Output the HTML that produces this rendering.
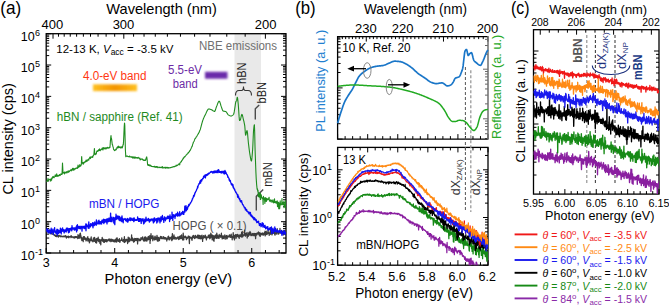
<!DOCTYPE html><html><head><meta charset="utf-8"><style>html,body{margin:0;padding:0;background:#fff;overflow:hidden}svg{display:block}text{font-family:"Liberation Sans", sans-serif}</style></head><body>
<svg width="669" height="306" viewBox="0 0 669 306">
<rect width="669" height="306" fill="#fff"/>
<rect x="234.5" y="33.7" width="26.5" height="219.3" fill="#e9e9e9"/>
<path d="M46.20 253.00L46.20 248.00M59.90 253.00L59.90 250.00M73.61 253.00L73.61 250.00M87.31 253.00L87.31 250.00M101.01 253.00L101.01 250.00M114.71 253.00L114.71 248.00M128.42 253.00L128.42 250.00M142.12 253.00L142.12 250.00M155.82 253.00L155.82 250.00M169.53 253.00L169.53 250.00M183.23 253.00L183.23 248.00M196.93 253.00L196.93 250.00M210.63 253.00L210.63 250.00M224.34 253.00L224.34 250.00M238.04 253.00L238.04 250.00M251.74 253.00L251.74 248.00M265.45 253.00L265.45 250.00M279.15 253.00L279.15 250.00M265.39 33.70L265.39 38.70M245.17 33.70L245.17 36.70M226.78 33.70L226.78 36.70M209.99 33.70L209.99 36.70M194.60 33.70L194.60 36.70M180.44 33.70L180.44 36.70M167.38 33.70L167.38 36.70M155.27 33.70L155.27 36.70M144.04 33.70L144.04 36.70M133.58 33.70L133.58 36.70M123.81 33.70L123.81 38.70M114.68 33.70L114.68 36.70M106.12 33.70L106.12 36.70M98.07 33.70L98.07 36.70M90.50 33.70L90.50 36.70M83.36 33.70L83.36 36.70M76.62 33.70L76.62 36.70M70.24 33.70L70.24 36.70M64.20 33.70L64.20 36.70M58.47 33.70L58.47 36.70M53.02 33.70L53.02 38.70" stroke="#000" stroke-width="1" fill="none"/>
<path d="M46.20 253.01L51.20 253.01M46.20 243.58L49.20 243.58M46.20 238.06L49.20 238.06M46.20 234.15L49.20 234.15M46.20 231.11L49.20 231.11M46.20 228.63L49.20 228.63M46.20 226.53L49.20 226.53M46.20 224.72L49.20 224.72M46.20 223.11L49.20 223.11M46.20 221.68L51.20 221.68M46.20 212.25L49.20 212.25M46.20 206.73L49.20 206.73M46.20 202.82L49.20 202.82M46.20 199.78L49.20 199.78M46.20 197.30L49.20 197.30M46.20 195.20L49.20 195.20M46.20 193.39L49.20 193.39M46.20 191.78L49.20 191.78M46.20 190.35L51.20 190.35M46.20 180.92L49.20 180.92M46.20 175.40L49.20 175.40M46.20 171.49L49.20 171.49M46.20 168.45L49.20 168.45M46.20 165.97L49.20 165.97M46.20 163.87L49.20 163.87M46.20 162.06L49.20 162.06M46.20 160.45L49.20 160.45M46.20 159.02L51.20 159.02M46.20 149.59L49.20 149.59M46.20 144.07L49.20 144.07M46.20 140.16L49.20 140.16M46.20 137.12L49.20 137.12M46.20 134.64L49.20 134.64M46.20 132.54L49.20 132.54M46.20 130.73L49.20 130.73M46.20 129.12L49.20 129.12M46.20 127.69L51.20 127.69M46.20 118.26L49.20 118.26M46.20 112.74L49.20 112.74M46.20 108.83L49.20 108.83M46.20 105.79L49.20 105.79M46.20 103.31L49.20 103.31M46.20 101.21L49.20 101.21M46.20 99.40L49.20 99.40M46.20 97.79L49.20 97.79M46.20 96.36L51.20 96.36M46.20 86.93L49.20 86.93M46.20 81.41L49.20 81.41M46.20 77.50L49.20 77.50M46.20 74.46L49.20 74.46M46.20 71.98L49.20 71.98M46.20 69.88L49.20 69.88M46.20 68.07L49.20 68.07M46.20 66.46L49.20 66.46M46.20 65.03L51.20 65.03M46.20 55.60L49.20 55.60M46.20 50.08L49.20 50.08M46.20 46.17L49.20 46.17M46.20 43.13L49.20 43.13M46.20 40.65L49.20 40.65M46.20 38.55L49.20 38.55M46.20 36.74L49.20 36.74M46.20 35.13L49.20 35.13M46.20 33.70L51.20 33.70" stroke="#000" stroke-width="1" fill="none"/>
<path d="M286.00 253.01L281.00 253.01M286.00 243.58L283.00 243.58M286.00 238.06L283.00 238.06M286.00 234.15L283.00 234.15M286.00 231.11L283.00 231.11M286.00 228.63L283.00 228.63M286.00 226.53L283.00 226.53M286.00 224.72L283.00 224.72M286.00 223.11L283.00 223.11M286.00 221.68L281.00 221.68M286.00 212.25L283.00 212.25M286.00 206.73L283.00 206.73M286.00 202.82L283.00 202.82M286.00 199.78L283.00 199.78M286.00 197.30L283.00 197.30M286.00 195.20L283.00 195.20M286.00 193.39L283.00 193.39M286.00 191.78L283.00 191.78M286.00 190.35L281.00 190.35M286.00 180.92L283.00 180.92M286.00 175.40L283.00 175.40M286.00 171.49L283.00 171.49M286.00 168.45L283.00 168.45M286.00 165.97L283.00 165.97M286.00 163.87L283.00 163.87M286.00 162.06L283.00 162.06M286.00 160.45L283.00 160.45M286.00 159.02L281.00 159.02M286.00 149.59L283.00 149.59M286.00 144.07L283.00 144.07M286.00 140.16L283.00 140.16M286.00 137.12L283.00 137.12M286.00 134.64L283.00 134.64M286.00 132.54L283.00 132.54M286.00 130.73L283.00 130.73M286.00 129.12L283.00 129.12M286.00 127.69L281.00 127.69M286.00 118.26L283.00 118.26M286.00 112.74L283.00 112.74M286.00 108.83L283.00 108.83M286.00 105.79L283.00 105.79M286.00 103.31L283.00 103.31M286.00 101.21L283.00 101.21M286.00 99.40L283.00 99.40M286.00 97.79L283.00 97.79M286.00 96.36L281.00 96.36M286.00 86.93L283.00 86.93M286.00 81.41L283.00 81.41M286.00 77.50L283.00 77.50M286.00 74.46L283.00 74.46M286.00 71.98L283.00 71.98M286.00 69.88L283.00 69.88M286.00 68.07L283.00 68.07M286.00 66.46L283.00 66.46M286.00 65.03L281.00 65.03M286.00 55.60L283.00 55.60M286.00 50.08L283.00 50.08M286.00 46.17L283.00 46.17M286.00 43.13L283.00 43.13M286.00 40.65L283.00 40.65M286.00 38.55L283.00 38.55M286.00 36.74L283.00 36.74M286.00 35.13L283.00 35.13M286.00 33.70L281.00 33.70" stroke="#000" stroke-width="1" fill="none"/>
<rect x="46.2" y="33.7" width="239.8" height="219.3" fill="none" stroke="#000" stroke-width="1.3"/>
<text x="0.20" y="14.00" font-size="17.5" fill="#000" text-anchor="start" textLength="21" lengthAdjust="spacingAndGlyphs" >(a)</text>
<text x="106.30" y="13.90" font-size="14.5" fill="#000" text-anchor="start" textLength="110.5" lengthAdjust="spacingAndGlyphs" >Wavelength (nm)</text>
<text x="52.30" y="28.50" font-size="13" fill="#000" text-anchor="middle" >400</text>
<text x="123.50" y="28.50" font-size="13" fill="#000" text-anchor="middle" >300</text>
<text x="265.70" y="28.50" font-size="13" fill="#000" text-anchor="middle" >200</text>
<text x="46.20" y="267.00" font-size="12.5" fill="#000" text-anchor="middle" >3</text>
<text x="114.71" y="267.00" font-size="12.5" fill="#000" text-anchor="middle" >4</text>
<text x="183.23" y="267.00" font-size="12.5" fill="#000" text-anchor="middle" >5</text>
<text x="251.74" y="267.00" font-size="12.5" fill="#000" text-anchor="middle" >6</text>
<text x="104.60" y="283.50" font-size="14.5" fill="#000" text-anchor="start" textLength="127.5" lengthAdjust="spacingAndGlyphs" >Photon energy (eV)</text>
<text x="34.70" y="259.91" font-size="12.5" fill="#000" text-anchor="end">10</text>
<text x="35.00" y="254.91" font-size="9" fill="#000">-1</text>
<text x="34.70" y="228.58" font-size="12.5" fill="#000" text-anchor="end">10</text>
<text x="35.00" y="223.58" font-size="9" fill="#000">0</text>
<text x="34.70" y="197.25" font-size="12.5" fill="#000" text-anchor="end">10</text>
<text x="35.00" y="192.25" font-size="9" fill="#000">1</text>
<text x="34.70" y="165.92" font-size="12.5" fill="#000" text-anchor="end">10</text>
<text x="35.00" y="160.92" font-size="9" fill="#000">2</text>
<text x="34.70" y="134.59" font-size="12.5" fill="#000" text-anchor="end">10</text>
<text x="35.00" y="129.59" font-size="9" fill="#000">3</text>
<text x="34.70" y="103.26" font-size="12.5" fill="#000" text-anchor="end">10</text>
<text x="35.00" y="98.26" font-size="9" fill="#000">4</text>
<text x="34.70" y="71.93" font-size="12.5" fill="#000" text-anchor="end">10</text>
<text x="35.00" y="66.93" font-size="9" fill="#000">5</text>
<text x="34.70" y="40.60" font-size="12.5" fill="#000" text-anchor="end">10</text>
<text x="35.00" y="35.60" font-size="9" fill="#000">6</text>
<text x="12.60" y="194.60" font-size="14.0" fill="#000" text-anchor="start" textLength="111.5" lengthAdjust="spacingAndGlyphs" transform="rotate(-90 12.60 194.60)" >CL intensity (cps)</text>
<text x="56.3" y="52.5" font-size="11.5" fill="#000">12-13 K, <tspan font-style="italic">V</tspan><tspan font-size="8.5" dy="2.5">acc</tspan><tspan dy="-2.5"> = -3.5 kV</tspan></text>
<text x="199.00" y="50.00" font-size="12" fill="#707070" text-anchor="start" textLength="78" lengthAdjust="spacingAndGlyphs" >NBE emissions</text>
<text x="83.00" y="79.60" font-size="12.5" fill="#ff3812" text-anchor="start" textLength="63.5" lengthAdjust="spacingAndGlyphs" >4.0-eV band</text>
<text x="168.00" y="73.90" font-size="12.5" fill="#6c2ca6" text-anchor="start" textLength="34" lengthAdjust="spacingAndGlyphs" >5.5-eV</text>
<text x="172.80" y="88.20" font-size="12.5" fill="#6c2ca6" text-anchor="start" textLength="25" lengthAdjust="spacingAndGlyphs" >band</text>
<text x="56.70" y="120.70" font-size="12.5" fill="#1e8a1e" text-anchor="start" textLength="126" lengthAdjust="spacingAndGlyphs" >hBN / sapphire (Ref. 41)</text>
<text x="89.00" y="208.40" font-size="12.5" fill="#1a1aee" text-anchor="start" textLength="70.5" lengthAdjust="spacingAndGlyphs" >mBN / HOPG</text>
<text x="172.50" y="230.30" font-size="12.3" fill="#505050" text-anchor="start" textLength="74" lengthAdjust="spacingAndGlyphs" >HOPG ( × 0.1)</text>
<defs><filter id="bl" x="-20%" y="-50%" width="140%" height="200%"><feGaussianBlur stdDeviation="1.0"/></filter><linearGradient id="og" x1="0" x2="1"><stop offset="0" stop-color="#ffc020"/><stop offset="0.5" stop-color="#f39400"/><stop offset="1" stop-color="#ffc020"/></linearGradient></defs>
<rect x="93" y="84.3" width="44" height="6.8" fill="url(#og)" filter="url(#bl)"/>
<rect x="205" y="71.8" width="22.5" height="6.9" fill="#6a2aaa" filter="url(#bl)"/>
<text x="246.00" y="84.00" font-size="12" fill="#222" text-anchor="start" textLength="21.5" lengthAdjust="spacingAndGlyphs" transform="rotate(-90 246.00 84.00)" >hBN</text>
<text x="266.20" y="103.40" font-size="12" fill="#222" text-anchor="start" textLength="21.5" lengthAdjust="spacingAndGlyphs" transform="rotate(-90 266.20 103.40)" >bBN</text>
<text x="272.20" y="186.80" font-size="12" fill="#222" text-anchor="start" textLength="24.5" lengthAdjust="spacingAndGlyphs" transform="rotate(-90 272.20 186.80)" >mBN</text>
<path d="M235.5 95.5 Q235.5 90.5 239 90.5 L241.5 90.5 Q243.5 90.5 243.5 86.5 Q243.5 90.5 245.5 90.5 L248 90.5 Q251.5 90.5 251.5 95.5" fill="none" stroke="#333" stroke-width="1.1"/>
<path d="M259.2 105.0 L255.3 108.8 L255.3 119.4" fill="none" stroke="#4a4a4a" stroke-width="1.4"/>
<path d="M263.2 189.6 L256.3 196.4 L256.3 210.5" fill="none" stroke="#4a4a4a" stroke-width="1.4"/>
<svg x="0" y="0" width="669" height="306"><clipPath id="ca"><rect x="46.2" y="33.7" width="239.8" height="219.3"/></clipPath><g clip-path="url(#ca)">
<path d="M46.20 230.59L46.40 230.63L46.60 230.16L46.80 230.47L47.00 231.39L47.20 231.36L47.40 231.62L47.60 231.47L47.80 231.60L48.00 231.70L48.20 232.01L48.40 231.82L48.60 232.08L48.80 232.19L49.00 232.46L49.20 232.22L49.40 231.71L49.60 232.22L49.80 232.56L50.00 233.38L50.00 233.17L50.20 233.29L50.40 233.13L50.60 232.78L50.80 233.31L51.00 233.81L51.20 233.51L51.40 233.68L51.60 233.58L51.80 233.39L52.00 233.92L52.20 233.91L52.40 233.89L52.60 233.89L52.80 234.32L53.00 234.11L53.20 234.38L53.40 234.22L53.60 234.71L53.80 234.50L54.00 234.65L54.20 235.33L54.40 235.01L54.60 235.11L54.80 234.88L55.00 235.43L55.20 235.09L55.40 236.38L55.60 235.80L55.80 235.53L56.00 235.83L56.00 235.53L56.20 235.71L56.40 235.14L56.60 236.71L56.80 235.88L57.00 235.25L57.20 235.44L57.40 235.73L57.60 235.93L57.80 235.37L58.00 236.52L58.20 235.67L58.40 237.19L58.60 236.05L58.80 235.85L59.00 235.79L59.20 235.42L59.40 235.42L59.60 236.06L59.80 236.23L60.00 236.52L60.20 235.95L60.40 236.69L60.60 235.94L60.80 236.76L61.00 236.69L61.20 235.82L61.40 236.58L61.60 236.38L61.80 236.41L62.00 236.62L62.20 236.33L62.40 236.33L62.60 236.26L62.80 236.77L63.00 236.89L63.20 236.09L63.40 236.69L63.60 236.30L63.80 236.21L64.00 236.26L64.20 236.61L64.40 236.41L64.50 236.38L64.60 236.12L64.80 236.48L65.00 236.86L65.20 235.69L65.40 236.63L65.60 236.72L65.80 235.96L66.00 236.50L66.20 237.17L66.40 238.02L66.60 237.05L66.80 236.37L67.00 236.93L67.20 236.68L67.40 236.40L67.60 236.72L67.80 237.30L68.00 237.17L68.20 236.68L68.40 236.14L68.60 237.26L68.80 237.86L69.00 236.80L69.20 236.56L69.40 236.83L69.60 236.96L69.80 236.81L70.00 236.73L70.20 236.63L70.40 236.69L70.60 236.16L70.80 236.66L71.00 237.58L71.20 235.65L71.40 237.07L71.60 237.16L71.80 236.84L72.00 236.98L72.20 236.68L72.40 237.06L72.60 237.10L72.80 237.14L73.00 236.95L73.20 237.81L73.40 237.37L73.60 237.03L73.80 237.13L74.00 236.82L74.00 237.65L74.20 237.12L74.40 237.50L74.60 236.89L74.80 238.07L75.00 236.62L75.20 237.12L75.40 236.67L75.60 236.85L75.80 237.38L76.00 236.57L76.20 237.11L76.40 236.92L76.60 237.59L76.80 236.70L77.00 237.14L77.20 237.65L77.40 237.43L77.60 237.47L77.80 238.54L78.00 234.59L78.20 237.72L78.40 237.99L78.60 238.01L78.80 237.92L79.00 235.69L79.20 235.84L79.40 238.18L79.60 237.71L79.80 236.92L79.80 233.91L80.00 236.23L80.20 233.29L80.40 234.12L80.40 233.15L80.60 235.86L80.80 235.01L81.00 237.99L81.00 236.55L81.20 238.78L81.40 238.20L81.60 237.45L81.80 240.52L82.00 238.63L82.20 237.91L82.40 239.43L82.60 238.11L82.80 240.35L83.00 237.98L83.20 241.61L83.40 236.66L83.60 239.15L83.80 238.14L84.00 238.52L84.20 239.00L84.40 236.60L84.60 238.08L84.80 237.43L85.00 239.48L85.20 238.20L85.40 238.97L85.60 238.64L85.80 238.39L86.00 240.95L86.20 239.17L86.40 239.52L86.60 239.72L86.80 240.21L87.00 238.76L87.20 237.71L87.40 239.36L87.60 238.50L87.80 236.63L88.00 241.20L88.20 239.86L88.40 239.48L88.60 238.52L88.80 240.40L89.00 239.84L89.20 238.87L89.40 242.87L89.60 242.00L89.80 241.69L90.00 240.95L90.00 240.06L90.20 239.54L90.40 240.33L90.60 238.93L90.80 240.25L91.00 238.20L91.20 236.77L91.40 240.53L91.60 239.69L91.80 240.48L92.00 240.77L92.20 241.04L92.40 240.28L92.60 241.11L92.80 240.39L93.00 241.79L93.20 241.47L93.40 237.85L93.60 239.50L93.80 239.84L94.00 239.45L94.20 239.13L94.40 241.31L94.60 237.38L94.80 239.17L95.00 240.74L95.20 239.36L95.40 239.50L95.60 242.55L95.80 240.77L96.00 240.00L96.20 238.93L96.40 239.55L96.60 243.06L96.80 240.90L97.00 238.35L97.20 240.60L97.40 239.87L97.60 240.65L97.80 239.66L98.00 238.92L98.20 237.23L98.40 239.67L98.60 241.29L98.80 241.52L99.00 240.56L99.20 240.77L99.40 239.31L99.60 239.85L99.80 241.60L100.00 243.40L100.20 240.06L100.40 240.90L100.60 241.99L100.80 244.79L101.00 239.71L101.20 240.52L101.40 239.97L101.60 240.13L101.80 240.13L102.00 239.67L102.20 237.26L102.40 240.89L102.60 240.66L102.80 241.24L103.00 239.15L103.20 239.55L103.40 240.42L103.60 242.09L103.80 240.18L104.00 239.41L104.20 240.43L104.40 242.46L104.60 241.44L104.80 241.69L105.00 240.07L105.20 239.67L105.40 241.47L105.60 241.03L105.80 241.36L106.00 240.05L106.20 239.77L106.40 239.61L106.60 241.49L106.80 241.92L107.00 240.01L107.20 241.53L107.40 240.05L107.60 240.19L107.80 240.43L108.00 239.57L108.20 239.74L108.40 239.74L108.60 239.72L108.80 240.34L109.00 238.87L109.20 241.06L109.40 239.38L109.60 240.22L109.80 240.63L110.00 239.17L110.20 240.16L110.40 240.46L110.60 240.44L110.80 241.73L111.00 241.11L111.20 239.08L111.40 241.34L111.60 240.45L111.80 240.76L112.00 239.34L112.20 240.32L112.40 240.83L112.60 241.19L112.80 241.23L113.00 239.63L113.20 241.37L113.40 240.52L113.60 240.76L113.80 241.49L114.00 240.21L114.20 242.05L114.40 241.70L114.60 241.27L114.80 240.17L115.00 240.47L115.20 239.47L115.40 241.08L115.60 241.80L115.80 239.41L116.00 241.04L116.20 240.88L116.40 238.08L116.60 242.06L116.80 240.41L117.00 239.89L117.20 237.93L117.40 241.20L117.60 240.11L117.80 240.49L118.00 239.62L118.20 240.69L118.40 240.27L118.60 241.33L118.80 240.84L119.00 241.01L119.20 239.87L119.40 238.64L119.60 241.78L119.80 242.34L120.00 240.80L120.00 242.17L120.20 240.97L120.40 240.69L120.60 240.30L120.80 240.14L121.00 240.41L121.20 239.69L121.40 240.27L121.60 240.41L121.80 237.88L122.00 240.15L122.20 239.85L122.40 240.62L122.60 241.21L122.80 240.55L123.00 240.66L123.20 240.52L123.40 239.67L123.60 240.00L123.80 241.30L124.00 242.24L124.20 239.31L124.40 236.74L124.60 242.50L124.80 241.32L125.00 240.38L125.20 241.06L125.40 240.33L125.60 241.62L125.80 239.47L126.00 239.99L126.20 240.46L126.40 239.32L126.60 240.57L126.80 239.47L127.00 240.52L127.20 240.86L127.40 239.86L127.60 243.52L127.80 240.25L128.00 240.61L128.20 237.08L128.40 238.60L128.60 240.42L128.80 241.87L129.00 240.17L129.20 241.46L129.40 237.95L129.60 241.24L129.80 241.11L130.00 240.10L130.20 239.68L130.40 240.28L130.60 239.15L130.80 240.15L131.00 240.21L131.20 239.83L131.40 239.15L131.60 234.80L131.80 238.87L132.00 240.69L132.20 238.92L132.40 237.96L132.60 239.02L132.80 239.68L133.00 239.80L133.20 240.88L133.40 240.72L133.60 242.09L133.80 240.90L134.00 239.47L134.20 238.42L134.40 241.72L134.60 238.82L134.80 239.77L135.00 238.93L135.20 240.39L135.40 238.65L135.60 239.30L135.80 238.71L136.00 240.58L136.20 239.67L136.40 239.68L136.60 238.98L136.80 238.44L137.00 240.50L137.20 240.03L137.40 239.91L137.60 243.97L137.80 239.43L138.00 238.37L138.20 239.51L138.40 238.77L138.60 239.28L138.80 239.17L139.00 239.36L139.20 240.88L139.40 240.08L139.60 239.03L139.80 240.09L140.00 240.32L140.20 239.87L140.40 239.24L140.60 240.57L140.80 239.10L141.00 237.70L141.20 238.54L141.40 239.41L141.60 238.81L141.80 238.90L142.00 238.84L142.20 238.16L142.40 237.50L142.60 236.90L142.80 239.36L143.00 238.58L143.20 238.87L143.40 240.78L143.60 239.19L143.80 239.79L144.00 239.57L144.20 241.03L144.40 237.06L144.60 238.62L144.80 240.91L145.00 238.77L145.20 240.85L145.40 237.91L145.60 236.89L145.80 240.19L146.00 238.59L146.20 238.77L146.40 240.59L146.60 237.99L146.80 241.19L147.00 238.49L147.20 238.05L147.40 237.99L147.60 238.69L147.80 238.59L148.00 239.96L148.20 236.56L148.40 236.42L148.60 237.53L148.80 238.79L149.00 239.31L149.20 238.52L149.40 238.77L149.60 238.83L149.80 235.58L150.00 237.86L150.00 243.37L150.20 238.12L150.40 240.50L150.60 238.47L150.80 237.75L151.00 233.68L151.20 237.72L151.40 238.07L151.60 238.34L151.80 238.35L152.00 238.54L152.20 238.40L152.40 235.99L152.60 237.87L152.80 240.75L153.00 235.81L153.20 238.99L153.40 238.37L153.60 238.89L153.80 238.04L154.00 238.13L154.20 238.43L154.40 239.93L154.60 238.01L154.80 236.79L155.00 236.06L155.20 239.67L155.40 237.95L155.60 237.07L155.80 238.55L156.00 239.40L156.20 238.54L156.40 237.27L156.60 238.15L156.80 237.76L157.00 235.26L157.20 240.73L157.40 238.24L157.60 237.13L157.80 239.63L158.00 241.46L158.20 239.19L158.40 237.68L158.60 237.42L158.80 238.33L159.00 238.44L159.20 239.54L159.40 240.72L159.60 239.81L159.80 237.91L160.00 238.42L160.20 236.99L160.40 238.27L160.60 236.48L160.80 236.88L161.00 236.96L161.20 237.76L161.40 237.78L161.60 238.68L161.80 236.51L162.00 236.85L162.20 238.53L162.40 238.57L162.60 238.68L162.80 238.70L163.00 238.53L163.20 238.27L163.40 238.76L163.60 236.53L163.80 237.38L164.00 238.74L164.20 237.29L164.40 238.20L164.60 237.55L164.80 238.00L165.00 239.12L165.20 238.47L165.40 238.01L165.60 237.57L165.80 238.95L166.00 238.44L166.20 237.98L166.40 239.30L166.60 238.52L166.80 241.00L167.00 238.43L167.20 239.52L167.40 238.16L167.60 238.55L167.80 239.09L168.00 236.51L168.20 238.00L168.40 238.25L168.60 236.09L168.80 238.81L169.00 238.53L169.20 239.87L169.40 237.75L169.60 237.95L169.80 239.57L170.00 237.82L170.20 238.99L170.40 237.84L170.60 237.63L170.80 237.45L171.00 237.21L171.20 237.84L171.40 236.95L171.60 238.92L171.80 240.63L172.00 236.48L172.20 235.96L172.40 233.53L172.60 239.73L172.80 236.21L173.00 238.33L173.20 237.47L173.40 237.08L173.60 237.27L173.80 238.33L174.00 234.91L174.20 239.07L174.40 238.02L174.60 237.21L174.80 237.09L175.00 238.21L175.20 238.14L175.40 237.46L175.60 237.50L175.80 237.79L176.00 239.40L176.20 237.92L176.40 238.87L176.60 238.13L176.80 237.95L177.00 237.81L177.20 238.22L177.40 237.80L177.60 238.35L177.80 236.90L178.00 237.40L178.20 239.03L178.40 237.58L178.60 238.83L178.80 239.66L179.00 237.93L179.20 236.34L179.40 238.41L179.60 238.12L179.80 237.27L180.00 238.92L180.20 237.71L180.40 235.79L180.60 235.94L180.80 237.02L181.00 237.95L181.20 238.62L181.40 236.26L181.60 234.91L181.80 237.96L182.00 237.52L182.20 237.58L182.40 238.61L182.60 239.32L182.80 240.13L183.00 238.41L183.20 233.14L183.40 236.58L183.60 237.83L183.80 239.83L184.00 236.02L184.20 237.67L184.40 237.43L184.60 237.45L184.80 237.07L185.00 237.07L185.20 236.95L185.40 236.19L185.60 237.71L185.80 237.50L186.00 238.10L186.20 237.89L186.40 239.71L186.60 237.24L186.80 238.88L187.00 237.34L187.20 237.92L187.40 238.41L187.60 237.35L187.80 237.45L188.00 237.82L188.20 236.19L188.40 237.60L188.60 236.04L188.80 236.81L189.00 237.78L189.20 240.12L189.40 243.51L189.60 236.92L189.80 236.40L190.00 237.53L190.00 237.39L190.20 237.25L190.40 238.18L190.60 237.97L190.80 237.60L191.00 237.73L191.20 237.63L191.40 237.86L191.60 239.20L191.80 239.47L192.00 240.32L192.20 238.59L192.40 236.03L192.60 237.34L192.80 238.18L193.00 236.95L193.20 237.64L193.40 235.43L193.60 236.60L193.80 237.20L194.00 235.63L194.20 237.25L194.40 236.69L194.60 238.54L194.80 236.97L195.00 237.13L195.20 238.20L195.40 237.48L195.60 235.29L195.80 236.61L196.00 237.58L196.20 236.52L196.40 236.71L196.60 237.59L196.80 237.32L197.00 236.77L197.20 237.43L197.40 237.60L197.60 235.02L197.80 236.76L198.00 236.86L198.20 238.57L198.40 235.24L198.60 236.96L198.80 236.43L199.00 237.72L199.20 238.15L199.40 235.32L199.60 238.43L199.80 237.70L200.00 236.50L200.20 238.85L200.40 236.76L200.60 238.01L200.80 235.52L201.00 237.14L201.20 237.23L201.40 238.63L201.60 238.22L201.80 237.29L202.00 235.15L202.20 237.06L202.40 236.93L202.60 241.42L202.80 237.58L203.00 236.99L203.20 236.89L203.40 237.85L203.60 235.67L203.80 238.06L204.00 237.53L204.20 237.02L204.40 237.63L204.60 236.93L204.80 236.00L205.00 236.96L205.20 235.07L205.40 235.54L205.60 236.99L205.80 238.05L206.00 236.29L206.20 237.10L206.40 239.94L206.60 238.04L206.80 238.55L207.00 237.46L207.20 237.25L207.40 237.23L207.60 237.26L207.80 236.99L208.00 236.76L208.20 236.38L208.40 235.21L208.60 236.76L208.80 237.73L209.00 237.13L209.20 236.02L209.40 237.91L209.60 234.77L209.80 238.79L210.00 237.33L210.20 237.10L210.40 236.82L210.60 237.93L210.80 233.11L211.00 233.87L211.20 237.01L211.40 236.50L211.60 236.76L211.80 237.02L212.00 234.76L212.20 239.99L212.40 237.34L212.60 235.48L212.80 237.51L213.00 236.99L213.20 237.34L213.40 237.50L213.60 240.56L213.80 235.61L214.00 241.30L214.20 236.85L214.40 236.07L214.60 236.62L214.80 236.60L215.00 238.28L215.20 236.91L215.40 235.05L215.60 237.37L215.80 236.85L216.00 237.74L216.20 234.71L216.40 238.02L216.60 238.22L216.80 233.13L217.00 236.78L217.20 235.55L217.40 236.87L217.60 235.26L217.80 238.14L218.00 235.90L218.20 237.16L218.40 237.12L218.60 236.39L218.80 236.02L219.00 238.37L219.20 234.49L219.40 236.16L219.60 236.38L219.80 236.92L220.00 236.48L220.20 235.39L220.40 236.88L220.60 237.27L220.80 237.20L221.00 236.71L221.20 236.28L221.40 233.22L221.60 236.77L221.80 236.97L222.00 236.59L222.20 238.95L222.40 235.88L222.60 237.58L222.80 237.20L223.00 238.12L223.20 238.37L223.40 235.99L223.60 238.33L223.80 236.46L224.00 237.05L224.20 238.77L224.40 236.83L224.60 236.80L224.80 234.87L225.00 236.82L225.20 235.96L225.40 236.39L225.60 236.36L225.80 239.24L226.00 236.89L226.20 237.13L226.40 235.63L226.60 236.14L226.80 237.85L227.00 235.29L227.20 238.70L227.40 236.42L227.60 236.34L227.80 236.58L228.00 236.44L228.20 236.49L228.40 236.39L228.60 237.00L228.80 236.00L229.00 235.54L229.20 236.39L229.40 234.95L229.60 236.41L229.80 236.49L230.00 237.26L230.00 235.13L230.20 236.27L230.40 237.20L230.60 236.09L230.80 237.42L231.00 236.92L231.20 234.14L231.40 236.13L231.60 237.02L231.80 236.37L232.00 236.68L232.20 239.80L232.40 236.65L232.60 236.33L232.80 237.28L233.00 236.06L233.20 232.70L233.40 235.61L233.60 236.33L233.80 238.16L234.00 236.32L234.20 235.57L234.40 239.93L234.60 235.84L234.80 235.31L235.00 236.10L235.20 235.64L235.40 234.61L235.60 236.44L235.80 236.35L236.00 238.50L236.20 234.71L236.40 237.41L236.60 236.65L236.80 235.21L237.00 235.76L237.20 236.05L237.40 235.34L237.60 234.36L237.80 236.73L238.00 234.70L238.20 235.66L238.40 235.54L238.60 237.12L238.80 235.73L239.00 235.45L239.20 238.34L239.40 235.25L239.60 236.08L239.80 234.84L240.00 236.15L240.20 236.11L240.40 236.42L240.60 235.41L240.80 234.69L241.00 235.68L241.20 236.93L241.40 234.93L241.60 232.45L241.80 234.43L242.00 237.11L242.20 231.31L242.40 233.25L242.60 233.78L242.80 236.60L243.00 234.96L243.20 235.61L243.40 235.64L243.60 235.01L243.80 235.68L244.00 235.03L244.20 235.16L244.40 234.62L244.60 230.04L244.80 235.21L245.00 234.43L245.20 234.44L245.40 236.24L245.60 234.65L245.80 233.49L246.00 235.17L246.20 234.95L246.40 232.91L246.60 234.52L246.80 235.05L247.00 234.28L247.20 238.01L247.40 235.58L247.60 234.75L247.80 236.32L248.00 232.30L248.20 233.96L248.40 236.25L248.60 234.66L248.80 233.65L249.00 234.74L249.20 235.14L249.40 234.77L249.60 232.39L249.80 232.17L250.00 234.31L250.00 231.42L250.20 232.88L250.40 234.77L250.60 234.34L250.80 232.86L251.00 235.69L251.20 234.14L251.40 235.71L251.60 234.61L251.80 234.62L252.00 234.21L252.20 234.73L252.40 233.69L252.60 233.72L252.80 235.55L253.00 233.48L253.20 234.04L253.40 234.87L253.60 233.88L253.80 233.96L254.00 235.76L254.20 233.41L254.40 233.54L254.60 235.52L254.80 233.63L255.00 233.78L255.20 235.44L255.40 233.73L255.60 238.71L255.80 235.02L256.00 235.15L256.20 233.35L256.40 233.30L256.60 234.67L256.80 234.98L257.00 233.29L257.20 233.20L257.40 233.34L257.60 232.81L257.80 233.80L258.00 233.95L258.20 234.20L258.40 231.94L258.60 233.04L258.80 232.58L259.00 233.32L259.20 232.97L259.40 235.70L259.60 233.57L259.80 232.67L260.00 234.17L260.20 236.42L260.40 234.58L260.60 234.08L260.80 233.50L261.00 233.54L261.20 233.27L261.40 234.56L261.60 234.53L261.80 233.66L262.00 234.82L262.20 233.98L262.40 234.06L262.60 233.07L262.80 232.96L263.00 232.89L263.20 235.15L263.40 234.40L263.60 235.00L263.80 234.47L264.00 234.37L264.20 233.39L264.40 234.18L264.60 232.50L264.80 233.81L265.00 231.25L265.20 235.86L265.40 234.71L265.60 232.42L265.80 234.10L266.00 234.33L266.20 231.15L266.40 233.49L266.60 233.19L266.80 233.58L267.00 234.65L267.20 233.84L267.40 232.52L267.60 233.38L267.80 233.38L268.00 229.85L268.20 232.04L268.40 232.93L268.60 232.28L268.80 232.52L269.00 233.57L269.20 235.47L269.40 233.07L269.60 233.45L269.80 233.79L270.00 233.49L270.20 233.44L270.40 227.63L270.60 234.28L270.80 232.04L271.00 232.12L271.20 233.05L271.40 233.19L271.60 233.64L271.80 232.50L272.00 234.96L272.20 233.23L272.40 233.99L272.60 232.89L272.80 231.16L273.00 229.55L273.20 233.19L273.40 232.73L273.60 232.75L273.80 232.46L274.00 231.91L274.20 232.77L274.40 232.20L274.60 234.18L274.80 231.85L275.00 235.23L275.20 233.90L275.40 232.50L275.60 233.43L275.80 232.87L276.00 232.63L276.20 233.56L276.40 233.64L276.60 231.83L276.80 234.14L277.00 230.15L277.20 228.56L277.40 232.57L277.60 232.13L277.80 232.42L278.00 232.52L278.20 232.48L278.40 234.05L278.60 234.14L278.80 232.17L279.00 231.99L279.20 232.80L279.40 231.63L279.60 232.24L279.80 232.95L280.00 228.39L280.20 233.11L280.40 232.96L280.60 232.15L280.80 231.73L281.00 232.42L281.20 231.86L281.40 233.24L281.60 232.49L281.80 231.85L282.00 233.14L282.20 232.48L282.40 231.05L282.60 232.07L282.80 232.20L283.00 234.19L283.20 231.79L283.40 232.08L283.60 234.93L283.80 232.01L284.00 233.09L284.20 230.65L284.40 231.90L284.60 231.20L284.80 233.40L285.00 232.17L285.20 231.31L285.40 230.52L285.60 231.87L285.80 230.53L286.00 231.97L286.00 232.55" stroke="#3c3c3c" stroke-width="1.25" fill="none" stroke-linejoin="round" />
<path d="M46.20 231.80L46.40 229.93L46.60 231.08L46.80 228.80L47.00 230.73L47.20 228.71L47.40 230.21L47.60 231.79L47.80 230.00L48.00 230.41L48.20 233.04L48.40 231.13L48.60 231.12L48.80 229.86L49.00 232.34L49.20 231.91L49.40 231.59L49.60 231.75L49.80 229.99L50.00 230.89L50.20 231.67L50.40 233.70L50.60 232.44L50.80 231.81L51.00 231.54L51.20 228.22L51.40 232.93L51.60 229.61L51.80 230.23L52.00 231.96L52.20 232.42L52.40 232.30L52.60 231.41L52.80 230.53L53.00 229.02L53.20 232.64L53.40 234.42L53.60 230.83L53.80 232.74L54.00 231.30L54.20 231.06L54.40 231.51L54.60 227.64L54.80 231.39L55.00 230.64L55.20 232.02L55.40 231.50L55.60 232.75L55.80 232.98L56.00 231.07L56.20 230.96L56.40 233.47L56.60 231.51L56.80 229.96L57.00 229.26L57.20 235.21L57.40 231.66L57.60 229.42L57.80 231.52L58.00 231.51L58.20 231.37L58.40 233.68L58.60 233.64L58.80 230.20L59.00 230.38L59.20 231.31L59.40 232.53L59.60 231.77L59.80 232.08L60.00 231.65L60.00 230.69L60.20 232.40L60.40 228.07L60.60 231.85L60.80 230.45L61.00 231.24L61.20 234.06L61.40 231.28L61.60 229.13L61.80 230.98L62.00 231.45L62.20 229.00L62.40 230.36L62.60 227.86L62.80 230.99L63.00 230.62L63.20 230.84L63.40 230.30L63.60 231.10L63.80 229.71L64.00 232.24L64.20 232.99L64.40 230.57L64.60 230.47L64.80 231.69L65.00 229.95L65.20 231.29L65.40 229.86L65.60 230.88L65.80 229.91L66.00 230.47L66.20 232.00L66.40 228.09L66.60 231.02L66.80 230.17L67.00 229.78L67.20 229.67L67.40 228.11L67.60 229.30L67.80 230.14L68.00 228.30L68.20 230.18L68.40 232.17L68.60 232.76L68.80 231.08L69.00 230.52L69.20 228.61L69.40 232.18L69.60 228.65L69.80 230.71L70.00 230.74L70.20 229.64L70.40 229.37L70.60 228.43L70.80 229.29L71.00 228.70L71.20 227.87L71.40 227.85L71.60 229.95L71.80 230.79L72.00 227.82L72.00 225.60L72.20 228.36L72.40 227.70L72.60 227.98L72.80 229.03L73.00 228.67L73.20 228.65L73.40 227.92L73.60 229.09L73.80 228.17L74.00 228.44L74.20 228.54L74.40 230.13L74.60 227.88L74.80 229.05L75.00 228.02L75.20 229.89L75.40 228.18L75.60 228.37L75.80 229.65L76.00 228.69L76.20 226.70L76.40 227.01L76.60 231.93L76.80 225.49L77.00 227.64L77.20 230.42L77.40 224.77L77.60 226.95L77.80 227.18L78.00 226.30L78.20 227.85L78.40 228.06L78.60 227.41L78.80 226.37L79.00 228.68L79.20 228.61L79.40 227.82L79.60 226.45L79.80 227.71L80.00 227.87L80.20 227.41L80.40 228.74L80.60 227.25L80.80 227.47L81.00 226.03L81.20 227.50L81.40 228.05L81.60 227.89L81.80 226.65L82.00 231.10L82.20 227.74L82.40 227.01L82.60 226.95L82.80 227.86L83.00 226.08L83.20 227.33L83.40 227.53L83.60 226.98L83.80 228.20L84.00 226.82L84.20 226.78L84.40 226.28L84.60 228.49L84.80 226.31L85.00 227.17L85.20 226.48L85.40 228.55L85.60 228.72L85.80 223.93L86.00 230.76L86.20 226.71L86.40 224.67L86.60 226.42L86.80 224.22L87.00 226.45L87.20 225.39L87.40 225.99L87.60 225.78L87.80 226.43L88.00 227.15L88.20 228.08L88.40 225.71L88.60 226.21L88.80 221.87L89.00 225.72L89.00 228.38L89.20 224.58L89.40 227.12L89.60 226.12L89.80 225.21L90.00 226.40L90.20 225.05L90.40 226.95L90.60 223.73L90.80 224.00L91.00 225.92L91.20 225.10L91.40 223.98L91.60 225.08L91.80 224.49L92.00 225.01L92.20 225.46L92.40 225.94L92.60 222.69L92.80 224.81L93.00 227.75L93.20 224.39L93.40 225.13L93.60 222.79L93.80 225.54L94.00 224.35L94.20 225.51L94.40 224.84L94.60 225.22L94.80 221.86L95.00 224.35L95.20 222.87L95.40 223.08L95.60 223.20L95.80 223.72L96.00 223.73L96.20 225.24L96.40 219.87L96.60 222.35L96.80 222.86L97.00 224.04L97.20 223.12L97.40 222.97L97.60 223.56L97.80 223.15L98.00 222.22L98.20 221.02L98.40 222.51L98.60 223.85L98.80 222.64L99.00 220.26L99.20 222.17L99.40 221.97L99.60 222.31L99.80 222.25L100.00 224.18L100.00 221.63L100.20 221.76L100.40 222.14L100.60 223.24L100.80 222.30L101.00 221.69L101.20 222.63L101.40 221.62L101.60 224.05L101.80 221.01L102.00 220.22L102.20 222.46L102.40 220.91L102.60 222.46L102.80 221.53L103.00 221.27L103.20 219.56L103.40 221.95L103.60 219.20L103.80 223.55L104.00 222.31L104.20 220.48L104.40 219.62L104.60 222.23L104.80 220.76L105.00 219.45L105.20 220.70L105.40 219.99L105.60 220.41L105.80 220.86L106.00 222.17L106.20 221.31L106.40 219.34L106.60 220.31L106.80 220.28L107.00 223.87L107.20 218.56L107.40 220.17L107.60 221.75L107.80 219.84L108.00 219.39L108.20 220.06L108.40 219.48L108.60 221.65L108.80 218.14L109.00 218.92L109.20 218.03L109.40 220.17L109.60 219.10L109.80 221.06L110.00 220.95L110.20 221.38L110.40 218.77L110.60 213.13L110.80 219.06L111.00 221.68L111.20 219.90L111.40 217.16L111.60 219.59L111.80 220.73L112.00 221.57L112.20 219.48L112.40 220.11L112.60 219.93L112.80 218.49L113.00 217.23L113.20 219.27L113.40 217.44L113.60 218.35L113.80 223.02L114.00 218.62L114.20 218.49L114.40 220.52L114.60 217.82L114.80 224.65L115.00 219.88L115.20 217.90L115.40 217.75L115.60 216.81L115.80 219.72L116.00 217.07L116.00 214.23L116.20 219.45L116.40 218.27L116.60 218.49L116.80 218.72L117.00 215.86L117.20 216.61L117.40 218.23L117.60 216.11L117.80 218.31L118.00 218.93L118.20 218.72L118.40 218.65L118.60 216.20L118.80 217.77L119.00 219.99L119.20 217.22L119.40 218.63L119.60 216.44L119.80 220.61L120.00 217.66L120.20 218.51L120.40 218.83L120.60 219.31L120.80 220.75L121.00 219.43L121.20 218.53L121.40 217.13L121.60 219.44L121.80 221.69L122.00 215.83L122.20 219.78L122.40 218.09L122.60 219.02L122.80 219.18L123.00 219.41L123.20 222.83L123.40 219.67L123.60 219.04L123.80 219.83L124.00 219.27L124.20 219.19L124.40 219.11L124.60 219.42L124.80 218.93L125.00 218.82L125.00 218.36L125.20 219.39L125.40 219.02L125.60 220.57L125.80 220.65L126.00 219.19L126.20 219.80L126.40 221.08L126.60 219.25L126.80 219.68L127.00 219.46L127.20 219.92L127.40 221.95L127.60 218.40L127.80 222.11L128.00 219.99L128.20 220.46L128.40 219.93L128.60 220.90L128.80 219.25L129.00 220.16L129.20 219.06L129.40 219.69L129.60 220.10L129.80 218.83L130.00 217.72L130.20 220.52L130.40 220.61L130.60 220.09L130.80 219.31L131.00 220.09L131.20 218.06L131.40 220.11L131.60 219.91L131.80 220.01L132.00 219.66L132.20 219.03L132.40 220.35L132.60 219.72L132.80 220.43L133.00 219.51L133.20 218.18L133.40 219.91L133.60 220.09L133.80 221.58L134.00 221.25L134.20 217.82L134.40 220.60L134.60 219.26L134.80 220.35L135.00 219.63L135.20 219.48L135.40 219.88L135.60 219.97L135.80 220.38L136.00 220.23L136.20 220.34L136.40 219.69L136.60 220.36L136.80 219.61L137.00 220.19L137.20 219.89L137.40 220.10L137.60 216.84L137.80 219.99L138.00 219.23L138.00 219.76L138.20 218.21L138.40 220.35L138.60 221.45L138.80 219.68L139.00 218.54L139.20 220.26L139.40 218.72L139.60 221.43L139.80 218.68L140.00 219.70L140.20 219.99L140.40 218.65L140.60 219.58L140.80 219.44L141.00 220.52L141.20 223.37L141.40 219.70L141.60 220.82L141.80 218.81L142.00 220.16L142.20 219.86L142.40 219.48L142.60 220.97L142.80 220.64L143.00 218.77L143.20 219.50L143.40 220.96L143.60 223.93L143.80 220.24L144.00 221.28L144.20 223.24L144.40 220.62L144.60 220.32L144.80 219.24L145.00 219.72L145.20 220.27L145.40 221.80L145.60 219.53L145.80 219.78L146.00 217.08L146.20 220.47L146.40 219.89L146.60 220.85L146.80 219.29L147.00 220.36L147.20 220.40L147.40 219.93L147.60 219.09L147.80 219.80L148.00 220.63L148.20 219.09L148.40 218.39L148.60 219.93L148.80 219.29L149.00 220.86L149.20 220.94L149.40 222.07L149.60 221.07L149.80 220.33L150.00 219.08L150.00 220.97L150.20 220.56L150.40 220.61L150.60 220.42L150.80 220.95L151.00 219.43L151.20 220.30L151.40 219.92L151.60 219.50L151.80 219.46L152.00 218.74L152.20 219.81L152.40 219.52L152.60 219.63L152.80 220.92L153.00 220.18L153.20 220.16L153.40 222.96L153.60 218.93L153.80 219.71L154.00 218.10L154.20 219.44L154.40 221.81L154.60 217.98L154.80 220.30L155.00 220.83L155.20 219.60L155.40 220.42L155.60 219.43L155.80 219.21L156.00 219.53L156.20 218.62L156.40 219.03L156.60 219.01L156.80 222.99L157.00 219.07L157.20 218.69L157.40 221.39L157.60 218.19L157.80 221.89L158.00 220.51L158.20 219.67L158.40 219.18L158.60 218.44L158.80 217.84L159.00 217.80L159.20 218.93L159.40 219.06L159.60 220.99L159.80 219.29L160.00 222.93L160.20 219.73L160.40 218.02L160.60 219.26L160.80 218.06L161.00 216.73L161.20 221.15L161.40 218.72L161.60 218.16L161.80 217.56L162.00 219.38L162.20 218.95L162.40 215.49L162.50 219.53L162.60 218.35L162.80 219.71L163.00 218.87L163.20 218.92L163.40 218.73L163.60 219.18L163.80 222.40L164.00 219.53L164.20 216.79L164.40 218.59L164.60 217.85L164.80 217.03L165.00 217.59L165.20 217.77L165.40 220.75L165.60 218.98L165.80 219.45L166.00 218.74L166.20 217.79L166.40 217.95L166.60 218.02L166.80 217.60L167.00 217.89L167.20 218.74L167.40 216.20L167.60 217.37L167.80 217.84L168.00 218.25L168.20 218.12L168.40 218.32L168.60 216.26L168.80 216.72L169.00 217.18L169.20 217.05L169.40 218.22L169.60 221.55L169.80 217.89L170.00 214.87L170.20 216.89L170.40 218.21L170.60 219.07L170.80 217.45L171.00 216.87L171.20 216.85L171.40 217.42L171.60 218.31L171.80 216.68L172.00 216.10L172.00 212.14L172.20 215.72L172.40 218.01L172.60 217.07L172.80 220.47L173.00 214.82L173.20 216.32L173.40 217.38L173.60 216.85L173.80 214.53L174.00 216.14L174.20 216.59L174.40 216.66L174.60 216.06L174.80 215.17L175.00 218.54L175.20 215.90L175.40 216.43L175.60 215.90L175.80 214.06L176.00 215.00L176.20 213.69L176.40 214.67L176.60 214.65L176.80 215.27L177.00 214.96L177.20 215.01L177.40 216.19L177.60 212.23L177.80 213.64L178.00 215.95L178.20 215.05L178.40 214.80L178.60 214.27L178.80 214.88L179.00 213.96L179.20 215.84L179.40 215.58L179.60 214.12L179.70 211.67L179.80 215.83L180.00 213.82L180.20 214.52L180.40 215.22L180.60 214.76L180.80 214.98L181.00 213.62L181.20 214.59L181.40 213.30L181.60 212.65L181.80 213.08L182.00 212.61L182.20 213.57L182.40 213.74L182.60 211.40L182.80 211.41L183.00 212.07L183.20 212.12L183.40 214.34L183.60 213.94L183.80 214.34L184.00 212.24L184.20 211.94L184.40 210.82L184.60 210.99L184.80 206.23L185.00 212.03L185.00 210.44L185.20 209.02L185.40 210.07L185.60 209.84L185.80 210.56L186.00 205.56L186.20 208.77L186.40 210.73L186.60 210.16L186.80 209.03L187.00 208.62L187.20 207.49L187.40 209.30L187.60 208.44L187.80 207.52L188.00 206.19L188.20 206.21L188.40 206.49L188.60 206.11L188.80 204.28L189.00 205.81L189.00 205.90L189.20 205.08L189.40 204.95L189.60 204.42L189.80 204.13L190.00 204.12L190.20 203.60L190.40 202.78L190.60 203.20L190.80 202.41L191.00 201.96L191.20 201.85L191.40 201.52L191.60 201.34L191.80 200.84L192.00 200.19L192.20 199.86L192.40 198.68L192.60 199.03L192.80 198.10L193.00 197.70L193.20 196.96L193.40 197.10L193.60 195.35L193.80 196.57L194.00 196.31L194.00 196.36L194.20 194.90L194.40 195.17L194.60 195.05L194.80 192.87L195.00 193.13L195.20 192.79L195.40 192.55L195.60 191.62L195.80 191.65L196.00 190.96L196.20 190.80L196.40 190.18L196.60 189.87L196.80 188.86L197.00 188.93L197.20 188.49L197.40 187.98L197.60 186.33L197.80 187.74L198.00 186.33L198.20 185.49L198.40 185.21L198.60 184.80L198.80 184.32L198.80 183.98L199.00 183.73L199.20 183.60L199.40 183.83L199.60 183.12L199.80 181.74L200.00 182.57L200.20 181.93L200.40 180.39L200.60 183.16L200.80 181.25L201.00 181.25L201.20 180.78L201.40 179.64L201.60 181.10L201.80 181.01L202.00 179.36L202.20 179.45L202.40 179.12L202.60 178.47L202.80 178.86L203.00 178.78L203.20 178.45L203.40 178.04L203.60 176.05L203.80 176.93L204.00 177.01L204.00 177.23L204.20 176.74L204.40 176.67L204.60 177.09L204.80 175.05L205.00 176.01L205.20 175.90L205.40 177.91L205.60 175.50L205.80 174.65L206.00 175.49L206.20 175.59L206.40 174.75L206.60 175.65L206.80 174.58L207.00 175.09L207.20 174.21L207.40 175.22L207.60 174.02L207.80 174.57L208.00 174.65L208.20 173.70L208.40 173.10L208.60 173.80L208.80 173.57L209.00 173.41L209.20 173.66L209.40 173.11L209.60 173.00L209.80 172.85L210.00 172.67L210.20 172.48L210.40 171.92L210.60 172.05L210.80 171.86L211.00 171.68L211.00 172.38L211.20 171.32L211.40 171.57L211.60 171.98L211.80 171.73L212.00 171.60L212.20 171.78L212.40 171.90L212.60 172.08L212.80 173.17L213.00 172.41L213.20 171.77L213.40 171.78L213.60 171.73L213.80 171.47L214.00 172.84L214.20 170.88L214.40 171.36L214.60 171.92L214.80 171.82L215.00 171.45L215.20 172.63L215.40 171.60L215.60 171.77L215.80 170.89L216.00 172.33L216.20 170.92L216.40 171.51L216.60 172.26L216.80 172.58L217.00 172.31L217.20 172.04L217.40 171.20L217.60 170.29L217.80 171.47L218.00 170.57L218.00 172.64L218.20 169.68L218.40 171.36L218.60 171.17L218.80 169.98L219.00 171.63L219.20 170.81L219.40 172.40L219.60 171.92L219.80 171.60L220.00 172.27L220.20 172.19L220.40 171.62L220.60 172.37L220.80 172.74L221.00 172.01L221.20 171.75L221.40 172.66L221.60 172.94L221.80 171.82L222.00 171.22L222.20 172.64L222.40 172.24L222.60 171.74L222.80 172.18L223.00 171.92L223.20 172.99L223.40 172.02L223.60 171.80L223.80 171.14L224.00 172.10L224.20 174.03L224.40 171.95L224.60 172.31L224.80 173.67L225.00 170.46L225.20 172.19L225.40 172.91L225.60 171.73L225.80 173.37L225.80 173.00L226.00 172.32L226.20 173.35L226.40 173.69L226.60 174.24L226.80 174.18L227.00 174.67L227.20 174.84L227.40 175.30L227.60 175.46L227.80 177.05L228.00 177.36L228.20 176.92L228.40 177.67L228.60 177.82L228.80 177.95L229.00 178.43L229.20 180.17L229.40 179.18L229.60 179.81L229.80 181.11L230.00 180.26L230.20 181.31L230.40 180.59L230.60 181.92L230.80 182.44L231.00 182.90L231.20 184.13L231.40 183.40L231.60 184.93L231.80 183.66L232.00 184.32L232.00 183.92L232.20 183.89L232.40 185.03L232.60 185.74L232.80 186.24L233.00 184.74L233.20 187.63L233.40 186.73L233.60 187.20L233.80 188.32L234.00 188.92L234.20 188.91L234.40 188.83L234.60 189.37L234.80 190.29L235.00 190.04L235.20 191.00L235.40 191.35L235.60 191.34L235.80 192.47L236.00 192.03L236.20 192.85L236.40 193.08L236.60 193.14L236.80 193.75L237.00 194.22L237.20 194.54L237.40 194.22L237.60 197.12L237.80 196.90L238.00 194.91L238.20 197.45L238.40 196.89L238.60 196.63L238.80 198.11L239.00 197.97L239.20 198.68L239.40 199.30L239.60 199.25L239.80 198.57L240.00 200.47L240.00 200.22L240.20 201.10L240.40 200.37L240.60 201.36L240.80 201.92L241.00 201.48L241.20 201.87L241.40 202.10L241.60 200.60L241.80 202.59L242.00 203.07L242.20 202.90L242.40 204.25L242.60 204.17L242.80 204.63L243.00 204.64L243.20 205.07L243.40 205.86L243.60 205.84L243.80 206.29L244.00 206.44L244.20 206.90L244.40 207.88L244.60 207.21L244.80 207.84L245.00 208.36L245.20 207.69L245.40 209.96L245.40 208.80L245.60 208.71L245.80 209.58L246.00 209.93L246.20 209.84L246.40 210.73L246.60 209.38L246.80 210.41L247.00 210.91L247.20 211.64L247.40 211.21L247.60 211.39L247.80 211.40L248.00 211.81L248.20 212.02L248.40 212.94L248.60 212.90L248.80 212.93L249.00 213.72L249.20 212.19L249.40 213.67L249.60 213.51L249.80 214.09L250.00 213.61L250.00 213.95L250.20 215.00L250.40 212.44L250.60 214.23L250.80 214.83L251.00 215.97L251.20 214.81L251.40 216.27L251.60 215.17L251.80 215.54L252.00 216.21L252.20 216.62L252.40 217.62L252.60 217.83L252.80 216.46L253.00 217.70L253.20 217.64L253.40 217.42L253.60 218.43L253.80 219.23L254.00 218.22L254.20 219.81L254.40 217.66L254.60 218.07L254.80 219.67L255.00 218.95L255.20 219.67L255.40 219.74L255.60 219.03L255.80 220.70L256.00 220.88L256.20 219.67L256.40 220.32L256.60 221.71L256.80 222.54L257.00 222.46L257.20 221.66L257.40 221.64L257.60 222.00L257.80 221.52L257.80 222.29L258.00 221.84L258.20 221.70L258.40 222.47L258.60 221.26L258.80 222.88L259.00 223.42L259.20 223.44L259.40 225.55L259.60 224.53L259.80 223.78L260.00 224.86L260.20 223.71L260.40 224.60L260.60 223.62L260.80 224.21L261.00 226.70L261.20 224.58L261.40 224.55L261.60 225.31L261.80 224.44L262.00 225.73L262.20 222.57L262.40 224.61L262.60 224.51L262.80 224.91L263.00 227.20L263.20 223.38L263.40 225.40L263.60 226.03L263.80 226.43L264.00 226.75L264.20 226.08L264.40 225.79L264.60 227.45L264.80 225.60L265.00 225.25L265.20 226.33L265.40 227.02L265.60 228.77L265.80 227.74L266.00 227.51L266.20 227.56L266.40 228.02L266.60 228.00L266.80 227.60L267.00 226.76L267.20 227.47L267.40 228.90L267.60 228.63L267.60 229.08L267.80 226.65L268.00 229.74L268.20 228.38L268.40 230.08L268.60 228.87L268.80 228.85L269.00 229.59L269.20 229.11L269.40 229.28L269.60 228.15L269.80 229.26L270.00 228.89L270.20 227.79L270.40 228.27L270.60 229.30L270.80 228.91L271.00 230.02L271.20 228.46L271.40 226.88L271.60 233.47L271.80 229.35L272.00 229.78L272.20 229.17L272.40 229.23L272.60 229.78L272.80 230.66L273.00 228.16L273.20 230.98L273.40 233.15L273.60 230.35L273.80 230.07L274.00 229.81L274.20 229.69L274.40 230.18L274.60 231.48L274.80 226.85L275.00 231.33L275.20 231.06L275.40 228.36L275.60 229.40L275.80 231.41L276.00 231.32L276.00 230.65L276.20 232.01L276.40 230.44L276.60 231.02L276.80 230.08L277.00 231.49L277.20 229.96L277.40 230.55L277.60 231.94L277.80 231.41L278.00 231.75L278.20 231.98L278.40 231.73L278.60 230.90L278.80 232.02L279.00 230.59L279.20 231.27L279.40 231.70L279.60 230.72L279.80 230.71L280.00 232.19L280.20 232.46L280.40 231.79L280.60 231.87L280.80 231.44L281.00 232.18L281.20 232.33L281.40 233.76L281.60 230.40L281.80 233.61L282.00 235.36L282.20 232.15L282.40 232.92L282.60 233.30L282.80 232.83L283.00 232.20L283.20 232.87L283.40 233.75L283.60 231.59L283.80 232.76L284.00 230.52L284.20 233.76L284.40 233.54L284.60 231.19L284.80 233.53L285.00 233.43L285.20 232.08L285.40 233.20L285.60 233.56L285.80 232.95L286.00 233.31L286.00 235.58" stroke="#0a0af5" stroke-width="1.3" fill="none" stroke-linejoin="round" />
<path d="M46.20 181.13L46.50 181.62L46.80 181.17L47.10 180.34L47.40 180.37L47.70 181.10L48.00 178.32L48.30 180.71L48.60 180.53L48.90 179.97L49.20 179.64L49.50 179.47L49.80 179.29L50.00 179.45L50.10 179.46L50.40 179.35L50.70 181.25L51.00 179.35L51.30 178.89L51.60 180.28L51.90 177.98L52.20 177.65L52.50 178.07L52.80 176.66L53.10 176.36L53.40 177.37L53.70 177.14L54.00 177.80L54.30 176.96L54.60 176.69L54.90 176.54L55.00 176.18L55.20 174.74L55.50 175.88L55.80 176.43L56.10 175.71L56.40 175.90L56.70 173.75L57.00 176.36L57.30 175.27L57.60 175.44L57.90 176.29L58.20 175.57L58.50 176.02L58.80 175.55L59.10 175.61L59.40 174.45L59.70 175.15L60.00 175.01L60.00 175.61L60.30 174.75L60.60 174.92L60.90 173.78L61.20 174.51L61.50 174.26L61.80 173.68L62.00 174.45L62.10 172.65L62.40 165.55L62.50 163.09L62.70 166.63L63.00 173.15L63.00 173.20L63.30 172.44L63.60 172.87L63.90 172.53L64.20 172.68L64.50 171.96L64.50 173.93L64.80 172.25L65.10 172.74L65.40 172.23L65.70 173.00L66.00 172.46L66.30 171.59L66.60 172.62L66.90 172.99L67.20 172.64L67.50 171.86L67.80 171.13L68.10 171.14L68.40 172.33L68.70 171.39L69.00 170.77L69.30 171.77L69.60 171.14L69.90 170.94L70.20 170.62L70.50 170.54L70.80 170.17L71.10 169.22L71.40 170.88L71.70 170.10L72.00 170.05L72.00 169.80L72.30 170.19L72.60 168.40L72.90 169.49L73.20 168.23L73.50 168.73L73.80 170.46L74.10 169.27L74.40 168.90L74.70 168.85L75.00 169.31L75.30 168.39L75.60 168.50L75.90 168.48L76.20 167.97L76.50 167.99L76.80 168.16L77.10 168.44L77.40 166.97L77.70 168.26L78.00 165.13L78.30 167.34L78.60 167.29L78.90 166.09L79.20 166.42L79.50 166.76L79.80 164.53L80.00 166.13L80.10 166.34L80.40 165.81L80.70 165.93L81.00 165.06L81.30 164.58L81.30 164.86L81.60 157.59L81.70 156.63L81.90 160.92L82.10 163.07L82.20 162.82L82.50 162.69L82.80 163.95L83.10 162.74L83.40 164.11L83.70 162.52L84.00 162.35L84.30 162.85L84.60 162.24L84.90 161.81L85.20 161.45L85.50 161.96L85.80 161.04L86.00 161.84L86.10 160.05L86.40 160.68L86.70 160.57L87.00 161.39L87.30 159.82L87.60 160.34L87.90 159.88L88.20 159.71L88.50 159.36L88.80 160.27L89.10 158.56L89.40 158.39L89.70 157.84L90.00 156.97L90.00 157.62L90.30 158.58L90.60 158.11L90.90 156.76L91.20 157.40L91.50 157.13L91.80 157.09L92.10 157.00L92.40 156.39L92.70 157.50L93.00 155.98L93.30 155.75L93.60 155.26L93.90 154.07L94.00 153.36L94.20 151.05L94.40 148.54L94.50 149.55L94.80 154.28L94.80 153.33L95.10 154.75L95.40 154.25L95.70 154.28L96.00 153.43L96.30 153.92L96.60 151.73L96.90 151.20L97.20 150.67L97.50 151.47L97.80 151.13L98.10 150.70L98.40 150.94L98.70 149.51L98.80 150.69L99.00 149.99L99.30 150.52L99.60 148.74L99.90 149.80L100.20 150.80L100.50 149.75L100.80 150.02L101.10 149.61L101.40 149.43L101.70 148.76L102.00 149.15L102.30 147.83L102.60 149.28L102.90 149.91L103.20 149.24L103.50 147.58L103.80 148.36L104.00 148.30L104.10 147.81L104.40 148.57L104.70 148.80L105.00 148.15L105.30 148.91L105.60 148.70L105.90 147.64L106.20 148.54L106.20 148.85L106.50 147.73L106.80 148.17L107.10 148.20L107.40 148.11L107.70 147.20L108.00 148.05L108.30 147.93L108.60 148.17L108.90 148.00L109.20 147.25L109.50 147.54L109.80 147.67L109.90 147.69L110.10 145.43L110.40 140.82L110.70 138.12L111.00 135.62L111.00 136.06L111.30 137.94L111.60 139.08L111.90 141.56L112.20 144.00L112.30 144.67L112.50 144.52L112.80 146.21L113.10 146.76L113.40 148.47L113.70 149.60L114.00 149.65L114.30 150.13L114.60 150.58L114.80 150.22L114.90 150.28L115.20 150.29L115.50 150.20L115.80 149.10L116.10 149.85L116.40 149.18L116.70 148.42L117.00 147.37L117.30 148.14L117.60 146.85L117.90 146.59L118.20 146.43L118.40 146.18L118.50 147.76L118.80 146.74L119.10 146.83L119.40 147.58L119.70 147.27L120.00 146.76L120.30 147.20L120.60 147.98L120.90 147.25L121.20 147.67L121.50 146.73L121.80 147.76L122.10 147.86L122.10 147.97L122.40 147.47L122.70 146.51L123.00 144.77L123.30 144.52L123.30 144.83L123.60 140.33L123.90 133.73L124.20 127.13L124.50 123.15L124.60 123.21L124.80 125.47L125.10 138.84L125.40 150.24L125.40 150.09L125.70 155.11L125.80 156.82L126.00 156.18L126.30 156.10L126.60 156.17L126.90 156.02L127.20 156.29L127.50 156.04L127.80 156.58L128.10 156.65L128.40 156.68L128.70 156.55L129.00 156.55L129.30 156.62L129.60 155.99L129.90 157.04L130.20 156.78L130.50 156.72L130.80 156.85L131.10 157.01L131.40 156.83L131.70 157.23L132.00 157.48L132.00 156.93L132.30 156.72L132.60 157.31L132.90 158.28L133.20 156.89L133.50 157.41L133.80 157.58L134.10 157.84L134.40 157.03L134.70 157.00L135.00 158.46L135.30 157.15L135.60 157.30L135.90 157.66L136.20 157.64L136.50 157.90L136.80 157.51L137.10 158.28L137.40 157.66L137.70 158.14L138.00 157.47L138.00 157.99L138.30 157.35L138.60 158.03L138.90 158.13L139.20 158.50L139.50 158.44L139.80 158.01L140.10 159.93L140.40 159.23L140.70 159.43L141.00 158.91L141.30 159.16L141.60 159.15L141.90 159.12L142.20 158.90L142.50 159.74L142.80 159.48L143.10 159.68L143.40 160.39L143.70 160.14L144.00 159.96L144.30 160.40L144.60 160.17L144.90 160.39L145.20 160.25L145.40 160.41L145.50 160.41L145.80 159.54L146.10 158.22L146.40 157.48L146.60 157.36L146.70 156.87L147.00 158.55L147.30 161.18L147.60 164.69L147.80 165.06L147.90 164.36L148.20 165.49L148.50 164.69L148.80 165.09L149.10 165.23L149.40 165.84L149.70 164.85L150.00 165.51L150.30 165.80L150.60 165.32L150.90 165.75L151.20 166.02L151.50 166.49L151.80 166.39L152.10 166.55L152.40 166.52L152.70 166.53L153.00 166.76L153.30 166.61L153.60 166.71L153.90 166.45L154.20 166.34L154.50 166.85L154.80 166.41L155.10 167.21L155.40 166.82L155.70 166.68L156.00 167.37L156.30 166.55L156.60 166.89L156.90 166.47L157.20 167.65L157.50 167.03L157.60 167.25L157.80 166.87L158.10 167.30L158.40 167.23L158.70 167.22L159.00 167.78L159.30 167.17L159.60 167.19L159.90 167.40L160.20 167.60L160.50 167.24L160.80 167.49L161.10 167.18L161.40 167.47L161.70 167.67L162.00 166.97L162.30 167.69L162.60 166.64L162.90 168.24L163.20 167.59L163.50 167.58L163.80 167.81L164.10 167.69L164.40 167.86L164.70 167.25L165.00 167.77L165.30 167.78L165.60 168.28L165.90 167.11L166.20 167.75L166.50 167.87L166.80 167.82L167.10 167.30L167.40 167.85L167.50 167.59L167.70 167.55L168.00 168.16L168.30 167.54L168.60 167.73L168.90 167.92L169.20 167.85L169.50 167.70L169.80 167.88L170.10 167.57L170.40 167.61L170.70 167.75L171.00 167.53L171.30 167.44L171.60 167.23L171.90 167.24L172.20 167.07L172.50 167.23L172.80 166.89L173.10 166.86L173.40 166.97L173.70 166.69L174.00 166.48L174.30 166.76L174.60 166.31L174.90 166.57L175.20 166.38L175.50 166.01L175.80 166.07L176.10 165.10L176.40 165.61L176.70 165.89L177.00 165.47L177.30 165.33L177.30 165.40L177.60 165.27L177.90 165.02L178.20 164.71L178.50 164.25L178.80 164.10L179.10 163.81L179.40 163.59L179.70 164.94L180.00 162.84L180.30 162.53L180.60 162.10L180.90 161.82L181.20 161.96L181.50 161.35L181.80 160.46L182.10 159.95L182.40 160.08L182.70 159.27L183.00 158.98L183.30 157.94L183.60 158.39L183.90 157.53L184.20 157.27L184.50 156.67L184.60 156.75L184.80 156.85L185.10 156.52L185.40 155.90L185.70 155.80L186.00 155.27L186.30 154.91L186.60 154.71L186.90 154.14L187.20 153.95L187.50 153.89L187.80 153.63L188.10 152.52L188.40 152.91L188.70 152.65L189.00 151.98L189.30 151.07L189.60 151.31L189.90 150.57L190.00 150.69L190.20 150.20L190.50 149.82L190.80 148.97L191.10 148.48L191.40 147.82L191.70 147.17L192.00 146.10L192.30 146.25L192.60 144.64L192.90 143.87L193.20 143.04L193.50 141.92L193.80 141.65L194.10 141.17L194.40 140.41L194.70 139.36L195.00 138.66L195.00 138.88L195.30 138.64L195.60 137.91L195.90 137.92L196.20 137.06L196.50 136.58L196.80 136.27L197.10 135.82L197.40 135.10L197.70 134.58L198.00 134.26L198.30 133.81L198.60 132.97L198.90 132.72L199.20 132.25L199.50 131.18L199.60 130.96L199.80 130.53L200.10 129.96L200.40 128.99L200.70 127.93L201.00 126.82L201.30 125.67L201.60 124.51L201.90 123.38L202.20 122.29L202.50 121.28L202.80 120.37L202.90 120.10L203.10 119.57L203.40 118.82L203.70 118.09L204.00 117.40L204.30 116.73L204.60 116.10L204.90 115.48L205.20 114.88L205.50 114.30L205.50 114.30L205.80 113.70L206.10 113.05L206.40 112.39L206.70 111.73L207.00 111.09L207.30 110.50L207.60 109.97L207.90 109.54L208.20 109.22L208.50 109.04L208.70 109.00L208.80 109.00L209.10 109.02L209.40 109.07L209.70 109.14L210.00 109.22L210.30 109.31L210.60 109.42L210.90 109.52L211.20 109.63L211.40 109.70L211.50 109.74L211.80 109.88L212.10 110.06L212.40 110.26L212.70 110.47L213.00 110.69L213.30 110.89L213.60 111.08L213.90 111.23L214.20 111.34L214.50 111.40L214.60 111.40L214.80 111.30L215.10 110.83L215.40 110.07L215.70 109.13L216.00 108.14L216.30 107.19L216.60 106.40L216.60 106.40L216.90 105.68L217.20 104.90L217.50 104.10L217.80 103.32L218.10 102.61L218.40 101.99L218.70 101.53L219.00 101.26L219.20 101.20L219.30 101.23L219.60 101.58L219.90 102.27L220.20 103.17L220.50 104.19L220.80 105.22L221.10 106.14L221.20 106.40L221.40 106.94L221.70 107.83L222.00 108.75L222.30 109.61L222.60 110.34L222.90 110.84L223.10 111.00L223.20 111.04L223.50 111.14L223.80 111.21L224.10 111.27L224.40 111.31L224.70 111.35L225.00 111.39L225.30 111.45L225.60 111.53L225.80 111.60L225.90 111.65L226.20 111.89L226.50 112.24L226.80 112.68L227.10 113.17L227.40 113.66L227.70 114.13L228.00 114.53L228.30 114.83L228.40 114.90L228.60 115.03L228.90 115.21L229.20 115.39L229.50 115.56L229.80 115.70L230.10 115.83L230.40 115.92L230.70 115.98L231.00 116.00L231.00 116.00L231.30 115.98L231.60 115.91L231.90 115.79L232.20 115.63L232.50 115.42L232.80 115.17L233.10 114.88L233.40 114.54L233.60 114.30L233.70 114.12L234.00 113.06L234.30 111.43L234.60 109.55L234.90 107.70L234.90 107.70L235.20 105.57L235.50 103.29L235.80 101.80L235.80 101.80L236.10 101.26L236.40 100.88L236.60 100.50L236.70 100.14L237.00 98.32L237.30 97.20L237.30 97.20L237.60 98.32L237.90 100.90L238.20 103.80L238.20 103.80L238.50 107.43L238.80 112.12L239.10 116.66L239.40 119.79L239.60 120.50L239.70 120.48L240.00 120.29L240.20 120.10L240.30 119.95L240.60 119.07L240.90 117.75L241.20 116.33L241.50 115.13L241.80 114.45L241.90 114.40L242.10 114.56L242.40 115.28L242.70 116.41L243.00 117.75L243.30 119.09L243.40 119.50L243.60 120.29L243.90 121.48L244.20 122.78L244.50 124.32L244.80 126.20L244.80 126.20L245.10 129.86L245.40 134.06L245.60 135.20L245.70 135.13L246.00 134.29L246.30 132.90L246.60 131.51L246.90 130.67L247.00 130.60L247.20 131.05L247.50 133.12L247.80 136.25L248.10 139.75L248.40 142.93L248.50 143.80L248.70 145.43L249.00 147.90L249.30 150.29L249.60 152.50L249.90 154.43L250.00 155.00L250.20 156.13L250.50 157.87L250.80 159.44L251.10 160.57L251.40 161.00L251.40 161.00L251.70 160.00L252.00 157.41L252.30 153.86L252.60 150.00L252.60 150.00L252.90 144.43L253.20 137.23L253.50 131.24L253.60 130.00L253.80 128.07L254.10 125.69L254.40 124.70L254.40 124.70L254.70 132.54L255.00 146.48L255.10 150.00L255.30 155.81L255.60 164.38L255.90 172.24L256.20 178.38L256.50 182.63L256.60 184.32L256.80 186.12L257.10 189.18L257.40 188.78L257.70 191.10L258.00 191.77L258.00 190.10L258.30 196.44L258.60 194.25L258.90 192.71L259.20 197.29L259.50 193.77L259.80 194.14L260.10 196.12L260.30 199.46L260.40 193.39L260.70 199.33L261.00 197.48L261.30 194.72L261.60 197.59L261.90 197.39L262.20 197.76L262.50 198.48L262.80 198.30L263.10 204.42L263.40 196.38L263.70 199.17L264.00 197.73L264.30 199.11L264.60 200.06L264.90 203.45L265.20 197.45L265.50 198.21L265.80 201.19L266.00 201.33L266.10 198.16L266.40 201.36L266.70 198.51L267.00 198.54L267.30 199.96L267.60 199.11L267.90 199.19L268.20 199.15L268.50 199.44L268.80 198.16L269.10 197.25L269.40 200.99L269.70 200.42L270.00 200.94L270.30 201.73L270.60 199.71L270.90 199.88L271.20 200.24L271.50 200.49L271.80 202.20L272.10 201.01L272.40 200.94L272.40 201.91L272.70 200.36L273.00 199.75L273.30 202.47L273.60 202.85L273.90 201.37L274.20 202.54L274.50 198.81L274.80 202.06L275.10 202.64L275.40 201.65L275.70 202.14L276.00 203.01L276.30 203.03L276.60 201.37L276.90 203.63L277.20 200.71L277.50 206.70L277.80 202.06L278.10 202.43L278.40 202.22L278.70 208.67L279.00 202.85L279.30 203.95L279.60 208.81L279.90 206.76L280.20 200.77L280.50 204.06L280.80 204.39L281.10 204.86L281.40 203.79L281.70 203.86L282.00 198.43L282.00 201.12L282.30 204.74L282.60 202.31L282.90 203.67L283.20 204.41L283.50 202.54L283.80 201.60L284.10 207.72L284.40 205.20L284.70 204.36L285.00 206.30L285.30 200.67L285.60 204.93L285.90 209.21L286.00 208.02" stroke="#1f8c1f" stroke-width="1.1" fill="none" stroke-linejoin="round" />
</g></svg>
<path d="M487.88 36.60L487.88 41.60M483.24 36.60L483.24 39.10M478.65 36.60L478.65 39.10M474.10 36.60L474.10 39.10M469.60 36.60L469.60 39.10M465.14 36.60L465.14 39.10M460.72 36.60L460.72 39.10M456.35 36.60L456.35 39.10M452.02 36.60L452.02 39.10M447.73 36.60L447.73 39.10M443.48 36.60L443.48 41.60M439.27 36.60L439.27 39.10M435.10 36.60L435.10 39.10M430.98 36.60L430.98 39.10M426.88 36.60L426.88 39.10M422.83 36.60L422.83 39.10M418.82 36.60L418.82 39.10M414.84 36.60L414.84 39.10M410.90 36.60L410.90 39.10M406.99 36.60L406.99 39.10M403.12 36.60L403.12 41.60M399.28 36.60L399.28 39.10M395.48 36.60L395.48 39.10M391.72 36.60L391.72 39.10M387.98 36.60L387.98 39.10M384.28 36.60L384.28 39.10M380.62 36.60L380.62 39.10M376.98 36.60L376.98 39.10M373.38 36.60L373.38 39.10M369.81 36.60L369.81 39.10M366.27 36.60L366.27 41.60M362.76 36.60L362.76 39.10M359.28 36.60L359.28 39.10M355.83 36.60L355.83 39.10M352.41 36.60L352.41 39.10M349.02 36.60L349.02 39.10M345.66 36.60L345.66 39.10M342.32 36.60L342.32 39.10M339.02 36.60L339.02 39.10M337.60 139.10L337.60 134.10M337.60 147.40L337.60 152.40M337.60 265.20L337.60 260.20M345.12 139.10L345.12 136.10M345.12 147.40L345.12 150.40M345.12 265.20L345.12 262.20M352.64 139.10L352.64 136.10M352.64 147.40L352.64 150.40M352.64 265.20L352.64 262.20M360.16 139.10L360.16 136.10M360.16 147.40L360.16 150.40M360.16 265.20L360.16 262.20M367.68 139.10L367.68 134.10M367.68 147.40L367.68 152.40M367.68 265.20L367.68 260.20M375.20 139.10L375.20 136.10M375.20 147.40L375.20 150.40M375.20 265.20L375.20 262.20M382.72 139.10L382.72 136.10M382.72 147.40L382.72 150.40M382.72 265.20L382.72 262.20M390.24 139.10L390.24 136.10M390.24 147.40L390.24 150.40M390.24 265.20L390.24 262.20M397.76 139.10L397.76 134.10M397.76 147.40L397.76 152.40M397.76 265.20L397.76 260.20M405.28 139.10L405.28 136.10M405.28 147.40L405.28 150.40M405.28 265.20L405.28 262.20M412.80 139.10L412.80 136.10M412.80 147.40L412.80 150.40M412.80 265.20L412.80 262.20M420.32 139.10L420.32 136.10M420.32 147.40L420.32 150.40M420.32 265.20L420.32 262.20M427.84 139.10L427.84 134.10M427.84 147.40L427.84 152.40M427.84 265.20L427.84 260.20M435.36 139.10L435.36 136.10M435.36 147.40L435.36 150.40M435.36 265.20L435.36 262.20M442.88 139.10L442.88 136.10M442.88 147.40L442.88 150.40M442.88 265.20L442.88 262.20M450.40 139.10L450.40 136.10M450.40 147.40L450.40 150.40M450.40 265.20L450.40 262.20M457.92 139.10L457.92 134.10M457.92 147.40L457.92 152.40M457.92 265.20L457.92 260.20M465.44 139.10L465.44 136.10M465.44 147.40L465.44 150.40M465.44 265.20L465.44 262.20M472.96 139.10L472.96 136.10M472.96 147.40L472.96 150.40M472.96 265.20L472.96 262.20M480.48 139.10L480.48 136.10M480.48 147.40L480.48 150.40M480.48 265.20L480.48 262.20M488.00 139.10L488.00 134.10M488.00 147.40L488.00 152.40M488.00 265.20L488.00 260.20" stroke="#000" stroke-width="1" fill="none"/>
<path d="M337.60 139.10L342.60 139.10M337.60 123.69L340.60 123.69M337.60 114.67L340.60 114.67M337.60 108.27L340.60 108.27M337.60 103.31L340.60 103.31M337.60 99.26L340.60 99.26M337.60 95.83L340.60 95.83M337.60 92.86L340.60 92.86M337.60 90.24L340.60 90.24M337.60 87.90L342.60 87.90M337.60 72.49L340.60 72.49M337.60 63.47L340.60 63.47M337.60 57.07L340.60 57.07M337.60 52.11L340.60 52.11M337.60 48.06L340.60 48.06M337.60 44.63L340.60 44.63M337.60 41.66L340.60 41.66M337.60 39.04L340.60 39.04M337.60 36.70L342.60 36.70" stroke="#000" stroke-width="1" fill="none"/>
<path d="M488.00 138.54L485.00 138.54M488.00 133.73L485.00 133.73M488.00 129.80L485.00 129.80M488.00 126.48L485.00 126.48M488.00 123.61L485.00 123.61M488.00 121.07L485.00 121.07M488.00 118.80L483.00 118.80M488.00 103.87L485.00 103.87M488.00 95.13L485.00 95.13M488.00 88.94L485.00 88.94M488.00 84.13L485.00 84.13M488.00 80.20L485.00 80.20M488.00 76.88L485.00 76.88M488.00 74.01L485.00 74.01M488.00 71.47L485.00 71.47M488.00 69.20L483.00 69.20M488.00 54.27L485.00 54.27M488.00 45.53L485.00 45.53M488.00 39.34L485.00 39.34" stroke="#666" stroke-width="1" fill="none"/>
<path d="M337.60 265.20L342.60 265.20M337.60 250.84L340.60 250.84M337.60 242.44L340.60 242.44M337.60 236.48L340.60 236.48M337.60 231.86L340.60 231.86M337.60 228.08L340.60 228.08M337.60 224.89L340.60 224.89M337.60 222.12L340.60 222.12M337.60 219.68L340.60 219.68M337.60 217.50L342.60 217.50M337.60 203.14L340.60 203.14M337.60 194.74L340.60 194.74M337.60 188.78L340.60 188.78M337.60 184.16L340.60 184.16M337.60 180.38L340.60 180.38M337.60 177.19L340.60 177.19M337.60 174.42L340.60 174.42M337.60 171.98L340.60 171.98M337.60 169.80L342.60 169.80M337.60 155.44L340.60 155.44" stroke="#000" stroke-width="1" fill="none"/>
<path d="M488.00 265.20L483.00 265.20M488.00 250.84L485.00 250.84M488.00 242.44L485.00 242.44M488.00 236.48L485.00 236.48M488.00 231.86L485.00 231.86M488.00 228.08L485.00 228.08M488.00 224.89L485.00 224.89M488.00 222.12L485.00 222.12M488.00 219.68L485.00 219.68M488.00 217.50L483.00 217.50M488.00 203.14L485.00 203.14M488.00 194.74L485.00 194.74M488.00 188.78L485.00 188.78M488.00 184.16L485.00 184.16M488.00 180.38L485.00 180.38M488.00 177.19L485.00 177.19M488.00 174.42L485.00 174.42M488.00 171.98L485.00 171.98M488.00 169.80L483.00 169.80M488.00 155.44L485.00 155.44" stroke="#000" stroke-width="1" fill="none"/>
<path d="M488.0 36.6L337.6 36.6L337.6 139.1L488.0 139.1" fill="none" stroke="#000" stroke-width="1.3"/>
<line x1="488.0" y1="36.0" x2="488.0" y2="139.7" stroke="#6e6e6e" stroke-width="1.5"/>
<rect x="337.6" y="147.4" width="150.39999999999998" height="117.79999999999998" fill="none" stroke="#000" stroke-width="1.3"/>
<text x="295.20" y="14.00" font-size="17.5" fill="#000" text-anchor="start" textLength="20.5" lengthAdjust="spacingAndGlyphs" >(b)</text>
<text x="364.00" y="13.90" font-size="14.5" fill="#000" text-anchor="start" textLength="103" lengthAdjust="spacingAndGlyphs" >Wavelength (nm)</text>
<text x="365.87" y="32.80" font-size="13" fill="#000" text-anchor="middle" >230</text>
<text x="402.72" y="32.80" font-size="13" fill="#000" text-anchor="middle" >220</text>
<text x="443.08" y="32.80" font-size="13" fill="#000" text-anchor="middle" >210</text>
<text x="487.48" y="32.80" font-size="13" fill="#000" text-anchor="middle" >200</text>
<text x="336.80" y="281.00" font-size="12.5" fill="#000" text-anchor="middle" >5.2</text>
<text x="366.88" y="281.00" font-size="12.5" fill="#000" text-anchor="middle" >5.4</text>
<text x="396.96" y="281.00" font-size="12.5" fill="#000" text-anchor="middle" >5.6</text>
<text x="427.04" y="281.00" font-size="12.5" fill="#000" text-anchor="middle" >5.8</text>
<text x="457.12" y="281.00" font-size="12.5" fill="#000" text-anchor="middle" >6.0</text>
<text x="487.20" y="281.00" font-size="12.5" fill="#000" text-anchor="middle" >6.2</text>
<text x="355.30" y="298.00" font-size="14.5" fill="#000" text-anchor="start" textLength="117.7" lengthAdjust="spacingAndGlyphs" >Photon energy (eV)</text>
<text x="326.60" y="175.00" font-size="13" fill="#000" text-anchor="end">10</text>
<text x="326.90" y="170.00" font-size="9" fill="#000">1</text>
<text x="326.60" y="222.70" font-size="13" fill="#000" text-anchor="end">10</text>
<text x="326.90" y="217.70" font-size="9" fill="#000">0</text>
<text x="326.60" y="270.40" font-size="13" fill="#000" text-anchor="end">10</text>
<text x="326.90" y="265.40" font-size="9" fill="#000">-1</text>
<text x="325.30" y="131.80" font-size="13.3" fill="#1f7fd0" text-anchor="start" textLength="102" lengthAdjust="spacingAndGlyphs" transform="rotate(-90 325.30 131.80)" >PL intensity (a. u.)</text>
<text x="501.00" y="139.00" font-size="13.3" fill="#2aaa2a" text-anchor="start" textLength="104.3" lengthAdjust="spacingAndGlyphs" transform="rotate(-90 501.00 139.00)" >Reflectance (a. u.)</text>
<text x="307.60" y="256.60" font-size="13.6" fill="#000" text-anchor="start" textLength="103.5" lengthAdjust="spacingAndGlyphs" transform="rotate(-90 307.60 256.60)" >CL intensity (cps)</text>
<text x="342.30" y="52.00" font-size="12.3" fill="#000" text-anchor="start" textLength="68.3" lengthAdjust="spacingAndGlyphs" >10 K, Ref. 20</text>
<text x="343.00" y="163.70" font-size="12.3" fill="#000" text-anchor="start" textLength="23.0" lengthAdjust="spacingAndGlyphs" >13 K</text>
<text x="356.20" y="249.00" font-size="12.3" fill="#000" text-anchor="start" textLength="63.2" lengthAdjust="spacingAndGlyphs" >mBN/HOPG</text>
<text x="459.6" y="195.2" font-size="12.3" fill="#333" transform="rotate(-90 459.6 195.2)">dX<tspan font-size="8" dy="2.2">ZA(K)</tspan></text>
<text x="480.2" y="195.2" font-size="12.3" fill="#333" transform="rotate(-90 480.2 195.2)">dX<tspan font-size="8" dy="2.2">NP</tspan></text>
<line x1="465.4" y1="67" x2="465.4" y2="210.5" stroke="#555" stroke-width="1" stroke-dasharray="3 2"/>
<line x1="470.8" y1="70.3" x2="470.8" y2="212" stroke="#9a9a9a" stroke-width="1.3" stroke-dasharray="3 2"/>
<path d="M337.60 123.30L338.10 121.52L338.60 119.78L339.10 118.07L339.60 116.41L340.10 114.79L340.60 113.22L341.00 112.00L341.10 111.70L341.60 110.19L342.10 108.68L342.60 107.21L343.10 105.79L343.60 104.44L344.10 103.17L344.60 102.02L344.70 101.80L345.10 100.97L345.60 100.00L346.10 99.10L346.60 98.24L347.10 97.41L347.60 96.61L348.10 95.81L348.60 95.00L349.10 94.21L349.60 93.45L350.10 92.71L350.60 91.98L351.10 91.24L351.60 90.48L352.10 89.68L352.50 89.00L352.60 88.82L353.10 87.89L353.60 86.89L354.10 85.86L354.60 84.82L355.10 83.79L355.50 83.00L355.60 82.81L356.10 81.81L356.60 80.79L357.10 79.77L357.60 78.79L358.10 77.88L358.60 77.06L359.00 76.50L359.10 76.37L359.60 75.76L360.10 75.19L360.60 74.66L361.10 74.16L361.60 73.70L362.10 73.26L362.60 72.85L363.10 72.45L363.30 72.30L363.60 72.07L364.10 71.70L364.60 71.33L365.10 70.97L365.60 70.62L366.10 70.28L366.60 69.95L367.10 69.63L367.60 69.32L368.10 69.03L368.60 68.75L369.10 68.49L369.60 68.25L370.10 68.02L370.60 67.82L371.10 67.63L371.20 67.60L371.60 67.47L372.10 67.31L372.60 67.16L373.10 67.02L373.60 66.89L374.10 66.77L374.60 66.66L375.10 66.55L375.60 66.45L376.10 66.35L376.60 66.27L377.00 66.20L377.10 66.18L377.60 66.11L378.10 66.05L378.60 66.00L379.10 65.95L379.60 65.90L380.10 65.86L380.60 65.81L381.10 65.76L381.60 65.70L382.10 65.64L382.60 65.57L383.00 65.50L383.10 65.48L383.60 65.37L384.10 65.23L384.60 65.06L385.10 64.87L385.60 64.66L386.10 64.45L386.60 64.22L387.10 64.00L387.60 63.77L388.10 63.56L388.60 63.35L389.00 63.20L389.10 63.16L389.60 62.96L390.10 62.74L390.60 62.51L391.10 62.28L391.60 62.05L392.10 61.83L392.60 61.64L393.10 61.47L393.60 61.33L394.10 61.24L394.60 61.20L394.70 61.20L395.10 61.20L395.60 61.21L396.10 61.24L396.60 61.26L397.10 61.30L397.60 61.34L398.10 61.39L398.60 61.44L399.10 61.49L399.60 61.55L400.00 61.60L400.10 61.61L400.60 61.70L401.10 61.82L401.60 61.97L402.10 62.14L402.60 62.33L403.10 62.55L403.60 62.78L404.10 63.02L404.60 63.27L405.10 63.53L405.60 63.79L406.10 64.05L406.40 64.20L406.60 64.30L407.10 64.58L407.60 64.87L408.10 65.18L408.60 65.51L409.10 65.85L409.60 66.20L410.10 66.56L410.60 66.93L411.10 67.31L411.60 67.69L412.00 68.00L412.10 68.08L412.60 68.48L413.10 68.92L413.60 69.37L414.10 69.84L414.60 70.31L415.10 70.79L415.60 71.27L416.10 71.74L416.60 72.20L417.10 72.64L417.60 73.06L417.90 73.30L418.10 73.45L418.60 73.83L419.10 74.19L419.60 74.55L420.10 74.89L420.60 75.23L421.10 75.56L421.60 75.88L422.10 76.21L422.60 76.53L423.10 76.85L423.60 77.17L424.10 77.50L424.60 77.83L424.70 77.90L425.10 78.18L425.60 78.54L426.10 78.91L426.60 79.29L427.10 79.68L427.60 80.07L428.10 80.45L428.60 80.82L429.10 81.17L429.60 81.50L430.10 81.80L430.60 82.07L431.10 82.31L431.60 82.50L432.10 82.67L432.60 82.84L433.10 83.01L433.60 83.16L434.10 83.30L434.60 83.42L435.10 83.51L435.60 83.57L436.10 83.60L436.20 83.60L436.60 83.59L437.10 83.55L437.60 83.49L438.10 83.42L438.60 83.33L439.10 83.24L439.60 83.15L440.10 83.07L440.60 82.99L441.10 82.94L441.60 82.91L441.90 82.90L442.10 82.91L442.60 83.02L443.10 83.24L443.60 83.54L444.10 83.90L444.60 84.28L445.10 84.67L445.60 85.05L446.10 85.39L446.60 85.66L447.10 85.83L447.60 85.90L448.10 85.87L448.60 85.78L449.10 85.63L449.60 85.45L450.10 85.22L450.60 84.97L451.10 84.70L451.60 84.31L452.10 83.73L452.60 83.02L453.10 82.24L453.50 81.60L453.60 81.43L454.10 80.32L454.60 79.15L455.10 78.40L455.60 78.08L456.10 77.85L456.60 77.68L457.10 77.55L457.60 77.42L458.10 77.27L458.60 77.06L459.10 76.77L459.20 76.70L459.60 76.27L460.10 75.41L460.60 74.29L461.10 73.03L461.50 72.00L461.60 71.74L462.10 70.39L462.60 68.67L462.80 67.80L463.10 65.92L463.60 61.50L464.00 58.00L464.10 57.19L464.60 52.89L464.90 51.40L465.10 50.98L465.60 50.14L466.10 49.63L466.50 49.50L466.60 49.56L467.10 51.21L467.60 53.79L468.10 55.44L468.20 55.50L468.60 55.24L469.10 54.51L469.50 54.00L469.60 53.91L470.10 53.45L470.60 53.03L471.10 52.75L471.40 52.70L471.60 52.82L472.10 53.96L472.60 55.87L473.10 57.99L473.60 59.75L473.90 60.40L474.10 60.68L474.60 61.28L475.10 61.77L475.60 62.18L476.00 62.50L476.10 62.58L476.60 63.00L477.10 63.43L477.60 63.86L478.10 64.26L478.60 64.63L479.10 64.93L479.60 65.15L480.10 65.28L480.40 65.30L480.60 65.26L481.10 64.80L481.60 63.97L482.10 62.93L482.60 61.83L483.00 61.00L483.10 60.80L483.60 59.71L484.10 58.47L484.60 57.15L485.10 55.80L485.60 54.48L486.10 53.24L486.60 52.14L487.00 51.40L487.10 51.24L487.60 50.50L488.00 50.00" stroke="#1a76c8" stroke-width="1.7" fill="none" stroke-linejoin="round" />
<path d="M337.60 86.40L338.10 86.32L338.60 86.25L339.10 86.17L339.60 86.10L340.10 86.03L340.60 85.96L341.10 85.90L341.60 85.83L342.10 85.77L342.60 85.71L343.10 85.65L343.60 85.59L344.10 85.54L344.60 85.48L345.10 85.43L345.60 85.39L346.10 85.34L346.60 85.30L347.10 85.26L347.60 85.22L348.10 85.19L348.60 85.15L349.10 85.13L349.60 85.10L350.10 85.08L350.60 85.06L351.10 85.04L351.60 85.02L352.10 85.01L352.60 85.01L353.10 85.00L353.50 85.00L353.60 85.00L354.10 85.00L354.60 85.01L355.10 85.01L355.60 85.02L356.10 85.03L356.60 85.05L357.10 85.06L357.60 85.08L358.10 85.10L358.60 85.12L359.10 85.14L359.60 85.17L360.10 85.19L360.60 85.22L361.10 85.25L361.60 85.28L362.10 85.31L362.60 85.34L363.10 85.37L363.60 85.40L364.10 85.43L364.60 85.46L365.10 85.50L365.60 85.53L366.10 85.56L366.60 85.59L367.10 85.63L367.60 85.66L368.10 85.69L368.60 85.72L369.10 85.75L369.60 85.78L370.00 85.80L370.10 85.81L370.60 85.83L371.10 85.86L371.60 85.89L372.10 85.91L372.60 85.94L373.10 85.96L373.60 85.99L374.10 86.02L374.60 86.04L375.10 86.07L375.60 86.09L376.10 86.12L376.60 86.15L377.10 86.17L377.60 86.20L378.10 86.23L378.60 86.26L379.10 86.28L379.60 86.31L380.10 86.34L380.60 86.37L381.10 86.40L381.60 86.43L382.10 86.47L382.60 86.50L383.10 86.53L383.60 86.57L384.10 86.60L384.60 86.64L385.10 86.68L385.60 86.72L386.10 86.76L386.60 86.80L387.10 86.84L387.60 86.89L388.10 86.93L388.60 86.98L388.80 87.00L389.10 87.03L389.60 87.08L390.10 87.14L390.60 87.20L391.10 87.27L391.60 87.34L392.10 87.41L392.60 87.49L393.10 87.57L393.60 87.66L394.10 87.74L394.60 87.83L395.10 87.93L395.60 88.02L396.10 88.12L396.60 88.22L397.10 88.33L397.60 88.43L398.10 88.54L398.60 88.65L399.10 88.76L399.60 88.88L400.10 88.99L400.60 89.11L401.10 89.22L401.60 89.34L402.10 89.46L402.60 89.58L403.10 89.70L403.60 89.82L404.10 89.94L404.60 90.06L405.10 90.19L405.60 90.31L406.10 90.43L406.40 90.50L406.60 90.55L407.10 90.67L407.60 90.80L408.10 90.93L408.60 91.06L409.10 91.19L409.60 91.33L410.10 91.46L410.60 91.60L411.10 91.75L411.60 91.89L412.10 92.04L412.60 92.19L413.10 92.34L413.60 92.50L414.10 92.65L414.60 92.81L415.10 92.97L415.60 93.13L416.10 93.30L416.60 93.46L417.10 93.63L417.60 93.80L417.90 93.90L418.10 93.97L418.60 94.14L419.10 94.32L419.60 94.50L420.10 94.68L420.60 94.87L421.10 95.06L421.60 95.25L422.10 95.45L422.60 95.64L423.10 95.84L423.60 96.05L424.10 96.25L424.60 96.46L425.10 96.67L425.60 96.88L426.10 97.09L426.60 97.31L427.10 97.53L427.60 97.75L428.10 97.97L428.60 98.19L429.10 98.41L429.30 98.50L429.60 98.63L430.10 98.85L430.60 99.06L431.10 99.28L431.60 99.48L432.10 99.69L432.60 99.91L433.10 100.12L433.60 100.34L434.10 100.57L434.60 100.81L435.10 101.05L435.60 101.31L436.10 101.58L436.60 101.86L437.10 102.16L437.60 102.48L438.10 102.82L438.50 103.10L438.60 103.17L439.10 103.58L439.60 104.04L440.10 104.55L440.60 105.10L441.10 105.69L441.60 106.32L442.10 106.97L442.60 107.65L443.10 108.34L443.60 109.05L444.10 109.76L444.20 109.90L444.60 110.51L445.10 111.35L445.60 112.26L446.10 113.21L446.60 114.18L447.10 115.13L447.60 116.04L448.10 116.89L448.60 117.63L448.80 117.90L449.10 118.29L449.60 118.97L450.10 119.64L450.60 120.25L451.10 120.78L451.60 121.17L452.10 121.38L452.20 121.40L452.60 121.45L453.10 121.50L453.60 121.55L454.10 121.58L454.60 121.60L455.00 121.60L455.10 121.60L455.60 121.53L456.10 121.38L456.60 121.18L457.10 120.95L457.60 120.72L458.10 120.52L458.60 120.37L459.10 120.30L459.20 120.30L459.60 120.30L460.10 120.32L460.60 120.35L461.10 120.38L461.60 120.43L462.10 120.48L462.60 120.54L463.00 120.60L463.10 120.62L463.60 120.76L464.10 120.99L464.60 121.28L465.10 121.62L465.60 122.00L466.00 122.30L466.10 122.38L466.60 122.85L467.10 123.43L467.60 124.08L468.10 124.77L468.60 125.47L469.10 126.15L469.60 126.77L470.00 127.20L470.10 127.30L470.60 127.84L471.10 128.41L471.60 128.97L472.10 129.49L472.60 129.93L473.10 130.27L473.60 130.47L473.90 130.50L474.10 130.48L474.60 130.25L475.10 129.82L475.60 129.22L476.10 128.49L476.60 127.70L476.90 127.20L477.10 126.81L477.60 125.42L478.10 123.61L478.60 121.61L479.10 119.65L479.60 117.95L479.80 117.40L480.10 116.64L480.60 115.39L481.10 114.21L481.60 113.16L482.10 112.27L482.60 111.60L482.70 111.50L483.10 111.13L483.60 110.73L484.10 110.39L484.60 110.14L485.00 110.00L485.10 109.97L485.60 109.84L486.10 109.73L486.60 109.63L487.10 109.56L487.60 109.51L488.00 109.50" stroke="#22aa22" stroke-width="1.5" fill="none" stroke-linejoin="round" />
<ellipse cx="367.2" cy="70.5" rx="3.8" ry="7.8" fill="none" stroke="#7a7a7a" stroke-width="0.9"/>
<ellipse cx="389.3" cy="87.0" rx="3.1" ry="7.6" fill="none" stroke="#7a7a7a" stroke-width="0.9"/>
<line x1="352" y1="68.7" x2="366" y2="68.7" stroke="#000" stroke-width="1.3"/>
<path d="M347.3 68.7L354 65.8L354 71.6Z" fill="#000"/>
<line x1="388" y1="84.8" x2="405" y2="84.8" stroke="#000" stroke-width="1.3"/>
<path d="M410.2 84.8L403.5 81.9L403.5 87.7Z" fill="#000"/>
<clipPath id="cb"><rect x="337.6" y="147.4" width="150.39999999999998" height="117.79999999999998"/></clipPath><g clip-path="url(#cb)">
<path d="M337.60 236.85L337.85 236.47L338.10 236.52L338.35 236.05L338.60 236.53L338.85 235.39L339.10 235.85L339.35 235.23L339.60 235.26L339.85 235.01L340.10 234.05L340.35 234.37L340.60 234.52L340.85 233.54L341.10 233.28L341.35 232.70L341.60 232.18L341.85 232.39L342.10 232.17L342.35 231.24L342.60 230.72L342.85 230.75L343.10 230.62L343.35 230.10L343.60 230.70L343.85 229.83L344.10 229.79L344.35 228.97L344.60 228.80L344.85 228.99L345.10 227.10L345.35 227.67L345.60 226.99L345.85 227.26L346.10 226.42L346.35 226.56L346.60 225.90L346.85 225.83L347.10 225.54L347.35 225.63L347.60 225.21L347.85 224.42L348.10 224.30L348.35 223.51L348.60 223.00L348.85 223.38L349.10 223.41L349.35 222.78L349.60 222.26L349.85 222.02L350.10 221.80L350.35 221.33L350.60 220.86L350.85 221.02L351.10 220.22L351.35 220.52L351.60 219.96L351.85 219.63L352.10 219.39L352.35 219.87L352.60 219.64L352.85 218.10L353.10 217.70L353.35 217.68L353.60 218.05L353.85 216.99L354.10 215.67L354.35 215.52L354.60 216.03L354.85 216.05L355.10 216.00L355.35 215.18L355.60 215.04L355.85 214.80L356.10 214.04L356.35 212.36L356.60 214.16L356.85 213.95L357.10 214.16L357.35 213.25L357.60 213.78L357.85 213.03L358.10 213.09L358.35 213.08L358.60 212.38L358.85 213.33L359.10 213.28L359.35 213.26L359.60 210.55L359.85 212.24L360.10 212.16L360.35 212.37L360.60 211.54L360.85 211.29L361.10 211.95L361.35 211.37L361.60 210.86L361.85 210.90L362.10 211.48L362.35 211.34L362.60 211.49L362.85 211.53L363.10 209.55L363.35 211.80L363.60 211.59L363.85 211.75L364.10 211.35L364.35 211.01L364.60 210.87L364.85 211.63L365.10 211.03L365.35 211.08L365.60 211.25L365.85 211.25L366.10 211.26L366.35 211.21L366.60 211.14L366.85 211.38L367.10 211.09L367.35 210.97L367.60 211.73L367.85 211.58L368.10 211.41L368.35 210.91L368.60 210.52L368.85 211.88L369.10 212.00L369.35 211.14L369.60 211.45L369.85 210.34L370.10 211.33L370.35 211.59L370.60 211.35L370.85 211.78L371.10 212.05L371.35 211.12L371.60 211.71L371.85 211.49L372.10 211.28L372.35 211.52L372.60 211.65L372.85 212.18L373.10 211.95L373.35 210.30L373.60 211.08L373.85 213.18L374.10 211.86L374.35 211.93L374.60 211.77L374.85 212.25L375.10 211.97L375.35 212.03L375.60 211.77L375.85 212.27L376.10 211.78L376.35 211.67L376.60 212.18L376.85 212.49L377.10 212.01L377.35 212.05L377.60 211.86L377.85 212.35L378.10 212.56L378.35 211.91L378.60 212.40L378.85 212.44L379.10 211.97L379.35 212.51L379.60 212.34L379.85 212.28L380.10 213.72L380.35 212.11L380.60 212.57L380.85 212.81L381.10 212.70L381.35 211.75L381.60 213.26L381.85 212.65L382.10 212.86L382.35 213.49L382.60 213.87L382.85 213.58L383.10 213.00L383.35 213.30L383.60 213.50L383.85 212.86L384.10 214.07L384.35 212.71L384.60 213.36L384.85 213.04L385.10 213.03L385.35 212.91L385.60 214.02L385.85 212.93L386.10 213.93L386.35 213.05L386.60 213.28L386.85 213.15L387.10 214.61L387.35 212.92L387.60 213.86L387.85 213.30L388.10 214.21L388.35 213.70L388.60 213.28L388.85 213.49L389.10 213.13L389.35 213.43L389.60 212.57L389.85 213.64L390.10 213.56L390.35 213.31L390.60 212.36L390.85 214.16L391.10 213.06L391.35 213.37L391.60 212.56L391.85 213.42L392.10 213.43L392.35 213.52L392.60 213.36L392.85 213.28L393.10 213.77L393.35 213.32L393.60 213.37L393.85 213.50L394.10 213.31L394.35 213.69L394.60 212.94L394.85 213.37L395.10 213.46L395.35 213.30L395.60 213.88L395.85 213.42L396.10 213.48L396.35 213.53L396.60 213.90L396.85 213.32L397.10 213.94L397.35 214.35L397.60 213.46L397.85 213.36L398.10 214.02L398.35 213.66L398.60 213.62L398.85 213.35L399.10 214.10L399.35 214.76L399.60 214.66L399.85 214.37L400.10 214.39L400.35 215.54L400.60 214.82L400.85 215.64L401.10 215.14L401.35 215.31L401.60 215.49L401.85 215.01L402.10 215.43L402.35 215.13L402.60 216.76L402.85 217.87L403.10 216.52L403.35 216.20L403.60 216.31L403.85 216.99L404.10 217.14L404.35 217.08L404.60 216.97L404.85 217.99L405.10 218.40L405.35 217.41L405.60 218.24L405.85 218.42L406.10 218.86L406.35 219.11L406.60 219.11L406.85 219.94L407.10 219.44L407.35 219.49L407.60 220.22L407.85 220.56L408.10 220.84L408.35 219.86L408.60 220.08L408.85 220.62L409.10 222.08L409.35 221.08L409.60 221.22L409.85 221.02L410.10 223.29L410.35 221.00L410.60 221.69L410.85 221.98L411.10 222.38L411.35 222.53L411.60 222.02L411.85 221.97L412.10 224.08L412.35 222.60L412.60 222.37L412.85 222.11L413.10 223.42L413.35 223.70L413.60 223.26L413.85 223.16L414.10 223.64L414.35 225.36L414.60 223.78L414.85 224.30L415.10 224.77L415.35 224.49L415.60 224.19L415.85 223.74L416.10 224.77L416.35 225.25L416.60 226.29L416.85 224.17L417.10 224.13L417.35 225.35L417.60 225.95L417.85 224.29L418.10 225.75L418.35 225.35L418.60 229.95L418.85 225.84L419.10 225.05L419.35 226.89L419.60 226.19L419.85 226.56L420.10 225.96L420.35 226.74L420.60 226.30L420.85 226.91L421.10 227.64L421.35 227.36L421.60 228.17L421.85 229.18L422.10 228.37L422.35 226.47L422.60 230.39L422.85 228.18L423.10 228.77L423.35 229.26L423.60 229.62L423.85 229.35L424.10 229.74L424.35 230.25L424.60 230.17L424.85 230.03L425.10 230.51L425.35 230.67L425.60 230.67L425.85 231.45L426.10 231.51L426.35 231.56L426.60 232.33L426.85 232.88L427.10 232.61L427.35 232.25L427.60 234.37L427.85 231.73L428.10 233.91L428.35 233.24L428.60 233.40L428.85 234.71L429.10 234.29L429.35 236.58L429.60 235.54L429.85 233.39L430.10 234.79L430.35 235.62L430.60 233.68L430.85 235.44L431.10 239.12L431.35 235.13L431.60 234.71L431.85 235.66L432.10 236.00L432.35 236.02L432.60 236.56L432.85 237.82L433.10 237.08L433.35 237.41L433.60 236.07L433.85 235.78L434.10 239.84L434.35 237.63L434.60 240.15L434.85 237.95L435.10 238.78L435.35 239.02L435.60 237.27L435.85 237.22L436.10 239.07L436.35 238.09L436.60 239.05L436.85 238.83L437.10 239.44L437.35 239.97L437.60 239.78L437.85 240.02L438.10 240.54L438.35 241.18L438.60 238.51L438.85 246.22L439.10 241.10L439.35 243.24L439.60 237.42L439.85 239.61L440.10 240.31L440.35 243.82L440.60 242.05L440.85 243.60L441.10 243.08L441.35 240.97L441.60 242.58L441.85 242.65L442.10 243.14L442.35 244.14L442.60 241.70L442.85 245.74L443.10 243.85L443.35 243.73L443.60 244.76L443.85 243.76L444.10 245.15L444.35 244.52L444.60 244.84L444.85 243.99L445.10 244.23L445.35 246.79L445.60 245.73L445.85 245.52L446.10 246.77L446.35 247.99L446.60 244.91L446.85 252.61L447.10 242.47L447.35 246.98L447.60 246.11L447.85 246.21L448.10 247.14L448.35 247.58L448.60 247.30L448.85 248.27L449.10 250.48L449.35 246.63L449.60 247.17L449.85 248.49L450.10 248.10L450.35 247.92L450.60 248.63L450.85 249.36L451.10 250.95L451.35 251.62L451.60 250.38L451.85 248.80L452.10 251.18L452.35 250.17L452.60 248.28L452.85 252.68L453.10 248.93L453.35 250.49L453.60 250.64L453.85 252.27L454.10 250.72L454.35 254.65L454.60 247.63L454.85 247.10L455.10 249.32L455.35 250.83L455.60 250.48L455.85 248.40L456.10 249.66L456.35 251.16L456.60 250.73L456.85 252.10L457.10 251.09L457.35 253.17L457.60 252.35L457.85 251.45L458.10 251.11L458.35 250.52L458.60 251.06L458.85 251.46L459.10 251.63L459.35 250.81L459.60 252.32L459.85 250.49L460.10 254.65L460.35 253.13L460.60 250.86L460.85 252.84L461.10 252.73L461.35 252.29L461.60 254.17L461.85 253.06L462.10 253.07L462.35 255.84L462.60 255.16L462.85 256.30L463.10 255.89L463.35 256.29L463.60 255.87L463.85 256.63L464.10 257.09L464.35 256.86L464.60 259.28L464.85 256.89L465.10 256.97L465.35 257.89L465.60 259.97L465.85 260.73L466.10 259.35L466.35 258.86L466.60 260.11L466.85 261.40L467.10 258.85L467.35 260.80L467.60 261.20L467.85 260.15L468.10 258.78L468.35 261.29L468.60 259.72L468.85 260.78L469.10 261.59L469.35 265.76L469.60 259.83L469.85 258.89L470.10 262.27L470.35 265.82L470.60 258.63L470.85 263.21L471.10 258.09L471.35 263.19L471.60 260.84L471.85 264.01L472.10 263.02L472.35 264.35L472.60 262.83L472.85 260.95L473.10 262.61L473.35 263.48L473.60 262.82L473.85 263.32L474.10 265.23L474.35 265.05L474.60 267.26L474.85 265.66L475.10 266.01L475.35 267.01L475.60 268.39L475.85 266.80L476.10 262.16L476.35 266.73L476.60 262.30L476.85 267.70L477.10 263.90L477.35 267.82L477.60 265.74L477.85 270.25L478.10 265.27L478.35 269.09L478.60 269.51L478.85 267.66L479.10 269.25L479.35 268.26L479.60 267.95L479.85 268.06" stroke="#8a1fa0" stroke-width="1.25" fill="none" stroke-linejoin="round" />
<path d="M337.60 221.80L337.85 223.22L338.10 221.99L338.35 222.16L338.60 221.55L338.85 222.39L339.10 221.71L339.35 221.34L339.60 221.11L339.85 221.09L340.10 220.46L340.35 219.99L340.60 219.42L340.85 219.26L341.10 220.42L341.35 218.57L341.60 218.11L341.85 218.39L342.10 216.46L342.35 216.16L342.60 217.02L342.85 217.20L343.10 214.97L343.35 214.29L343.60 213.55L343.85 214.92L344.10 213.96L344.35 214.20L344.60 213.96L344.85 211.99L345.10 213.67L345.35 212.48L345.60 212.47L345.85 211.94L346.10 211.59L346.35 211.32L346.60 209.02L346.85 210.69L347.10 210.15L347.35 209.95L347.60 209.30L347.85 209.27L348.10 209.33L348.35 210.24L348.60 208.08L348.85 208.71L349.10 207.94L349.35 206.84L349.60 205.72L349.85 207.49L350.10 206.25L350.35 205.60L350.60 206.10L350.85 205.85L351.10 205.98L351.35 205.01L351.60 204.51L351.85 204.22L352.10 203.74L352.35 203.95L352.60 204.43L352.85 202.49L353.10 202.84L353.35 202.52L353.60 201.62L353.85 202.21L354.10 203.27L354.35 201.34L354.60 201.58L354.85 201.75L355.10 200.57L355.35 201.35L355.60 200.63L355.85 200.26L356.10 199.49L356.35 199.41L356.60 198.78L356.85 199.89L357.10 199.43L357.35 198.09L357.60 198.65L357.85 198.07L358.10 198.56L358.35 198.12L358.60 198.80L358.85 197.95L359.10 196.84L359.35 197.22L359.60 197.24L359.85 197.74L360.10 196.72L360.35 196.27L360.60 196.29L360.85 196.08L361.10 195.73L361.35 195.92L361.60 195.65L361.85 195.81L362.10 196.33L362.35 196.56L362.60 194.95L362.85 195.39L363.10 195.40L363.35 194.62L363.60 195.06L363.85 194.57L364.10 194.75L364.35 194.63L364.60 195.17L364.85 194.38L365.10 194.69L365.35 194.70L365.60 194.42L365.85 195.39L366.10 194.38L366.35 194.37L366.60 194.75L366.85 194.53L367.10 194.80L367.35 194.06L367.60 194.06L367.85 194.85L368.10 194.50L368.35 195.16L368.60 194.33L368.85 194.37L369.10 195.26L369.35 194.61L369.60 194.14L369.85 194.47L370.10 195.18L370.35 194.62L370.60 194.98L370.85 195.43L371.10 195.11L371.35 195.34L371.60 196.38L371.85 194.92L372.10 195.76L372.35 195.26L372.60 194.88L372.85 194.74L373.10 195.17L373.35 194.84L373.60 195.75L373.85 195.52L374.10 194.49L374.35 196.14L374.60 195.67L374.85 195.56L375.10 195.12L375.35 195.66L375.60 196.47L375.85 195.82L376.10 195.74L376.35 195.90L376.60 195.87L376.85 195.96L377.10 195.48L377.35 195.37L377.60 194.35L377.85 196.37L378.10 193.80L378.35 195.65L378.60 196.02L378.85 195.94L379.10 196.63L379.35 195.59L379.60 195.32L379.85 195.46L380.10 195.93L380.35 195.70L380.60 195.88L380.85 196.10L381.10 195.71L381.35 196.05L381.60 194.51L381.85 195.89L382.10 196.54L382.35 196.66L382.60 195.86L382.85 197.19L383.10 195.43L383.35 195.51L383.60 195.66L383.85 195.69L384.10 196.08L384.35 195.58L384.60 194.62L384.85 195.79L385.10 195.20L385.35 196.12L385.60 195.12L385.85 195.23L386.10 194.88L386.35 195.18L386.60 195.46L386.85 195.07L387.10 194.32L387.35 195.35L387.60 195.50L387.85 194.57L388.10 195.11L388.35 194.31L388.60 193.69L388.85 194.96L389.10 194.82L389.35 195.60L389.60 193.47L389.85 195.10L390.10 195.19L390.35 194.82L390.60 194.87L390.85 194.54L391.10 194.52L391.35 193.84L391.60 195.46L391.85 193.53L392.10 194.16L392.35 194.93L392.60 194.62L392.85 194.65L393.10 194.40L393.35 194.12L393.60 194.96L393.85 193.98L394.10 194.33L394.35 194.83L394.60 194.31L394.85 195.50L395.10 194.08L395.35 194.54L395.60 194.56L395.85 194.54L396.10 194.89L396.35 193.58L396.60 194.65L396.85 195.01L397.10 193.74L397.35 194.80L397.60 194.77L397.85 194.81L398.10 195.02L398.35 195.21L398.60 195.42L398.85 195.99L399.10 195.61L399.35 198.18L399.60 195.91L399.85 195.64L400.10 195.54L400.35 195.39L400.60 196.14L400.85 195.96L401.10 196.98L401.35 197.18L401.60 197.27L401.85 197.22L402.10 197.51L402.35 197.43L402.60 198.81L402.85 196.47L403.10 198.12L403.35 198.62L403.60 198.23L403.85 199.57L404.10 199.13L404.35 199.20L404.60 198.47L404.85 199.46L405.10 200.08L405.35 199.88L405.60 199.08L405.85 200.70L406.10 200.54L406.35 201.70L406.60 201.52L406.85 201.79L407.10 202.55L407.35 202.45L407.60 201.84L407.85 202.39L408.10 202.11L408.35 202.16L408.60 202.37L408.85 202.18L409.10 202.85L409.35 203.00L409.60 203.97L409.85 203.44L410.10 202.54L410.35 204.14L410.60 203.83L410.85 204.92L411.10 204.24L411.35 205.03L411.60 204.40L411.85 205.25L412.10 206.36L412.35 205.25L412.60 205.79L412.85 205.81L413.10 204.65L413.35 203.91L413.60 207.19L413.85 206.22L414.10 206.99L414.35 206.64L414.60 207.77L414.85 206.36L415.10 207.18L415.35 207.43L415.60 208.17L415.85 205.43L416.10 207.52L416.35 207.87L416.60 208.20L416.85 207.18L417.10 208.40L417.35 208.87L417.60 209.12L417.85 208.10L418.10 208.80L418.35 208.61L418.60 208.98L418.85 209.07L419.10 211.37L419.35 206.55L419.60 211.74L419.85 207.59L420.10 208.48L420.35 209.48L420.60 209.93L420.85 211.69L421.10 211.76L421.35 212.73L421.60 210.84L421.85 208.08L422.10 211.66L422.35 213.03L422.60 210.30L422.85 212.89L423.10 206.77L423.35 212.82L423.60 212.39L423.85 214.19L424.10 214.08L424.35 210.62L424.60 213.09L424.85 212.56L425.10 213.31L425.35 211.62L425.60 213.47L425.85 213.77L426.10 209.26L426.35 214.27L426.60 216.09L426.85 212.53L427.10 217.13L427.35 215.02L427.60 214.33L427.85 218.32L428.10 215.53L428.35 215.63L428.60 215.65L428.85 217.68L429.10 214.88L429.35 215.57L429.60 216.08L429.85 214.61L430.10 218.34L430.35 217.23L430.60 217.69L430.85 219.27L431.10 217.81L431.35 217.34L431.60 218.27L431.85 218.39L432.10 217.99L432.35 217.89L432.60 218.58L432.85 219.90L433.10 218.06L433.35 225.22L433.60 218.86L433.85 219.23L434.10 218.47L434.35 220.05L434.60 220.18L434.85 221.28L435.10 222.83L435.35 220.28L435.60 222.51L435.85 220.94L436.10 221.48L436.35 220.26L436.60 224.06L436.85 221.98L437.10 223.19L437.35 219.05L437.60 223.59L437.85 222.15L438.10 223.23L438.35 224.12L438.60 222.39L438.85 224.05L439.10 225.63L439.35 222.92L439.60 224.50L439.85 223.47L440.10 223.34L440.35 225.17L440.60 225.28L440.85 226.06L441.10 227.51L441.35 226.73L441.60 225.67L441.85 226.38L442.10 227.21L442.35 228.39L442.60 227.66L442.85 227.24L443.10 225.58L443.35 229.52L443.60 227.02L443.85 227.74L444.10 230.35L444.35 227.18L444.60 231.20L444.85 227.72L445.10 226.51L445.35 229.31L445.60 230.79L445.85 229.35L446.10 231.60L446.35 229.73L446.60 231.78L446.85 228.24L447.10 229.83L447.35 228.76L447.60 232.10L447.85 231.21L448.10 232.08L448.35 230.56L448.60 232.90L448.85 238.74L449.10 229.42L449.35 231.80L449.60 234.84L449.85 234.84L450.10 235.29L450.35 232.04L450.60 233.72L450.85 230.85L451.10 233.65L451.35 234.36L451.60 233.20L451.85 234.20L452.10 234.15L452.35 231.91L452.60 231.74L452.85 236.62L453.10 226.79L453.35 241.66L453.60 238.48L453.85 242.23L454.10 237.62L454.35 227.25L454.60 234.03L454.85 235.95L455.10 235.15L455.35 233.41L455.60 240.41L455.85 240.47L456.10 238.98L456.35 236.61L456.60 240.16L456.85 239.98L457.10 237.57L457.35 236.07L457.60 236.35L457.85 238.51L458.10 241.04L458.35 235.80L458.60 239.12L458.85 238.94L459.10 242.58L459.35 237.73L459.60 240.79L459.85 239.45L460.10 241.09L460.35 242.55L460.60 242.75L460.85 243.17L461.10 240.10L461.35 240.15L461.60 238.76L461.85 240.33L462.10 239.02L462.35 243.57L462.60 237.54L462.85 240.41L463.10 244.14L463.35 244.12L463.60 248.56L463.85 242.41L464.10 238.33L464.35 245.17L464.60 242.31L464.85 245.17L465.10 237.22L465.35 238.54L465.60 244.52L465.85 245.17L466.10 244.67L466.35 244.70L466.60 245.17L466.85 242.13L467.10 240.80L467.35 244.47L467.60 245.59L467.85 244.08L468.10 243.55L468.35 245.62L468.60 245.60L468.85 244.86L469.10 250.41L469.35 251.11L469.60 241.59L469.85 246.72L470.10 245.36L470.35 246.25L470.60 241.07L470.85 243.44L471.10 241.68L471.35 244.70L471.60 248.63L471.85 243.93L472.10 251.40L472.35 250.34L472.60 247.05L472.85 249.64L473.10 253.92L473.35 245.57L473.60 249.25L473.85 248.94L474.10 248.15L474.35 248.10L474.60 245.49L474.85 250.39L475.10 247.60L475.35 249.46L475.60 254.42L475.85 249.24L476.10 249.13L476.35 254.95L476.60 250.84L476.85 250.88L477.10 248.74L477.35 251.52L477.60 250.20L477.85 251.17L478.10 250.52L478.35 246.85L478.60 254.63L478.85 252.53L479.10 257.42L479.35 250.40L479.60 250.29L479.85 248.62L480.10 250.68L480.35 250.92L480.60 249.63L480.85 250.61L481.10 250.95L481.35 255.44L481.60 252.16L481.85 255.05L482.10 246.90L482.35 250.28L482.60 258.67L482.85 247.14L483.10 248.02L483.35 253.14L483.60 251.76L483.85 250.82L484.10 253.91L484.35 253.99L484.60 250.95L484.85 253.73L485.10 253.35L485.35 256.69L485.60 248.61L485.85 251.82L486.10 254.21L486.35 246.89L486.60 257.02L486.85 261.20L487.10 252.96L487.35 256.20L487.60 252.31L487.85 260.15" stroke="#168a16" stroke-width="1.25" fill="none" stroke-linejoin="round" />
<path d="M337.60 213.48L337.85 211.94L338.10 212.50L338.35 212.84L338.60 211.61L338.85 213.29L339.10 211.85L339.35 211.37L339.60 210.99L339.85 210.37L340.10 210.50L340.35 209.71L340.60 208.99L340.85 208.36L341.10 207.65L341.35 207.45L341.60 207.01L341.85 206.01L342.10 206.85L342.35 205.47L342.60 205.27L342.85 204.06L343.10 204.35L343.35 203.98L343.60 202.76L343.85 204.03L344.10 202.12L344.35 201.85L344.60 201.87L344.85 201.07L345.10 201.28L345.35 200.11L345.60 199.79L345.85 199.71L346.10 199.58L346.35 199.24L346.60 198.13L346.85 197.95L347.10 197.47L347.35 197.30L347.60 196.48L347.85 196.77L348.10 196.19L348.35 195.24L348.60 195.07L348.85 194.71L349.10 195.18L349.35 194.08L349.60 193.83L349.85 194.07L350.10 192.92L350.35 193.43L350.60 192.09L350.85 190.63L351.10 191.01L351.35 191.39L351.60 190.78L351.85 190.92L352.10 190.22L352.35 190.03L352.60 189.41L352.85 189.28L353.10 189.07L353.35 188.48L353.60 188.27L353.85 188.39L354.10 188.37L354.35 187.27L354.60 186.40L354.85 187.25L355.10 186.54L355.35 187.32L355.60 186.34L355.85 185.73L356.10 186.03L356.35 185.42L356.60 185.36L356.85 185.48L357.10 184.82L357.35 185.36L357.60 184.29L357.85 184.09L358.10 184.13L358.35 183.77L358.60 183.87L358.85 183.54L359.10 183.59L359.35 183.58L359.60 183.11L359.85 183.54L360.10 183.07L360.35 183.09L360.60 181.36L360.85 181.15L361.10 182.37L361.35 182.00L361.60 182.51L361.85 181.83L362.10 182.05L362.35 181.46L362.60 181.72L362.85 182.10L363.10 181.90L363.35 181.26L363.60 181.28L363.85 181.26L364.10 181.04L364.35 181.10L364.60 182.01L364.85 181.53L365.10 180.82L365.35 181.12L365.60 181.73L365.85 180.79L366.10 181.31L366.35 181.19L366.60 181.39L366.85 180.22L367.10 181.51L367.35 182.00L367.60 180.58L367.85 180.94L368.10 180.23L368.35 180.92L368.60 181.03L368.85 181.08L369.10 181.29L369.35 180.66L369.60 180.34L369.85 181.22L370.10 179.82L370.35 180.61L370.60 180.62L370.85 181.17L371.10 180.85L371.35 181.31L371.60 181.06L371.85 181.33L372.10 181.23L372.35 181.45L372.60 180.74L372.85 180.84L373.10 181.08L373.35 181.05L373.60 181.28L373.85 181.35L374.10 180.85L374.35 180.53L374.60 181.28L374.85 181.23L375.10 180.86L375.35 180.32L375.60 180.01L375.85 180.87L376.10 180.92L376.35 180.84L376.60 180.36L376.85 180.81L377.10 181.08L377.35 180.63L377.60 180.94L377.85 181.24L378.10 181.73L378.35 181.82L378.60 181.30L378.85 180.92L379.10 181.23L379.35 181.65L379.60 181.47L379.85 181.64L380.10 181.86L380.35 181.82L380.60 182.19L380.85 181.17L381.10 181.67L381.35 180.96L381.60 181.98L381.85 182.11L382.10 181.83L382.35 181.34L382.60 182.14L382.85 181.83L383.10 181.92L383.35 182.20L383.60 183.11L383.85 182.25L384.10 182.58L384.35 182.31L384.60 182.36L384.85 182.00L385.10 182.12L385.35 182.76L385.60 182.44L385.85 182.30L386.10 183.80L386.35 183.02L386.60 182.29L386.85 182.47L387.10 182.58L387.35 182.14L387.60 182.48L387.85 182.34L388.10 182.88L388.35 181.95L388.60 183.98L388.85 182.28L389.10 182.40L389.35 181.88L389.60 183.17L389.85 182.93L390.10 181.84L390.35 182.57L390.60 182.46L390.85 182.64L391.10 182.41L391.35 183.42L391.60 182.26L391.85 182.92L392.10 182.34L392.35 182.68L392.60 182.50L392.85 182.58L393.10 182.58L393.35 182.67L393.60 181.86L393.85 181.82L394.10 183.58L394.35 182.34L394.60 182.47L394.85 182.33L395.10 182.72L395.35 183.83L395.60 182.55L395.85 182.48L396.10 182.53L396.35 181.64L396.60 182.09L396.85 181.90L397.10 182.61L397.35 184.03L397.60 182.40L397.85 182.94L398.10 182.65L398.35 182.10L398.60 183.49L398.85 182.69L399.10 182.79L399.35 183.70L399.60 183.19L399.85 183.22L400.10 184.42L400.35 183.42L400.60 184.28L400.85 183.82L401.10 184.18L401.35 184.07L401.60 184.24L401.85 185.30L402.10 185.33L402.35 184.39L402.60 185.20L402.85 184.58L403.10 185.05L403.35 184.60L403.60 185.73L403.85 186.00L404.10 186.20L404.35 186.43L404.60 186.16L404.85 185.98L405.10 184.48L405.35 186.76L405.60 187.93L405.85 187.15L406.10 187.53L406.35 188.46L406.60 188.44L406.85 188.35L407.10 188.35L407.35 188.08L407.60 189.03L407.85 188.82L408.10 189.41L408.35 188.96L408.60 190.71L408.85 189.27L409.10 190.55L409.35 191.14L409.60 189.95L409.85 191.55L410.10 191.28L410.35 191.48L410.60 191.24L410.85 191.65L411.10 191.74L411.35 192.37L411.60 192.92L411.85 193.37L412.10 193.61L412.35 193.39L412.60 193.67L412.85 194.66L413.10 196.30L413.35 194.34L413.60 195.04L413.85 195.12L414.10 197.66L414.35 194.00L414.60 197.44L414.85 197.28L415.10 196.87L415.35 197.75L415.60 197.60L415.85 198.34L416.10 198.35L416.35 199.97L416.60 199.06L416.85 200.10L417.10 199.87L417.35 199.88L417.60 202.26L417.85 200.05L418.10 202.19L418.35 203.61L418.60 202.45L418.85 202.06L419.10 202.37L419.35 203.85L419.60 202.61L419.85 203.75L420.10 203.83L420.35 204.44L420.60 203.66L420.85 204.27L421.10 202.96L421.35 203.00L421.60 203.53L421.85 205.42L422.10 204.89L422.35 206.70L422.60 204.15L422.85 204.97L423.10 206.90L423.35 206.08L423.60 205.78L423.85 207.30L424.10 206.22L424.35 209.44L424.60 206.75L424.85 208.48L425.10 207.60L425.35 209.53L425.60 207.58L425.85 209.81L426.10 207.97L426.35 208.50L426.60 209.04L426.85 209.07L427.10 209.52L427.35 209.78L427.60 208.99L427.85 206.15L428.10 210.44L428.35 210.30L428.60 210.41L428.85 210.47L429.10 212.44L429.35 210.39L429.60 212.65L429.85 210.24L430.10 211.90L430.35 213.63L430.60 210.73L430.85 212.76L431.10 211.65L431.35 210.39L431.60 212.48L431.85 213.31L432.10 212.47L432.35 215.46L432.60 208.17L432.85 213.01L433.10 213.45L433.35 213.74L433.60 213.73L433.85 211.29L434.10 213.77L434.35 214.19L434.60 215.48L434.85 214.96L435.10 216.06L435.35 215.53L435.60 215.47L435.85 214.88L436.10 215.45L436.35 218.17L436.60 216.58L436.85 216.39L437.10 216.20L437.35 218.77L437.60 218.04L437.85 218.21L438.10 218.90L438.35 217.30L438.60 218.96L438.85 216.36L439.10 219.12L439.35 218.40L439.60 219.51L439.85 218.39L440.10 219.08L440.35 220.13L440.60 222.24L440.85 219.61L441.10 219.01L441.35 218.84L441.60 221.10L441.85 222.61L442.10 217.07L442.35 220.75L442.60 220.10L442.85 224.39L443.10 220.17L443.35 219.56L443.60 223.03L443.85 229.73L444.10 223.43L444.35 220.87L444.60 222.59L444.85 223.07L445.10 225.16L445.35 224.25L445.60 220.91L445.85 223.60L446.10 224.93L446.35 224.19L446.60 224.77L446.85 227.91L447.10 228.64L447.35 226.22L447.60 225.15L447.85 224.50L448.10 223.81L448.35 224.04L448.60 226.08L448.85 226.86L449.10 227.67L449.35 228.51L449.60 225.60L449.85 225.97L450.10 225.42L450.35 226.98L450.60 230.07L450.85 228.19L451.10 227.19L451.35 225.97L451.60 229.32L451.85 230.08L452.10 229.14L452.35 227.50L452.60 228.08L452.85 228.86L453.10 231.34L453.35 227.93L453.60 228.88L453.85 226.27L454.10 222.17L454.35 228.63L454.60 231.25L454.85 230.66L455.10 230.14L455.35 230.10L455.60 229.64L455.85 231.88L456.10 230.90L456.35 228.19L456.60 231.75L456.85 237.95L457.10 228.77L457.35 239.66L457.60 229.59L457.85 231.48L458.10 237.10L458.35 237.03L458.60 231.23L458.85 233.86L459.10 233.53L459.35 232.96L459.60 234.81L459.85 234.17L460.10 232.59L460.35 233.99L460.60 235.06L460.85 234.82L461.10 234.69L461.35 235.75L461.60 232.77L461.85 231.07L462.10 230.79L462.35 235.83L462.60 235.31L462.85 237.53L463.10 240.59L463.35 233.54L463.60 235.71L463.85 236.03L464.10 236.64L464.35 239.49L464.60 237.15L464.85 236.08L465.10 237.73L465.35 236.49L465.60 237.55L465.85 234.71L466.10 237.86L466.35 237.69L466.60 238.50L466.85 238.28L467.10 238.44L467.35 239.43L467.60 236.12L467.85 239.80L468.10 239.20L468.35 239.66L468.60 238.55L468.85 235.92L469.10 242.53L469.35 241.23L469.60 244.93L469.85 239.43L470.10 242.36L470.35 242.29L470.60 240.13L470.85 243.01L471.10 242.00L471.35 237.38L471.60 237.98L471.85 240.15L472.10 240.77L472.35 241.44L472.60 241.13L472.85 243.60L473.10 242.83L473.35 238.22L473.60 240.59L473.85 244.27L474.10 242.90L474.35 235.04L474.60 242.32L474.85 239.22L475.10 241.99L475.35 250.68L475.60 238.51L475.85 244.32L476.10 242.33L476.35 248.68L476.60 245.09L476.85 238.68L477.10 243.47L477.35 245.43L477.60 241.85L477.85 244.16L478.10 241.86L478.35 241.53L478.60 242.59L478.85 242.43L479.10 248.83L479.35 242.17L479.60 243.47L479.85 243.84L480.10 244.97L480.35 249.85L480.60 244.71L480.85 246.91L481.10 241.60L481.35 245.27L481.60 242.34L481.85 247.47L482.10 245.18L482.35 242.10L482.60 247.45L482.85 245.11L483.10 245.03L483.35 241.32L483.60 248.84L483.85 245.41L484.10 248.22L484.35 241.46L484.60 246.56L484.85 245.06L485.10 245.92L485.35 246.45L485.60 248.20L485.85 250.06L486.10 243.65L486.35 248.90L486.60 242.99L486.85 237.80L487.10 245.18L487.35 245.10L487.60 248.12L487.85 246.72" stroke="#000" stroke-width="1.25" fill="none" stroke-linejoin="round" />
<path d="M337.60 206.10L337.85 206.16L338.10 206.20L338.35 205.46L338.60 205.15L338.85 205.06L339.10 204.23L339.35 205.26L339.60 203.34L339.85 202.59L340.10 203.08L340.35 202.12L340.60 201.87L340.85 201.56L341.10 200.74L341.35 200.66L341.60 200.19L341.85 199.39L342.10 199.49L342.35 198.98L342.60 198.28L342.85 198.39L343.10 197.69L343.35 196.55L343.60 197.30L343.85 196.46L344.10 195.67L344.35 195.57L344.60 195.14L344.85 194.28L345.10 194.42L345.35 193.85L345.60 193.53L345.85 193.48L346.10 192.69L346.35 191.78L346.60 191.96L346.85 191.72L347.10 191.20L347.35 191.18L347.60 191.13L347.85 190.68L348.10 190.02L348.35 189.90L348.60 189.55L348.85 189.04L349.10 188.85L349.35 188.18L349.60 188.08L349.85 187.57L350.10 187.38L350.35 187.03L350.60 185.99L350.85 186.47L351.10 185.15L351.35 185.47L351.60 185.23L351.85 185.12L352.10 183.95L352.35 184.30L352.60 183.77L352.85 182.90L353.10 183.13L353.35 183.02L353.60 182.15L353.85 182.64L354.10 181.38L354.35 181.54L354.60 181.34L354.85 180.62L355.10 181.38L355.35 181.32L355.60 180.78L355.85 179.83L356.10 180.11L356.35 179.46L356.60 179.17L356.85 179.19L357.10 178.36L357.35 177.40L357.60 178.87L357.85 178.03L358.10 178.13L358.35 177.63L358.60 177.01L358.85 177.22L359.10 176.74L359.35 176.33L359.60 175.74L359.85 176.34L360.10 176.02L360.35 175.89L360.60 176.47L360.85 175.89L361.10 175.56L361.35 175.05L361.60 175.24L361.85 175.02L362.10 174.74L362.35 174.37L362.60 174.18L362.85 174.22L363.10 173.97L363.35 174.38L363.60 173.86L363.85 173.88L364.10 174.07L364.35 173.64L364.60 173.18L364.85 173.27L365.10 173.81L365.35 172.63L365.60 172.98L365.85 173.21L366.10 173.42L366.35 173.32L366.60 173.17L366.85 173.11L367.10 172.87L367.35 172.37L367.60 172.98L367.85 172.37L368.10 173.09L368.35 172.48L368.60 172.02L368.85 174.50L369.10 172.50L369.35 172.82L369.60 172.20L369.85 173.60L370.10 171.83L370.35 172.84L370.60 173.01L370.85 172.55L371.10 171.59L371.35 171.99L371.60 172.11L371.85 172.83L372.10 172.65L372.35 173.04L372.60 172.70L372.85 172.67L373.10 172.36L373.35 172.38L373.60 173.41L373.85 173.20L374.10 172.54L374.35 172.80L374.60 172.71L374.85 172.40L375.10 172.31L375.35 172.73L375.60 173.23L375.85 173.44L376.10 172.46L376.35 172.01L376.60 172.43L376.85 172.04L377.10 173.54L377.35 172.46L377.60 172.92L377.85 172.45L378.10 173.33L378.35 172.70L378.60 173.04L378.85 172.86L379.10 173.06L379.35 172.42L379.60 172.55L379.85 173.00L380.10 173.56L380.35 173.73L380.60 173.53L380.85 173.56L381.10 173.00L381.35 174.23L381.60 173.94L381.85 174.02L382.10 174.36L382.35 173.96L382.60 174.33L382.85 174.47L383.10 174.62L383.35 174.06L383.60 174.72L383.85 175.04L384.10 174.73L384.35 174.40L384.60 175.18L384.85 174.30L385.10 174.51L385.35 175.03L385.60 174.74L385.85 174.56L386.10 174.87L386.35 174.68L386.60 174.17L386.85 174.29L387.10 174.69L387.35 174.63L387.60 173.81L387.85 174.26L388.10 174.32L388.35 173.99L388.60 173.48L388.85 173.90L389.10 174.40L389.35 173.95L389.60 173.48L389.85 173.93L390.10 173.64L390.35 173.31L390.60 173.20L390.85 173.01L391.10 173.14L391.35 173.03L391.60 172.88L391.85 173.31L392.10 173.06L392.35 172.78L392.60 173.39L392.85 172.75L393.10 173.18L393.35 172.77L393.60 172.52L393.85 172.50L394.10 172.53L394.35 172.46L394.60 172.59L394.85 172.09L395.10 172.08L395.35 171.95L395.60 172.62L395.85 172.56L396.10 172.11L396.35 172.10L396.60 171.85L396.85 173.04L397.10 172.43L397.35 173.09L397.60 172.58L397.85 172.63L398.10 172.94L398.35 173.30L398.60 173.39L398.85 173.17L399.10 173.47L399.35 174.26L399.60 173.91L399.85 174.39L400.10 174.41L400.35 174.95L400.60 174.39L400.85 173.55L401.10 175.00L401.35 175.71L401.60 175.94L401.85 177.03L402.10 178.09L402.35 176.48L402.60 177.48L402.85 177.43L403.10 178.04L403.35 177.87L403.60 178.47L403.85 177.00L404.10 178.73L404.35 178.88L404.60 179.04L404.85 179.36L405.10 179.72L405.35 180.03L405.60 180.30L405.85 180.76L406.10 181.16L406.35 181.94L406.60 181.44L406.85 181.31L407.10 181.86L407.35 182.01L407.60 182.03L407.85 182.41L408.10 182.53L408.35 183.11L408.60 182.56L408.85 183.63L409.10 183.78L409.35 182.41L409.60 184.14L409.85 185.78L410.10 184.97L410.35 184.33L410.60 185.51L410.85 185.92L411.10 185.43L411.35 186.16L411.60 186.16L411.85 186.83L412.10 187.52L412.35 187.03L412.60 187.07L412.85 187.34L413.10 188.31L413.35 187.59L413.60 188.79L413.85 189.49L414.10 189.69L414.35 189.82L414.60 188.13L414.85 190.14L415.10 190.16L415.35 190.80L415.60 190.51L415.85 190.74L416.10 192.81L416.35 192.67L416.60 191.45L416.85 193.08L417.10 191.83L417.35 192.94L417.60 195.68L417.85 194.82L418.10 193.98L418.35 194.58L418.60 194.46L418.85 195.52L419.10 194.94L419.35 195.00L419.60 195.09L419.85 196.21L420.10 196.40L420.35 197.51L420.60 196.22L420.85 197.70L421.10 198.68L421.35 198.11L421.60 197.17L421.85 197.61L422.10 197.55L422.35 198.59L422.60 199.51L422.85 198.63L423.10 199.55L423.35 198.44L423.60 200.40L423.85 199.42L424.10 201.18L424.35 201.05L424.60 200.56L424.85 201.71L425.10 201.42L425.35 201.92L425.60 202.21L425.85 201.99L426.10 202.50L426.35 203.39L426.60 203.92L426.85 204.08L427.10 203.64L427.35 204.66L427.60 203.18L427.85 206.47L428.10 202.87L428.35 205.73L428.60 205.47L428.85 204.94L429.10 205.90L429.35 207.20L429.60 204.98L429.85 206.18L430.10 202.91L430.35 206.62L430.60 205.09L430.85 207.02L431.10 204.88L431.35 206.96L431.60 208.23L431.85 207.13L432.10 209.65L432.35 207.80L432.60 207.29L432.85 209.68L433.10 207.51L433.35 208.68L433.60 210.29L433.85 210.44L434.10 209.12L434.35 208.55L434.60 209.35L434.85 209.10L435.10 209.32L435.35 209.48L435.60 209.29L435.85 208.17L436.10 210.82L436.35 207.61L436.60 210.71L436.85 210.50L437.10 211.17L437.35 211.18L437.60 211.16L437.85 211.99L438.10 211.62L438.35 212.92L438.60 211.95L438.85 213.08L439.10 213.16L439.35 212.68L439.60 212.06L439.85 212.53L440.10 211.18L440.35 213.36L440.60 213.31L440.85 214.02L441.10 211.83L441.35 212.34L441.60 213.94L441.85 214.34L442.10 212.32L442.35 211.72L442.60 213.92L442.85 214.12L443.10 212.64L443.35 213.35L443.60 214.16L443.85 211.95L444.10 214.20L444.35 212.79L444.60 215.36L444.85 216.43L445.10 216.33L445.35 216.36L445.60 216.26L445.85 215.59L446.10 214.49L446.35 215.92L446.60 219.13L446.85 218.12L447.10 217.51L447.35 217.78L447.60 218.35L447.85 218.87L448.10 217.35L448.35 219.13L448.60 218.74L448.85 218.00L449.10 218.20L449.35 217.86L449.60 219.18L449.85 222.00L450.10 220.28L450.35 218.48L450.60 218.31L450.85 219.33L451.10 218.95L451.35 218.96L451.60 221.04L451.85 220.08L452.10 220.86L452.35 220.40L452.60 224.65L452.85 221.40L453.10 220.00L453.35 222.34L453.60 221.06L453.85 221.68L454.10 221.34L454.35 222.05L454.60 221.69L454.85 221.88L455.10 221.25L455.35 225.39L455.60 221.82L455.85 222.29L456.10 222.83L456.35 221.59L456.60 222.45L456.85 223.23L457.10 223.79L457.35 223.80L457.60 223.51L457.85 224.47L458.10 224.88L458.35 223.52L458.60 223.53L458.85 224.83L459.10 224.41L459.35 226.01L459.60 220.32L459.85 225.13L460.10 224.73L460.35 224.28L460.60 226.99L460.85 224.56L461.10 226.71L461.35 227.29L461.60 229.22L461.85 224.34L462.10 224.82L462.35 224.21L462.60 225.96L462.85 228.69L463.10 227.20L463.35 225.49L463.60 225.16L463.85 228.08L464.10 227.72L464.35 220.89L464.60 227.91L464.85 226.61L465.10 227.31L465.35 226.12L465.60 233.43L465.85 228.34L466.10 228.96L466.35 227.64L466.60 228.58L466.85 229.56L467.10 230.16L467.35 231.63L467.60 228.71L467.85 228.84L468.10 229.69L468.35 229.51L468.60 231.66L468.85 230.10L469.10 230.28L469.35 230.84L469.60 231.20L469.85 230.72L470.10 225.93L470.35 232.40L470.60 229.72L470.85 233.56L471.10 231.10L471.35 231.32L471.60 232.50L471.85 234.89L472.10 232.37L472.35 232.86L472.60 232.82L472.85 231.17L473.10 232.64L473.35 236.08L473.60 236.69L473.85 232.94L474.10 236.64L474.35 229.32L474.60 235.18L474.85 230.28L475.10 234.43L475.35 234.54L475.60 234.76L475.85 238.19L476.10 234.74L476.35 230.58L476.60 233.33L476.85 236.68L477.10 233.82L477.35 232.81L477.60 234.70L477.85 240.81L478.10 236.18L478.35 234.68L478.60 237.19L478.85 236.34L479.10 237.05L479.35 244.26L479.60 237.91L479.85 237.38L480.10 246.03L480.35 237.55L480.60 237.51L480.85 239.63L481.10 241.70L481.35 238.92L481.60 237.67L481.85 237.94L482.10 232.16L482.35 237.38L482.60 239.89L482.85 238.72L483.10 240.83L483.35 239.64L483.60 239.33L483.85 240.71L484.10 239.32L484.35 240.09L484.60 239.51L484.85 239.10L485.10 240.97L485.35 236.73L485.60 244.93L485.85 244.16L486.10 241.90L486.35 240.12L486.60 240.15L486.85 240.04L487.10 240.33L487.35 239.20L487.60 242.09L487.85 243.01" stroke="#f01818" stroke-width="1.25" fill="none" stroke-linejoin="round" />
<path d="M337.60 204.64L337.85 204.75L338.10 203.97L338.35 204.19L338.60 204.35L338.85 203.28L339.10 203.55L339.35 202.60L339.60 202.17L339.85 201.61L340.10 200.60L340.35 200.39L340.60 200.67L340.85 199.64L341.10 199.64L341.35 198.74L341.60 198.84L341.85 198.90L342.10 197.84L342.35 196.59L342.60 197.09L342.85 196.46L343.10 196.43L343.35 195.28L343.60 195.05L343.85 195.33L344.10 194.71L344.35 194.47L344.60 193.59L344.85 193.30L345.10 193.36L345.35 192.49L345.60 191.49L345.85 191.26L346.10 189.70L346.35 190.40L346.60 189.62L346.85 190.00L347.10 189.78L347.35 189.70L347.60 188.90L347.85 188.27L348.10 188.72L348.35 188.39L348.60 188.40L348.85 186.27L349.10 186.85L349.35 186.52L349.60 186.10L349.85 185.45L350.10 185.91L350.35 185.06L350.60 183.94L350.85 184.24L351.10 184.18L351.35 183.41L351.60 183.57L351.85 182.76L352.10 182.64L352.35 182.20L352.60 181.64L352.85 182.13L353.10 181.29L353.35 181.29L353.60 181.22L353.85 180.31L354.10 178.88L354.35 179.90L354.60 179.37L354.85 179.70L355.10 178.70L355.35 178.91L355.60 177.62L355.85 178.03L356.10 177.67L356.35 178.04L356.60 177.49L356.85 177.29L357.10 176.41L357.35 176.55L357.60 176.90L357.85 176.29L358.10 176.19L358.35 175.75L358.60 175.27L358.85 175.81L359.10 174.90L359.35 174.55L359.60 174.75L359.85 173.93L360.10 174.44L360.35 174.18L360.60 173.74L360.85 173.62L361.10 173.41L361.35 172.68L361.60 172.52L361.85 172.77L362.10 171.44L362.35 172.24L362.60 172.28L362.85 172.30L363.10 172.09L363.35 171.64L363.60 172.03L363.85 171.95L364.10 171.70L364.35 171.62L364.60 171.20L364.85 171.64L365.10 171.29L365.35 170.87L365.60 171.24L365.85 171.13L366.10 171.04L366.35 170.94L366.60 171.14L366.85 171.06L367.10 170.91L367.35 170.24L367.60 170.57L367.85 171.69L368.10 170.69L368.35 170.82L368.60 170.33L368.85 170.74L369.10 170.75L369.35 170.88L369.60 171.46L369.85 170.61L370.10 170.49L370.35 170.29L370.60 170.49L370.85 170.56L371.10 171.34L371.35 170.57L371.60 170.68L371.85 170.73L372.10 169.50L372.35 170.31L372.60 170.54L372.85 169.88L373.10 170.16L373.35 170.70L373.60 170.61L373.85 170.11L374.10 170.06L374.35 170.80L374.60 170.44L374.85 170.32L375.10 170.62L375.35 170.57L375.60 171.74L375.85 169.99L376.10 170.67L376.35 170.42L376.60 170.25L376.85 170.46L377.10 169.55L377.35 170.09L377.60 170.07L377.85 170.68L378.10 170.73L378.35 170.40L378.60 170.52L378.85 170.94L379.10 170.70L379.35 170.74L379.60 171.57L379.85 171.04L380.10 171.14L380.35 171.29L380.60 170.60L380.85 171.37L381.10 171.80L381.35 171.78L381.60 172.23L381.85 171.77L382.10 172.00L382.35 171.91L382.60 171.94L382.85 171.83L383.10 172.14L383.35 172.16L383.60 172.50L383.85 172.54L384.10 172.85L384.35 172.90L384.60 172.71L384.85 172.81L385.10 172.68L385.35 172.55L385.60 172.67L385.85 172.73L386.10 173.30L386.35 172.85L386.60 171.93L386.85 172.56L387.10 171.91L387.35 172.42L387.60 172.62L387.85 172.35L388.10 171.71L388.35 172.00L388.60 171.69L388.85 172.00L389.10 171.96L389.35 171.90L389.60 171.53L389.85 171.60L390.10 171.19L390.35 171.92L390.60 171.87L390.85 170.36L391.10 171.12L391.35 171.16L391.60 170.68L391.85 170.03L392.10 169.15L392.35 170.80L392.60 169.50L392.85 170.42L393.10 170.68L393.35 169.69L393.60 170.43L393.85 170.17L394.10 170.08L394.35 170.09L394.60 169.95L394.85 170.39L395.10 170.11L395.35 169.89L395.60 169.54L395.85 169.96L396.10 171.77L396.35 170.44L396.60 169.47L396.85 170.00L397.10 170.16L397.35 170.21L397.60 169.96L397.85 170.24L398.10 170.69L398.35 171.01L398.60 171.20L398.85 171.36L399.10 171.59L399.35 170.53L399.60 171.72L399.85 172.11L400.10 172.31L400.35 172.71L400.60 173.01L400.85 173.26L401.10 172.49L401.35 174.39L401.60 175.05L401.85 174.67L402.10 174.69L402.35 175.14L402.60 176.04L402.85 175.83L403.10 176.21L403.35 176.49L403.60 177.71L403.85 176.99L404.10 176.58L404.35 177.39L404.60 178.31L404.85 177.40L405.10 177.31L405.35 177.54L405.60 177.91L405.85 178.47L406.10 179.44L406.35 179.47L406.60 179.87L406.85 179.92L407.10 179.98L407.35 180.70L407.60 180.17L407.85 180.72L408.10 181.02L408.35 181.53L408.60 181.91L408.85 181.91L409.10 182.21L409.35 182.11L409.60 182.70L409.85 183.38L410.10 183.08L410.35 183.71L410.60 183.67L410.85 183.94L411.10 184.31L411.35 183.88L411.60 184.36L411.85 184.53L412.10 185.34L412.35 185.79L412.60 186.14L412.85 185.74L413.10 186.25L413.35 186.13L413.60 187.22L413.85 187.25L414.10 187.32L414.35 187.52L414.60 189.40L414.85 188.51L415.10 190.94L415.35 188.90L415.60 188.99L415.85 190.05L416.10 190.99L416.35 189.76L416.60 191.37L416.85 191.08L417.10 192.20L417.35 192.84L417.60 191.81L417.85 193.42L418.10 191.94L418.35 192.76L418.60 193.07L418.85 193.03L419.10 193.73L419.35 194.47L419.60 193.46L419.85 194.65L420.10 195.00L420.35 194.71L420.60 195.78L420.85 195.46L421.10 196.27L421.35 196.57L421.60 197.20L421.85 198.34L422.10 198.56L422.35 197.65L422.60 197.52L422.85 197.75L423.10 199.05L423.35 199.26L423.60 199.65L423.85 200.07L424.10 199.71L424.35 200.95L424.60 200.42L424.85 200.64L425.10 201.47L425.35 201.22L425.60 201.77L425.85 202.86L426.10 201.60L426.35 202.51L426.60 201.92L426.85 202.52L427.10 203.77L427.35 205.15L427.60 204.92L427.85 204.08L428.10 204.67L428.35 205.12L428.60 204.48L428.85 204.01L429.10 202.32L429.35 205.57L429.60 205.81L429.85 205.96L430.10 205.86L430.35 206.25L430.60 206.63L430.85 206.48L431.10 206.95L431.35 206.26L431.60 207.16L431.85 207.56L432.10 207.66L432.35 207.24L432.60 206.90L432.85 208.50L433.10 207.22L433.35 209.34L433.60 208.03L433.85 209.69L434.10 208.99L434.35 210.80L434.60 209.02L434.85 208.93L435.10 210.45L435.35 210.96L435.60 210.20L435.85 210.65L436.10 211.23L436.35 210.65L436.60 211.09L436.85 211.62L437.10 211.27L437.35 210.83L437.60 213.57L437.85 211.06L438.10 215.68L438.35 213.71L438.60 212.77L438.85 214.20L439.10 211.42L439.35 213.56L439.60 213.32L439.85 213.37L440.10 215.43L440.35 211.85L440.60 215.58L440.85 212.87L441.10 215.18L441.35 214.44L441.60 215.20L441.85 217.12L442.10 216.38L442.35 214.17L442.60 215.42L442.85 216.06L443.10 216.81L443.35 212.09L443.60 217.90L443.85 217.95L444.10 219.40L444.35 216.29L444.60 216.52L444.85 218.65L445.10 217.77L445.35 217.20L445.60 214.68L445.85 217.43L446.10 218.91L446.35 219.29L446.60 218.47L446.85 220.87L447.10 219.20L447.35 219.40L447.60 219.29L447.85 219.49L448.10 219.54L448.35 221.18L448.60 220.10L448.85 219.58L449.10 220.43L449.35 222.81L449.60 221.27L449.85 219.38L450.10 221.06L450.35 221.34L450.60 217.61L450.85 224.59L451.10 223.90L451.35 220.27L451.60 222.35L451.85 221.85L452.10 221.56L452.35 222.00L452.60 220.28L452.85 223.54L453.10 222.78L453.35 223.88L453.60 224.60L453.85 223.77L454.10 223.29L454.35 222.37L454.60 224.44L454.85 224.66L455.10 225.28L455.35 222.88L455.60 221.70L455.85 226.42L456.10 225.13L456.35 222.94L456.60 225.76L456.85 222.56L457.10 225.74L457.35 225.64L457.60 226.32L457.85 223.67L458.10 228.00L458.35 228.67L458.60 230.52L458.85 227.21L459.10 225.78L459.35 230.51L459.60 226.96L459.85 227.49L460.10 227.37L460.35 225.85L460.60 228.70L460.85 227.69L461.10 226.29L461.35 227.11L461.60 225.95L461.85 227.53L462.10 232.96L462.35 227.61L462.60 227.77L462.85 229.46L463.10 225.92L463.35 226.53L463.60 229.51L463.85 226.90L464.10 229.21L464.35 230.38L464.60 229.34L464.85 226.78L465.10 228.23L465.35 229.73L465.60 233.10L465.85 230.46L466.10 230.81L466.35 230.59L466.60 229.87L466.85 231.00L467.10 225.22L467.35 230.77L467.60 232.63L467.85 230.15L468.10 232.14L468.35 232.68L468.60 230.36L468.85 234.08L469.10 231.42L469.35 236.47L469.60 232.35L469.85 233.48L470.10 236.68L470.35 235.05L470.60 233.71L470.85 232.56L471.10 234.58L471.35 234.69L471.60 231.52L471.85 234.42L472.10 237.83L472.35 235.33L472.60 233.91L472.85 236.18L473.10 235.71L473.35 238.77L473.60 236.23L473.85 231.88L474.10 234.89L474.35 235.20L474.60 240.65L474.85 236.68L475.10 236.81L475.35 242.34L475.60 236.32L475.85 238.34L476.10 241.65L476.35 240.96L476.60 236.57L476.85 238.45L477.10 237.61L477.35 239.69L477.60 237.87L477.85 237.49L478.10 238.34L478.35 237.29L478.60 240.56L478.85 238.82L479.10 239.56L479.35 239.09L479.60 239.76L479.85 239.54L480.10 239.93L480.35 241.55L480.60 239.02L480.85 241.71L481.10 240.45L481.35 238.37L481.60 238.92L481.85 244.22L482.10 237.39L482.35 240.73L482.60 244.10L482.85 238.84L483.10 240.64L483.35 241.18L483.60 244.31L483.85 239.96L484.10 246.49L484.35 240.25L484.60 243.11L484.85 244.37L485.10 243.31L485.35 243.23L485.60 243.07L485.85 242.20L486.10 250.99L486.35 243.22L486.60 244.27L486.85 244.09L487.10 248.47L487.35 242.62L487.60 241.86L487.85 246.93" stroke="#1a1aee" stroke-width="1.25" fill="none" stroke-linejoin="round" />
<path d="M337.60 202.17L337.85 202.01L338.10 201.73L338.35 201.58L338.60 201.34L338.85 200.85L339.10 199.14L339.35 200.28L339.60 198.95L339.85 199.53L340.10 197.18L340.35 198.58L340.60 198.03L340.85 196.74L341.10 197.27L341.35 196.70L341.60 195.85L341.85 196.15L342.10 195.40L342.35 194.90L342.60 195.07L342.85 193.82L343.10 193.36L343.35 193.61L343.60 192.49L343.85 192.63L344.10 191.72L344.35 191.79L344.60 191.06L344.85 190.78L345.10 190.36L345.35 189.83L345.60 189.49L345.85 189.17L346.10 188.34L346.35 188.75L346.60 188.16L346.85 187.26L347.10 186.88L347.35 186.64L347.60 186.51L347.85 185.93L348.10 185.41L348.35 185.34L348.60 184.50L348.85 184.50L349.10 184.16L349.35 183.17L349.60 183.24L349.85 182.87L350.10 183.19L350.35 181.92L350.60 181.65L350.85 181.84L351.10 180.57L351.35 180.96L351.60 180.09L351.85 179.71L352.10 180.65L352.35 179.02L352.60 178.54L352.85 178.13L353.10 178.15L353.35 177.75L353.60 177.13L353.85 176.99L354.10 176.51L354.35 176.62L354.60 175.92L354.85 175.76L355.10 175.85L355.35 174.89L355.60 175.40L355.85 174.49L356.10 174.30L356.35 173.77L356.60 173.79L356.85 173.55L357.10 173.20L357.35 173.23L357.60 172.63L357.85 171.49L358.10 172.63L358.35 171.99L358.60 171.79L358.85 171.57L359.10 170.64L359.35 170.95L359.60 170.44L359.85 170.79L360.10 170.82L360.35 170.41L360.60 170.38L360.85 169.84L361.10 169.04L361.35 169.54L361.60 169.14L361.85 169.12L362.10 168.89L362.35 168.66L362.60 168.89L362.85 168.67L363.10 168.73L363.35 169.22L363.60 167.97L363.85 168.57L364.10 168.08L364.35 167.78L364.60 168.37L364.85 167.48L365.10 166.58L365.35 166.84L365.60 166.95L365.85 167.08L366.10 166.86L366.35 166.82L366.60 165.72L366.85 166.28L367.10 166.38L367.35 166.33L367.60 166.09L367.85 165.81L368.10 165.80L368.35 166.02L368.60 165.89L368.85 165.47L369.10 166.19L369.35 164.87L369.60 165.25L369.85 165.35L370.10 165.59L370.35 165.33L370.60 165.38L370.85 165.85L371.10 165.14L371.35 164.94L371.60 165.15L371.85 165.24L372.10 164.87L372.35 164.56L372.60 165.41L372.85 166.27L373.10 165.83L373.35 165.27L373.60 165.35L373.85 165.70L374.10 166.38L374.35 165.41L374.60 166.16L374.85 165.73L375.10 165.32L375.35 165.66L375.60 164.39L375.85 165.72L376.10 165.83L376.35 166.09L376.60 165.79L376.85 166.02L377.10 166.07L377.35 166.01L377.60 166.09L377.85 166.03L378.10 166.14L378.35 166.08L378.60 166.57L378.85 165.74L379.10 166.49L379.35 166.33L379.60 165.17L379.85 166.32L380.10 166.09L380.35 166.19L380.60 166.20L380.85 166.36L381.10 166.18L381.35 166.27L381.60 165.97L381.85 165.68L382.10 166.30L382.35 167.18L382.60 165.69L382.85 166.63L383.10 166.10L383.35 166.25L383.60 165.98L383.85 166.26L384.10 166.08L384.35 166.33L384.60 165.92L384.85 165.94L385.10 166.09L385.35 165.58L385.60 166.74L385.85 165.97L386.10 166.62L386.35 165.54L386.60 165.90L386.85 165.47L387.10 165.18L387.35 165.55L387.60 165.50L387.85 165.48L388.10 165.36L388.35 165.06L388.60 165.35L388.85 164.98L389.10 164.93L389.35 165.20L389.60 165.02L389.85 164.98L390.10 165.22L390.35 164.97L390.60 164.35L390.85 165.28L391.10 164.41L391.35 164.34L391.60 164.08L391.85 164.08L392.10 164.10L392.35 163.28L392.60 164.06L392.85 163.74L393.10 163.89L393.35 163.86L393.60 163.70L393.85 163.07L394.10 163.55L394.35 163.37L394.60 163.56L394.85 163.52L395.10 163.34L395.35 163.47L395.60 162.96L395.85 163.53L396.10 164.00L396.35 163.69L396.60 163.54L396.85 163.25L397.10 163.86L397.35 163.42L397.60 163.22L397.85 163.53L398.10 163.90L398.35 163.79L398.60 164.07L398.85 163.20L399.10 164.76L399.35 164.64L399.60 164.30L399.85 164.95L400.10 164.35L400.35 164.71L400.60 164.68L400.85 165.27L401.10 165.85L401.35 166.11L401.60 165.24L401.85 166.19L402.10 166.22L402.35 166.16L402.60 167.10L402.85 166.88L403.10 166.34L403.35 167.25L403.60 167.72L403.85 168.21L404.10 167.79L404.35 168.41L404.60 168.04L404.85 169.46L405.10 167.84L405.35 170.40L405.60 169.78L405.85 170.26L406.10 170.46L406.35 170.61L406.60 170.86L406.85 170.90L407.10 171.31L407.35 171.21L407.60 171.90L407.85 172.57L408.10 172.78L408.35 173.10L408.60 173.37L408.85 174.51L409.10 174.42L409.35 173.99L409.60 174.59L409.85 175.95L410.10 174.87L410.35 175.62L410.60 175.83L410.85 176.14L411.10 176.30L411.35 176.80L411.60 176.67L411.85 177.95L412.10 177.39L412.35 177.42L412.60 177.99L412.85 178.31L413.10 179.18L413.35 178.77L413.60 178.90L413.85 178.97L414.10 179.31L414.35 179.37L414.60 180.01L414.85 180.74L415.10 180.48L415.35 180.20L415.60 179.61L415.85 181.80L416.10 181.11L416.35 181.84L416.60 182.96L416.85 183.16L417.10 182.41L417.35 183.48L417.60 182.73L417.85 184.18L418.10 183.56L418.35 182.62L418.60 184.34L418.85 183.47L419.10 187.05L419.35 183.33L419.60 185.20L419.85 184.42L420.10 185.36L420.35 185.40L420.60 186.58L420.85 185.73L421.10 186.65L421.35 187.77L421.60 185.67L421.85 187.40L422.10 186.32L422.35 188.07L422.60 188.58L422.85 187.37L423.10 189.23L423.35 188.55L423.60 188.60L423.85 190.75L424.10 189.25L424.35 189.15L424.60 189.68L424.85 191.21L425.10 192.58L425.35 190.66L425.60 190.97L425.85 191.38L426.10 192.22L426.35 189.23L426.60 192.60L426.85 194.15L427.10 192.42L427.35 192.73L427.60 194.69L427.85 193.21L428.10 193.42L428.35 194.70L428.60 194.09L428.85 194.62L429.10 194.28L429.35 195.21L429.60 194.97L429.85 196.01L430.10 195.68L430.35 197.21L430.60 196.28L430.85 197.35L431.10 196.64L431.35 197.28L431.60 196.81L431.85 197.64L432.10 198.05L432.35 197.33L432.60 198.34L432.85 199.88L433.10 198.13L433.35 199.03L433.60 200.13L433.85 199.44L434.10 197.72L434.35 200.11L434.60 200.27L434.85 202.04L435.10 201.14L435.35 201.70L435.60 201.11L435.85 202.80L436.10 202.68L436.35 200.79L436.60 202.66L436.85 203.90L437.10 203.14L437.35 205.36L437.60 202.85L437.85 203.77L438.10 203.92L438.35 203.69L438.60 205.02L438.85 204.48L439.10 205.14L439.35 205.77L439.60 205.83L439.85 204.25L440.10 203.99L440.35 206.90L440.60 206.59L440.85 205.50L441.10 205.62L441.35 206.98L441.60 206.33L441.85 209.14L442.10 206.98L442.35 209.79L442.60 208.61L442.85 208.45L443.10 208.93L443.35 209.21L443.60 208.51L443.85 209.20L444.10 207.63L444.35 207.54L444.60 211.84L444.85 211.18L445.10 210.94L445.35 209.06L445.60 210.98L445.85 211.44L446.10 210.99L446.35 211.08L446.60 212.11L446.85 208.09L447.10 211.90L447.35 211.52L447.60 212.25L447.85 212.67L448.10 212.59L448.35 214.32L448.60 214.56L448.85 214.07L449.10 214.42L449.35 213.75L449.60 213.33L449.85 215.12L450.10 212.87L450.35 214.72L450.60 215.01L450.85 213.35L451.10 214.16L451.35 215.69L451.60 216.73L451.85 215.37L452.10 215.87L452.35 216.54L452.60 216.34L452.85 216.25L453.10 216.85L453.35 217.25L453.60 217.82L453.85 217.15L454.10 217.60L454.35 216.34L454.60 216.29L454.85 218.71L455.10 216.95L455.35 217.84L455.60 219.75L455.85 216.95L456.10 218.93L456.35 217.83L456.60 219.07L456.85 220.02L457.10 220.20L457.35 220.11L457.60 219.40L457.85 219.61L458.10 218.45L458.35 218.15L458.60 220.75L458.85 217.53L459.10 222.60L459.35 219.30L459.60 221.28L459.85 220.64L460.10 221.24L460.35 221.96L460.60 220.67L460.85 222.71L461.10 222.50L461.35 222.05L461.60 222.22L461.85 221.91L462.10 225.78L462.35 222.32L462.60 221.94L462.85 223.19L463.10 225.50L463.35 225.80L463.60 223.89L463.85 223.59L464.10 224.96L464.35 224.49L464.60 225.85L464.85 226.15L465.10 225.65L465.35 228.89L465.60 225.88L465.85 229.45L466.10 226.34L466.35 225.04L466.60 226.69L466.85 227.52L467.10 226.53L467.35 225.55L467.60 226.73L467.85 228.48L468.10 226.46L468.35 222.86L468.60 229.91L468.85 232.05L469.10 230.24L469.35 229.90L469.60 229.70L469.85 229.23L470.10 229.78L470.35 230.41L470.60 229.13L470.85 228.69L471.10 230.76L471.35 230.61L471.60 235.89L471.85 230.42L472.10 230.60L472.35 229.10L472.60 226.37L472.85 229.64L473.10 231.88L473.35 235.44L473.60 229.86L473.85 230.51L474.10 232.92L474.35 231.74L474.60 229.22L474.85 234.90L475.10 231.20L475.35 232.89L475.60 234.26L475.85 234.58L476.10 237.05L476.35 233.99L476.60 232.06L476.85 231.31L477.10 234.61L477.35 234.37L477.60 233.38L477.85 232.90L478.10 234.15L478.35 233.99L478.60 234.43L478.85 234.55L479.10 236.26L479.35 235.22L479.60 237.26L479.85 235.60L480.10 234.89L480.35 238.71L480.60 236.51L480.85 237.86L481.10 235.04L481.35 240.82L481.60 236.93L481.85 236.11L482.10 235.61L482.35 234.27L482.60 232.66L482.85 235.54L483.10 236.36L483.35 237.32L483.60 236.96L483.85 233.64L484.10 235.56L484.35 232.38L484.60 233.71L484.85 236.98L485.10 238.42L485.35 236.09L485.60 240.41L485.85 244.08L486.10 238.65L486.35 234.51L486.60 236.72L486.85 238.46L487.10 241.82L487.35 243.98L487.60 239.64L487.85 241.13" stroke="#ff8a14" stroke-width="1.25" fill="none" stroke-linejoin="round" />
</g>
<path d="M533.50 194.10L533.50 189.10M539.77 194.10L539.77 191.10M546.05 194.10L546.05 191.10M552.33 194.10L552.33 191.10M558.60 194.10L558.60 191.10M564.87 194.10L564.87 189.10M571.15 194.10L571.15 191.10M577.43 194.10L577.43 191.10M583.70 194.10L583.70 191.10M589.97 194.10L589.97 191.10M596.25 194.10L596.25 189.10M602.53 194.10L602.53 191.10M608.80 194.10L608.80 191.10M615.07 194.10L615.07 191.10M621.35 194.10L621.35 191.10M627.63 194.10L627.63 189.10M633.90 194.10L633.90 191.10M640.17 194.10L640.17 191.10M646.45 194.10L646.45 191.10M652.73 194.10L652.73 191.10M659.00 194.10L659.00 189.10M651.36 29.70L651.36 34.70M641.85 29.70L641.85 32.70M632.39 29.70L632.39 32.70M622.97 29.70L622.97 32.70M613.60 29.70L613.60 34.70M604.27 29.70L604.27 32.70M594.99 29.70L594.99 32.70M585.76 29.70L585.76 32.70M576.57 29.70L576.57 34.70M567.43 29.70L567.43 32.70M558.33 29.70L558.33 32.70M549.27 29.70L549.27 32.70M540.26 29.70L540.26 34.70" stroke="#000" stroke-width="1" fill="none"/>
<path d="M533.50 175.02L536.50 175.02M533.50 162.17L536.50 162.17M533.50 153.05L536.50 153.05M533.50 145.98L536.50 145.98M533.50 140.19L536.50 140.19M533.50 135.31L536.50 135.31M533.50 131.07L536.50 131.07M533.50 127.34L536.50 127.34M533.50 124.00L538.50 124.00M533.50 102.02L536.50 102.02M533.50 89.17L536.50 89.17M533.50 80.05L536.50 80.05M533.50 72.98L536.50 72.98M533.50 67.19L536.50 67.19M533.50 62.31L536.50 62.31M533.50 58.07L536.50 58.07M533.50 54.34L536.50 54.34M533.50 51.00L538.50 51.00" stroke="#000" stroke-width="1" fill="none"/>
<path d="M659.00 175.02L656.00 175.02M659.00 162.17L656.00 162.17M659.00 153.05L656.00 153.05M659.00 145.98L656.00 145.98M659.00 140.19L656.00 140.19M659.00 135.31L656.00 135.31M659.00 131.07L656.00 131.07M659.00 127.34L656.00 127.34M659.00 124.00L654.00 124.00M659.00 102.02L656.00 102.02M659.00 89.17L656.00 89.17M659.00 80.05L656.00 80.05M659.00 72.98L656.00 72.98M659.00 67.19L656.00 67.19M659.00 62.31L656.00 62.31M659.00 58.07L656.00 58.07M659.00 54.34L656.00 54.34M659.00 51.00L654.00 51.00" stroke="#000" stroke-width="1" fill="none"/>
<rect x="533.5" y="29.7" width="125.5" height="164.4" fill="none" stroke="#000" stroke-width="1.3"/>
<text x="511.00" y="14.00" font-size="17.5" fill="#000" text-anchor="start" textLength="18.5" lengthAdjust="spacingAndGlyphs" >(c)</text>
<text x="549.20" y="13.90" font-size="13.5" fill="#000" text-anchor="start" textLength="98" lengthAdjust="spacingAndGlyphs" >Wavelength (nm)</text>
<text x="539.96" y="26.30" font-size="10.5" fill="#000" text-anchor="middle" >208</text>
<text x="576.27" y="26.30" font-size="10.5" fill="#000" text-anchor="middle" >206</text>
<text x="613.30" y="26.30" font-size="10.5" fill="#000" text-anchor="middle" >204</text>
<text x="651.06" y="26.30" font-size="10.5" fill="#000" text-anchor="middle" >202</text>
<text x="533.50" y="206.50" font-size="10.8" fill="#000" text-anchor="middle" >5.95</text>
<text x="564.87" y="206.50" font-size="10.8" fill="#000" text-anchor="middle" >6.00</text>
<text x="596.25" y="206.50" font-size="10.8" fill="#000" text-anchor="middle" >6.05</text>
<text x="627.63" y="206.50" font-size="10.8" fill="#000" text-anchor="middle" >6.10</text>
<text x="659.00" y="206.50" font-size="10.8" fill="#000" text-anchor="middle" >6.15</text>
<text x="545.00" y="219.80" font-size="12.8" fill="#000" text-anchor="start" textLength="109.5" lengthAdjust="spacingAndGlyphs" >Photon energy (eV)</text>
<text x="525.30" y="162.60" font-size="12.8" fill="#000" text-anchor="start" textLength="103.5" lengthAdjust="spacingAndGlyphs" transform="rotate(-90 525.30 162.60)" >CL intensity (a. u.)</text>
<line x1="586.8" y1="35" x2="586.8" y2="185" stroke="#8a8a8a" stroke-width="1.1" stroke-dasharray="3 2"/>
<line x1="595.4" y1="35" x2="595.4" y2="185" stroke="#444" stroke-width="1.1" stroke-dasharray="3 2"/>
<line x1="615.0" y1="35" x2="615.0" y2="185" stroke="#444" stroke-width="1.1" stroke-dasharray="3 2"/>
<clipPath id="cc"><rect x="533.5" y="29.7" width="125.5" height="164.4"/></clipPath><g clip-path="url(#cc)">
<path d="M533.50 151.37L533.70 154.27L533.90 154.21L534.10 152.89L534.30 154.61L534.50 154.64L534.70 159.40L534.90 151.03L535.10 153.65L535.30 152.73L535.50 153.23L535.70 153.88L535.90 154.18L536.10 158.99L536.30 154.06L536.50 154.77L536.70 152.96L536.90 153.49L537.10 153.50L537.30 155.24L537.50 154.15L537.70 154.05L537.90 155.19L538.10 149.25L538.30 157.42L538.50 151.30L538.70 154.92L538.90 161.81L539.10 153.45L539.30 151.22L539.50 155.36L539.70 155.96L539.90 155.02L540.10 154.10L540.30 156.38L540.50 155.93L540.70 154.99L540.90 156.11L541.10 157.66L541.30 155.78L541.50 155.33L541.70 156.25L541.90 155.85L542.10 153.07L542.30 158.73L542.50 153.53L542.70 157.11L542.90 155.75L543.10 157.47L543.30 156.14L543.50 157.86L543.70 156.02L543.90 154.94L544.10 157.53L544.30 158.05L544.50 156.26L544.70 159.65L544.90 157.23L545.10 159.79L545.30 154.74L545.50 160.15L545.70 157.74L545.90 160.19L546.10 155.86L546.30 156.71L546.50 159.21L546.70 157.29L546.90 155.64L547.10 155.66L547.30 160.48L547.50 157.38L547.70 152.81L547.90 155.57L548.10 156.94L548.30 155.08L548.50 156.66L548.70 157.50L548.70 153.73L548.90 155.65L549.10 159.32L549.30 152.55L549.50 154.30L549.70 158.67L549.90 157.68L550.10 156.85L550.30 159.16L550.50 155.48L550.70 149.24L550.90 158.72L551.10 157.61L551.30 156.39L551.50 157.39L551.70 153.98L551.90 156.32L552.10 157.40L552.30 159.18L552.50 156.39L552.70 153.56L552.90 154.22L553.10 156.39L553.30 157.75L553.50 158.18L553.70 158.14L553.90 159.69L554.10 158.10L554.30 158.05L554.50 157.71L554.70 158.06L554.90 158.45L555.10 162.64L555.30 155.65L555.50 158.01L555.70 155.04L555.90 155.93L556.10 160.79L556.30 157.13L556.50 157.76L556.70 156.04L556.90 157.57L557.10 152.34L557.30 157.87L557.50 161.71L557.70 158.41L557.90 158.31L558.10 157.83L558.30 156.87L558.50 159.02L558.70 157.24L558.90 157.00L559.10 157.87L559.30 162.87L559.50 158.82L559.70 158.49L559.90 155.41L560.10 159.43L560.30 157.50L560.50 158.32L560.70 158.04L560.90 159.29L561.10 153.11L561.30 155.05L561.50 156.89L561.70 156.33L561.90 158.69L562.10 155.42L562.30 155.03L562.50 158.06L562.70 154.49L562.90 159.52L563.10 157.28L563.30 157.15L563.50 158.41L563.70 163.30L563.90 157.09L564.10 156.71L564.30 157.57L564.30 159.51L564.50 161.59L564.70 156.10L564.90 153.29L565.10 157.32L565.30 157.42L565.50 159.38L565.70 158.99L565.90 159.41L566.10 157.83L566.30 157.99L566.50 161.99L566.70 154.26L566.90 152.86L567.10 152.47L567.30 160.07L567.50 158.41L567.70 159.22L567.90 159.01L568.10 160.09L568.30 158.52L568.50 157.70L568.70 155.86L568.90 158.12L569.10 156.85L569.30 161.79L569.50 159.79L569.70 157.54L569.90 158.57L570.10 158.43L570.30 158.96L570.50 162.44L570.70 157.56L570.90 159.05L571.10 158.63L571.30 162.77L571.50 157.22L571.70 159.27L571.90 155.73L572.10 158.85L572.30 163.05L572.50 159.72L572.70 153.96L572.90 164.68L573.10 158.91L573.30 159.08L573.50 162.62L573.70 159.14L573.90 157.42L574.10 158.58L574.30 160.05L574.50 158.48L574.70 157.02L574.90 158.48L575.10 156.21L575.30 156.17L575.50 156.52L575.70 159.01L575.90 158.24L576.10 157.25L576.30 160.15L576.50 159.49L576.70 160.83L576.90 157.13L577.10 159.58L577.30 158.02L577.50 159.13L577.70 158.97L577.90 159.50L578.10 159.46L578.30 162.35L578.50 159.74L578.70 158.65L578.90 160.82L579.10 157.35L579.30 160.70L579.50 159.63L579.70 158.24L579.90 160.60L580.00 156.85L580.10 154.86L580.30 158.38L580.50 159.47L580.70 160.00L580.90 158.70L581.10 159.82L581.30 165.15L581.50 169.60L581.70 160.60L581.90 158.75L582.10 159.56L582.30 161.32L582.50 162.26L582.70 163.74L582.90 159.30L583.10 159.09L583.30 159.11L583.50 161.27L583.70 164.09L583.90 160.10L584.10 159.69L584.30 160.62L584.50 159.66L584.70 160.24L584.90 158.32L585.10 157.24L585.30 159.70L585.50 159.02L585.70 158.07L585.90 164.73L586.10 161.04L586.30 159.77L586.50 167.30L586.70 157.61L586.90 159.68L587.10 162.86L587.30 165.12L587.50 161.92L587.70 158.73L587.90 160.71L588.10 157.14L588.30 156.98L588.50 162.81L588.70 151.40L588.90 157.82L589.10 158.00L589.30 161.67L589.50 161.27L589.70 159.34L589.90 160.49L590.10 164.90L590.30 159.42L590.50 157.50L590.70 161.59L590.90 158.39L591.10 161.28L591.30 159.95L591.50 156.45L591.70 161.86L591.90 162.45L592.10 160.49L592.30 159.35L592.50 166.66L592.70 160.20L592.90 160.25L593.00 160.96L593.10 160.26L593.30 160.35L593.50 164.89L593.70 158.57L593.90 163.65L594.10 161.93L594.30 157.30L594.50 159.87L594.70 162.65L594.90 162.30L595.10 160.90L595.30 161.30L595.50 165.64L595.70 163.50L595.90 163.15L596.10 165.81L596.30 161.32L596.50 162.02L596.70 164.78L596.90 162.70L597.10 162.82L597.30 164.78L597.50 174.81L597.70 165.89L597.90 164.76L598.10 163.32L598.30 164.54L598.50 162.36L598.70 162.67L598.90 162.40L599.10 164.84L599.30 168.07L599.50 165.52L599.70 163.31L599.90 165.18L600.10 164.01L600.30 166.54L600.50 164.81L600.70 163.78L600.90 164.16L601.10 162.16L601.30 164.77L601.50 164.78L601.70 165.42L601.90 166.35L602.10 169.17L602.30 167.67L602.50 166.33L602.70 165.62L602.90 164.45L603.10 166.77L603.30 163.00L603.50 162.81L603.70 167.37L603.90 164.99L604.10 169.09L604.30 167.87L604.50 167.36L604.70 170.95L604.90 165.21L605.10 166.81L605.30 167.78L605.50 172.47L605.70 164.80L605.90 168.50L606.10 171.37L606.30 166.19L606.50 169.35L606.70 169.39L606.90 168.10L607.10 168.91L607.30 172.42L607.50 168.88L607.70 168.95L607.90 169.45L608.10 164.57L608.30 171.08L608.50 165.59L608.70 175.06L608.90 174.60L609.10 171.55L609.30 172.60L609.50 170.44L609.70 169.23L609.90 170.57L610.10 171.02L610.30 168.16L610.50 171.80L610.70 169.64L610.70 170.54L610.90 169.49L611.10 169.67L611.30 173.14L611.50 172.15L611.70 167.30L611.90 172.30L612.10 174.30L612.30 172.01L612.50 172.01L612.70 170.15L612.90 172.20L613.10 170.91L613.30 174.69L613.50 172.44L613.70 170.85L613.90 174.18L614.10 173.11L614.30 170.23L614.50 170.41L614.70 165.64L614.90 173.35L615.10 169.03L615.30 171.11L615.50 173.31L615.70 171.42L615.90 171.37L616.10 168.91L616.30 168.50L616.50 172.79L616.70 170.37L616.90 177.18L617.10 167.60L617.30 171.98L617.50 171.11L617.70 175.66L617.90 174.16L618.10 170.43L618.30 169.29L618.50 170.04L618.70 174.33L618.90 174.44L619.10 173.85L619.30 173.34L619.50 173.31L619.70 173.87L619.90 170.93L620.10 175.15L620.30 175.08L620.50 174.51L620.70 172.50L620.90 172.40L621.10 179.49L621.30 177.90L621.50 175.22L621.70 175.55L621.90 174.00L622.10 176.63L622.30 175.10L622.50 174.10L622.70 175.17L622.90 171.28L623.10 174.10L623.30 176.58L623.50 174.56L623.70 174.90L623.90 174.98L624.10 178.56L624.30 173.30L624.50 175.72L624.70 174.81L624.90 173.76L625.10 171.10L625.30 175.61L625.50 173.52L625.70 175.62L625.90 175.11L626.10 175.08L626.30 178.08L626.30 172.54L626.50 175.79L626.70 175.30L626.90 173.63L627.10 175.35L627.30 178.10L627.50 174.29L627.70 176.72L627.90 174.94L628.10 176.14L628.30 176.33L628.50 172.85L628.70 177.92L628.90 175.85L629.10 174.90L629.30 174.95L629.50 182.60L629.70 180.34L629.90 176.55L630.10 175.66L630.30 177.71L630.50 172.97L630.70 179.10L630.90 169.26L631.10 173.05L631.30 176.41L631.50 177.01L631.70 169.38L631.90 176.34L632.10 183.28L632.30 178.80L632.50 173.80L632.70 179.98L632.90 177.50L633.10 184.32L633.30 176.99L633.50 176.99L633.70 178.65L633.90 177.90L634.10 176.99L634.30 178.16L634.50 178.69L634.70 177.39L634.90 180.07L635.10 179.52L635.30 179.61L635.50 179.13L635.70 177.18L635.90 179.50L636.10 176.84L636.30 176.54L636.50 178.79L636.70 177.01L636.90 176.55L637.10 179.32L637.30 184.23L637.50 175.31L637.70 178.96L637.90 176.27L638.10 179.43L638.30 179.63L638.50 179.38L638.70 175.08L638.90 180.42L639.10 179.63L639.30 179.94L639.50 180.43L639.70 182.67L639.90 179.61L640.10 182.93L640.30 178.17L640.50 179.87L640.70 178.31L640.90 179.65L641.10 183.06L641.30 185.46L641.50 180.25L641.70 179.39L641.90 179.71L642.00 183.31L642.10 180.30L642.30 179.00L642.50 182.57L642.70 180.75L642.90 180.50L643.10 183.67L643.30 182.07L643.50 174.82L643.70 185.68L643.90 180.91L644.10 179.38L644.30 184.16L644.50 180.96L644.70 182.12L644.90 182.58L645.10 179.81L645.30 187.39L645.50 181.79L645.70 177.88L645.90 181.81L646.10 176.05L646.30 187.29L646.50 182.56L646.70 181.45L646.90 183.56L647.10 183.57L647.30 182.99L647.50 180.86L647.70 179.32L647.90 184.43L648.10 184.93L648.30 181.76L648.50 182.02L648.70 182.15L648.90 181.56L649.10 186.25L649.30 182.81L649.50 183.69L649.70 183.22L649.90 179.91L650.10 179.60L650.30 180.89L650.50 183.04L650.70 183.62L650.90 191.41L651.10 186.02L651.30 184.41L651.50 182.89L651.70 182.76L651.90 184.33L652.10 182.88L652.30 184.89L652.50 184.69L652.70 181.23L652.90 185.37L653.10 180.92L653.30 183.09L653.50 189.10L653.70 184.61L653.90 186.20L654.10 187.42L654.30 183.06L654.50 185.76L654.70 183.77L654.90 180.81L655.10 181.73L655.30 182.07L655.50 185.03L655.70 185.14L655.90 186.67L656.10 183.77L656.30 186.02L656.50 183.71L656.70 184.04L656.90 185.55L657.10 184.54L657.30 194.57L657.50 184.29L657.70 183.85L657.90 187.64L658.10 187.61L658.30 183.37L658.50 184.68L658.70 185.45L658.90 181.99L659.00 184.98" stroke="#8a1fa0" stroke-width="1.35" fill="none" stroke-linejoin="round" />
<path d="M533.50 134.76L533.70 134.78L533.90 131.10L534.10 132.47L534.30 132.27L534.50 134.34L534.70 131.01L534.90 140.24L535.10 130.84L535.30 133.72L535.50 134.62L535.70 137.93L535.90 134.20L536.10 136.08L536.30 133.90L536.50 132.29L536.70 133.53L536.90 134.34L537.10 134.04L537.30 135.52L537.50 134.15L537.70 133.53L537.90 134.12L538.10 134.17L538.30 126.79L538.50 133.37L538.70 134.49L538.90 135.27L539.10 133.97L539.30 135.57L539.50 134.35L539.70 133.80L539.90 133.05L540.10 136.13L540.30 137.96L540.50 135.66L540.70 133.00L540.90 135.57L541.10 134.63L541.30 138.19L541.50 126.39L541.70 136.19L541.90 134.61L542.10 137.11L542.30 135.26L542.50 127.00L542.70 135.79L542.90 135.04L543.10 133.57L543.30 132.34L543.50 134.59L543.70 135.30L543.90 135.00L544.10 128.78L544.30 132.87L544.50 136.03L544.70 135.40L544.90 136.50L545.10 134.94L545.30 134.08L545.50 137.06L545.70 133.84L545.90 131.47L546.10 134.89L546.30 135.30L546.50 133.89L546.70 140.10L546.90 134.15L547.10 132.98L547.30 136.39L547.50 133.35L547.70 134.64L547.90 135.41L548.10 134.67L548.30 136.52L548.50 133.48L548.70 136.54L548.70 133.16L548.90 136.26L549.10 141.89L549.30 137.60L549.50 140.22L549.70 136.25L549.90 133.95L550.10 135.58L550.30 137.69L550.50 133.72L550.70 137.00L550.90 135.46L551.10 139.70L551.30 135.69L551.50 135.57L551.70 135.29L551.90 136.62L552.10 140.92L552.30 136.70L552.50 137.81L552.70 136.69L552.90 133.28L553.10 137.04L553.30 137.12L553.50 137.16L553.70 135.83L553.90 135.66L554.10 136.09L554.30 131.69L554.50 134.82L554.70 135.94L554.90 137.07L555.10 140.31L555.30 138.06L555.50 137.19L555.70 138.23L555.90 136.98L556.10 132.82L556.30 138.15L556.50 138.31L556.70 138.05L556.90 139.67L557.10 138.97L557.30 139.47L557.50 133.02L557.70 152.81L557.90 137.93L558.10 137.98L558.30 138.11L558.50 136.51L558.70 136.76L558.90 140.36L559.10 138.19L559.30 142.56L559.50 136.19L559.70 138.21L559.90 138.31L560.10 133.05L560.30 138.50L560.50 137.50L560.70 137.74L560.90 136.19L561.10 138.47L561.30 138.91L561.50 141.01L561.70 140.33L561.90 144.25L562.10 143.90L562.30 139.21L562.50 137.20L562.70 138.46L562.90 134.98L563.10 138.62L563.30 137.46L563.50 138.55L563.70 139.73L563.90 134.50L564.10 141.09L564.30 133.66L564.30 138.46L564.50 136.97L564.70 133.76L564.90 138.49L565.10 137.37L565.30 135.17L565.50 140.59L565.70 137.31L565.90 142.59L566.10 139.15L566.30 138.07L566.50 134.77L566.70 141.07L566.90 135.91L567.10 140.29L567.30 138.91L567.50 138.65L567.70 135.42L567.90 138.53L568.10 132.48L568.30 140.29L568.50 139.91L568.70 136.48L568.90 138.98L569.10 137.02L569.30 140.01L569.50 137.17L569.70 137.02L569.90 137.97L570.10 144.42L570.30 140.96L570.50 138.67L570.70 140.76L570.90 138.50L571.10 137.28L571.30 142.10L571.50 134.25L571.70 140.82L571.90 143.91L572.10 135.86L572.30 141.59L572.50 140.77L572.70 134.61L572.90 139.04L573.10 138.05L573.30 138.79L573.50 138.80L573.70 138.87L573.90 131.95L574.10 138.20L574.30 138.34L574.50 140.04L574.70 140.32L574.90 140.71L575.10 140.02L575.30 142.34L575.50 139.67L575.70 138.59L575.90 134.75L576.10 140.63L576.30 139.76L576.50 137.43L576.70 139.58L576.90 143.67L577.10 140.01L577.30 138.68L577.50 141.38L577.70 139.17L577.90 133.05L578.10 136.20L578.30 144.47L578.50 136.54L578.70 141.26L578.90 134.48L579.10 139.42L579.30 138.67L579.50 139.06L579.70 136.58L579.90 139.38L580.00 141.17L580.10 139.90L580.30 137.33L580.50 141.61L580.70 142.40L580.90 139.70L581.10 139.27L581.30 133.65L581.50 136.25L581.70 139.40L581.90 137.17L582.10 145.21L582.30 140.62L582.50 139.11L582.70 140.36L582.90 137.98L583.10 143.41L583.30 140.05L583.50 141.02L583.70 138.18L583.90 139.99L584.10 141.15L584.30 139.64L584.50 136.31L584.70 140.03L584.90 142.12L585.10 140.03L585.30 146.20L585.50 140.44L585.70 142.93L585.90 135.11L586.10 140.81L586.30 140.30L586.50 139.64L586.70 143.34L586.90 137.12L587.10 140.26L587.30 139.41L587.50 145.08L587.70 141.91L587.90 138.66L588.10 137.83L588.30 134.69L588.50 138.50L588.70 144.09L588.90 143.02L589.10 142.18L589.30 140.06L589.50 140.43L589.70 140.82L589.90 142.35L590.10 131.61L590.30 138.66L590.50 140.92L590.70 138.23L590.90 144.54L591.10 136.11L591.30 146.18L591.50 139.09L591.70 138.92L591.90 140.41L592.10 141.35L592.30 146.76L592.50 140.69L592.70 143.79L592.90 143.68L593.10 147.36L593.30 140.26L593.50 140.80L593.70 135.04L593.90 140.46L594.10 140.33L594.30 138.40L594.50 143.08L594.70 139.97L594.90 138.57L595.00 138.35L595.10 135.46L595.30 142.48L595.50 141.30L595.70 141.31L595.90 140.90L596.10 146.22L596.30 140.82L596.50 141.29L596.70 142.33L596.90 145.15L597.10 143.91L597.30 144.30L597.50 139.77L597.70 145.84L597.90 143.73L598.10 141.06L598.30 143.67L598.50 146.40L598.70 143.29L598.90 143.33L599.10 144.31L599.30 144.92L599.50 143.89L599.70 138.93L599.90 140.86L600.10 139.91L600.30 142.53L600.50 138.93L600.70 143.03L600.90 146.45L601.10 149.18L601.30 138.23L601.50 144.03L601.70 140.92L601.90 145.78L602.10 138.25L602.30 140.59L602.50 142.83L602.70 135.20L602.90 144.57L603.10 142.26L603.30 145.11L603.50 148.42L603.70 144.11L603.90 144.21L604.10 153.70L604.30 143.65L604.50 147.39L604.70 145.76L604.90 137.30L605.10 143.95L605.30 146.12L605.50 140.61L605.70 147.58L605.90 148.59L606.10 146.80L606.30 147.35L606.50 146.03L606.70 147.53L606.90 145.70L607.10 145.55L607.30 147.00L607.50 145.99L607.70 145.33L607.90 145.13L608.10 146.17L608.30 146.01L608.50 147.94L608.70 148.28L608.90 148.50L609.10 149.09L609.30 146.38L609.50 146.51L609.70 149.28L609.90 145.34L610.10 148.31L610.30 147.53L610.50 148.27L610.70 148.54L610.70 148.37L610.90 146.27L611.10 142.04L611.30 152.27L611.50 150.91L611.70 148.04L611.90 148.84L612.10 145.01L612.30 148.12L612.50 148.74L612.70 149.42L612.90 147.01L613.10 145.48L613.30 153.52L613.50 151.06L613.70 146.98L613.90 150.94L614.10 150.93L614.30 147.28L614.50 151.04L614.70 148.86L614.90 148.70L615.10 147.42L615.30 150.02L615.50 150.21L615.70 149.87L615.90 146.90L616.10 151.69L616.30 149.24L616.50 149.00L616.70 150.91L616.90 148.51L617.10 153.69L617.30 151.22L617.50 152.27L617.70 150.02L617.90 150.54L618.10 149.64L618.30 149.72L618.50 150.76L618.70 152.80L618.90 151.30L619.10 153.43L619.30 148.65L619.50 150.53L619.70 146.74L619.90 155.02L620.10 147.93L620.30 152.07L620.50 152.79L620.70 150.40L620.90 158.20L621.10 158.35L621.30 150.94L621.50 150.02L621.70 153.17L621.90 152.64L622.10 153.10L622.30 153.25L622.50 157.39L622.70 154.35L622.90 152.11L623.10 154.35L623.30 152.94L623.50 158.87L623.70 153.21L623.90 146.21L624.10 156.81L624.30 152.41L624.50 155.52L624.70 154.14L624.90 154.99L625.10 155.02L625.30 157.00L625.50 156.00L625.70 154.65L625.90 153.27L626.10 154.11L626.30 153.10L626.30 153.46L626.50 154.11L626.70 154.01L626.90 153.36L627.10 153.52L627.30 153.62L627.50 152.77L627.70 154.96L627.90 151.52L628.10 153.43L628.30 152.78L628.50 155.85L628.70 153.82L628.90 151.94L629.10 156.95L629.30 154.83L629.50 156.89L629.70 154.35L629.90 154.55L630.10 155.53L630.30 151.65L630.50 161.16L630.70 152.97L630.90 158.78L631.10 156.27L631.30 157.01L631.50 154.03L631.70 158.58L631.90 155.89L632.10 155.45L632.30 154.06L632.50 153.89L632.70 158.37L632.90 161.25L633.10 155.71L633.30 157.21L633.50 157.09L633.70 156.17L633.90 156.16L634.10 156.50L634.30 155.64L634.50 157.64L634.70 156.09L634.90 156.49L635.10 154.62L635.30 162.23L635.50 153.12L635.70 157.72L635.90 157.43L636.10 156.05L636.30 162.53L636.50 151.93L636.70 155.75L636.90 156.19L637.10 157.60L637.30 157.39L637.50 158.10L637.70 159.50L637.90 151.06L638.10 157.44L638.30 156.83L638.50 158.18L638.70 157.44L638.90 156.70L639.10 149.39L639.30 156.58L639.50 157.30L639.70 156.82L639.90 157.09L640.10 158.33L640.30 156.95L640.50 160.02L640.70 157.19L640.90 157.58L641.10 157.62L641.30 161.01L641.50 158.42L641.70 163.00L641.90 149.23L642.00 162.64L642.10 156.36L642.30 161.14L642.50 153.66L642.70 160.60L642.90 158.89L643.10 159.23L643.30 157.95L643.50 157.98L643.70 156.33L643.90 156.17L644.10 159.13L644.30 157.93L644.50 153.34L644.70 156.71L644.90 156.77L645.10 157.05L645.30 158.70L645.50 162.15L645.70 159.31L645.90 160.25L646.10 156.15L646.30 160.03L646.50 161.62L646.70 167.75L646.90 160.29L647.10 159.76L647.30 164.19L647.50 156.86L647.70 161.10L647.90 160.57L648.10 160.67L648.30 158.94L648.50 156.18L648.70 157.31L648.90 160.54L649.10 158.88L649.30 164.10L649.50 157.21L649.70 161.76L649.90 159.87L650.10 159.00L650.30 158.78L650.50 159.44L650.70 159.56L650.90 158.69L651.10 158.68L651.30 165.62L651.50 160.00L651.70 160.89L651.90 161.39L652.10 159.69L652.30 164.33L652.50 159.55L652.70 158.80L652.90 156.10L653.10 159.48L653.30 156.80L653.50 161.33L653.70 161.13L653.90 155.05L654.10 165.23L654.30 162.10L654.50 161.20L654.70 165.18L654.90 161.20L655.10 159.18L655.30 162.72L655.50 165.75L655.70 157.29L655.90 161.33L656.10 159.87L656.30 164.50L656.50 158.35L656.70 163.27L656.90 159.87L657.10 162.20L657.30 162.53L657.50 163.05L657.70 157.51L657.90 161.69L658.10 159.21L658.30 159.27L658.50 159.78L658.70 159.65L658.90 165.80L659.00 162.24" stroke="#168a16" stroke-width="1.35" fill="none" stroke-linejoin="round" />
<path d="M533.50 108.43L533.70 109.75L533.90 105.35L534.10 108.13L534.30 110.43L534.50 110.85L534.70 110.39L534.90 116.92L535.10 116.36L535.30 112.13L535.50 109.76L535.70 111.38L535.90 108.52L536.10 112.59L536.30 108.50L536.50 118.05L536.70 102.69L536.90 111.81L537.10 110.01L537.30 112.05L537.50 110.12L537.70 112.27L537.90 111.15L538.10 110.74L538.30 114.81L538.50 107.18L538.70 114.00L538.90 110.23L539.10 111.24L539.30 111.00L539.50 109.69L539.70 110.31L539.90 116.11L540.10 110.19L540.30 113.88L540.50 102.00L540.70 110.61L540.90 111.27L541.10 109.85L541.30 106.66L541.50 112.13L541.70 111.80L541.90 109.85L542.10 107.10L542.30 112.73L542.50 112.08L542.70 112.71L542.90 112.54L543.10 109.21L543.30 111.11L543.50 110.40L543.70 110.07L543.90 110.19L544.10 111.47L544.30 121.93L544.50 110.53L544.70 110.04L544.90 111.29L545.10 111.31L545.30 110.31L545.50 111.45L545.70 111.53L545.90 112.17L546.10 108.59L546.30 111.57L546.50 110.49L546.70 113.76L546.90 111.45L547.10 112.89L547.30 112.91L547.50 109.24L547.70 107.22L547.90 112.49L548.10 106.58L548.30 115.64L548.50 112.05L548.70 110.76L548.70 111.94L548.90 108.43L549.10 111.80L549.30 114.89L549.50 94.32L549.70 115.45L549.90 110.29L550.10 110.81L550.30 115.58L550.50 113.16L550.70 110.83L550.90 117.87L551.10 105.90L551.30 112.24L551.50 111.53L551.70 114.54L551.90 104.90L552.10 110.69L552.30 111.53L552.50 107.77L552.70 112.39L552.90 114.13L553.10 115.15L553.30 109.28L553.50 111.86L553.70 118.97L553.90 107.97L554.10 113.01L554.30 110.85L554.50 115.46L554.70 112.55L554.90 115.28L555.10 107.49L555.30 112.65L555.50 111.86L555.70 109.14L555.90 111.88L556.10 113.66L556.30 112.73L556.50 112.83L556.70 111.27L556.90 112.52L557.10 112.29L557.30 116.03L557.50 115.45L557.70 112.37L557.90 112.69L558.10 111.63L558.30 113.04L558.50 110.07L558.70 118.25L558.90 112.48L559.10 104.79L559.30 111.88L559.50 117.59L559.70 112.04L559.90 112.52L560.10 119.13L560.30 114.82L560.50 112.49L560.70 110.94L560.90 112.72L561.10 112.66L561.30 116.44L561.50 113.48L561.70 117.19L561.90 120.64L562.10 116.13L562.30 113.02L562.50 112.97L562.70 113.70L562.90 114.42L563.10 115.97L563.30 115.62L563.50 112.66L563.70 114.92L563.90 113.08L564.10 115.31L564.30 106.36L564.30 116.12L564.50 114.74L564.70 111.26L564.90 112.36L565.10 112.83L565.30 113.86L565.50 117.20L565.70 119.58L565.90 114.33L566.10 110.80L566.30 120.26L566.50 119.06L566.70 110.42L566.90 114.77L567.10 114.79L567.30 114.78L567.50 115.22L567.70 104.75L567.90 113.06L568.10 113.26L568.30 114.79L568.50 110.73L568.70 112.90L568.90 112.00L569.10 109.36L569.30 114.04L569.50 112.35L569.70 114.10L569.90 112.40L570.10 115.98L570.30 111.18L570.50 115.82L570.70 115.02L570.90 111.93L571.10 113.71L571.30 113.75L571.50 114.11L571.70 115.19L571.90 107.22L572.10 112.11L572.30 115.38L572.50 110.97L572.70 116.75L572.90 113.79L573.10 109.10L573.30 115.99L573.50 113.00L573.70 126.25L573.90 118.25L574.10 117.47L574.30 117.46L574.50 110.63L574.70 108.60L574.90 114.10L575.10 114.21L575.30 114.17L575.50 115.02L575.70 116.30L575.90 116.36L576.10 118.62L576.30 115.53L576.50 117.51L576.70 111.24L576.90 108.71L577.10 114.51L577.30 117.67L577.50 114.23L577.70 111.72L577.90 112.00L578.10 113.22L578.30 117.46L578.50 114.04L578.70 117.43L578.90 119.25L579.10 116.52L579.30 118.72L579.50 113.58L579.70 113.06L579.90 113.52L580.00 108.26L580.10 119.02L580.30 113.24L580.50 115.67L580.70 113.94L580.90 115.27L581.10 114.85L581.30 116.33L581.50 113.32L581.70 114.08L581.90 112.62L582.10 114.37L582.30 117.49L582.50 120.59L582.70 108.23L582.90 117.71L583.10 116.64L583.30 111.66L583.50 113.11L583.70 118.09L583.90 113.55L584.10 118.92L584.30 115.68L584.50 122.56L584.70 115.59L584.90 112.88L585.10 116.11L585.30 115.42L585.50 111.72L585.70 117.76L585.90 118.98L586.10 121.09L586.30 116.48L586.50 116.19L586.70 113.95L586.90 121.22L587.10 117.20L587.30 116.78L587.50 116.97L587.70 118.34L587.90 115.28L588.10 113.04L588.30 124.29L588.50 110.54L588.70 114.94L588.90 116.17L589.10 111.14L589.30 115.31L589.50 119.05L589.70 116.93L589.90 116.76L590.10 109.72L590.30 116.14L590.50 113.64L590.70 116.02L590.90 116.07L591.10 116.28L591.30 115.73L591.50 118.37L591.70 116.58L591.90 120.21L592.10 116.06L592.30 114.34L592.50 116.21L592.70 119.70L592.90 116.32L593.10 119.12L593.30 118.07L593.50 115.80L593.70 115.23L593.90 114.21L594.10 117.06L594.30 118.32L594.50 116.30L594.70 122.28L594.90 110.27L595.00 119.21L595.10 115.34L595.30 128.75L595.50 114.35L595.70 121.44L595.90 117.32L596.10 116.71L596.30 112.83L596.50 116.31L596.70 117.52L596.90 122.30L597.10 123.77L597.30 114.59L597.50 118.67L597.70 112.96L597.90 115.40L598.10 119.22L598.30 118.90L598.50 122.15L598.70 122.33L598.90 116.78L599.10 119.84L599.30 121.24L599.50 121.02L599.70 119.83L599.90 119.71L600.10 120.09L600.30 119.51L600.50 120.30L600.70 123.24L600.90 119.53L601.10 120.13L601.30 120.25L601.50 123.32L601.70 119.33L601.90 120.64L602.10 122.45L602.30 120.67L602.50 123.81L602.70 121.59L602.90 118.29L603.10 121.07L603.30 119.35L603.50 121.71L603.70 121.47L603.90 121.46L604.10 124.56L604.30 125.72L604.50 124.11L604.70 124.33L604.90 126.05L605.10 126.72L605.30 121.07L605.50 126.54L605.70 121.18L605.90 122.37L606.10 125.51L606.30 121.34L606.50 129.37L606.70 128.17L606.90 106.72L607.10 125.05L607.30 128.39L607.50 124.83L607.70 124.94L607.90 125.30L608.10 125.26L608.30 125.52L608.50 126.19L608.70 130.33L608.90 121.87L609.10 124.10L609.30 116.71L609.50 121.79L609.70 124.14L609.90 129.39L610.10 125.26L610.30 126.76L610.50 125.45L610.70 134.02L610.70 124.57L610.90 126.12L611.10 126.09L611.30 125.08L611.50 123.02L611.70 126.50L611.90 125.26L612.10 121.00L612.30 130.28L612.50 126.63L612.70 119.86L612.90 128.12L613.10 127.59L613.30 128.75L613.50 127.22L613.70 125.40L613.90 128.74L614.10 127.71L614.30 131.11L614.50 127.51L614.70 126.83L614.90 126.56L615.10 127.30L615.30 127.26L615.50 128.94L615.70 128.35L615.90 134.70L616.10 127.32L616.30 133.54L616.50 128.52L616.70 129.35L616.90 134.59L617.10 131.27L617.30 134.23L617.50 129.96L617.70 128.97L617.90 130.85L618.10 131.00L618.30 125.12L618.50 127.13L618.70 134.86L618.90 131.61L619.10 132.62L619.30 128.62L619.50 136.72L619.70 129.75L619.90 128.29L620.10 130.28L620.30 130.33L620.50 126.77L620.70 133.60L620.90 134.02L621.10 129.50L621.30 131.68L621.50 134.28L621.70 131.06L621.90 131.74L622.10 130.33L622.30 131.73L622.50 130.99L622.70 134.14L622.90 129.78L623.10 126.67L623.30 135.53L623.50 130.17L623.70 132.61L623.90 133.57L624.10 131.69L624.30 136.58L624.50 131.90L624.70 130.88L624.90 128.71L625.10 136.16L625.30 131.27L625.50 136.25L625.70 132.92L625.90 137.24L626.10 129.69L626.30 135.81L626.30 139.75L626.50 134.47L626.70 130.75L626.90 144.24L627.10 135.42L627.30 131.86L627.50 139.40L627.70 130.17L627.90 131.06L628.10 126.75L628.30 134.33L628.50 133.54L628.70 130.46L628.90 134.06L629.10 137.05L629.30 130.78L629.50 134.92L629.70 132.12L629.90 134.42L630.10 133.67L630.30 133.28L630.50 127.03L630.70 134.95L630.90 134.41L631.10 135.69L631.30 132.75L631.50 141.74L631.70 128.33L631.90 133.03L632.10 135.65L632.30 132.36L632.50 133.76L632.70 135.14L632.90 136.64L633.10 137.88L633.30 134.36L633.50 136.10L633.70 129.16L633.90 138.51L634.10 136.34L634.30 138.84L634.50 133.83L634.70 135.62L634.90 137.03L635.10 129.68L635.30 138.10L635.50 136.91L635.70 137.61L635.90 133.64L636.10 137.60L636.30 136.30L636.50 133.62L636.70 133.40L636.90 138.69L637.10 135.73L637.30 135.00L637.50 135.66L637.70 137.26L637.90 133.74L638.10 134.13L638.30 137.17L638.50 139.64L638.70 137.39L638.90 141.05L639.10 135.47L639.30 135.96L639.50 136.11L639.70 136.07L639.90 135.53L640.10 138.61L640.30 135.72L640.50 136.54L640.70 136.83L640.90 146.90L641.10 136.18L641.30 138.04L641.50 136.25L641.70 139.00L641.90 136.67L642.00 130.83L642.10 137.31L642.30 136.46L642.50 136.01L642.70 136.25L642.90 126.13L643.10 138.66L643.30 137.65L643.50 138.13L643.70 137.82L643.90 137.01L644.10 137.42L644.30 137.53L644.50 141.31L644.70 136.97L644.90 135.33L645.10 134.16L645.30 137.01L645.50 138.16L645.70 138.25L645.90 139.15L646.10 138.73L646.30 134.36L646.50 137.52L646.70 137.45L646.90 135.08L647.10 138.52L647.30 139.77L647.50 133.22L647.70 138.35L647.90 135.36L648.10 139.92L648.30 138.58L648.50 134.26L648.70 138.46L648.90 136.95L649.10 136.68L649.30 139.32L649.50 138.10L649.70 142.49L649.90 142.21L650.10 141.10L650.30 138.25L650.50 142.04L650.70 134.79L650.90 140.37L651.10 138.11L651.30 141.47L651.50 133.12L651.70 139.20L651.90 134.90L652.10 137.86L652.30 139.24L652.50 136.39L652.70 140.01L652.90 139.10L653.10 137.44L653.30 139.26L653.50 138.90L653.70 133.69L653.90 140.28L654.10 140.35L654.30 142.71L654.50 143.61L654.70 138.68L654.90 140.00L655.10 139.84L655.30 134.80L655.50 140.60L655.70 138.19L655.90 139.12L656.10 140.03L656.30 139.51L656.50 138.35L656.70 142.32L656.90 136.18L657.10 140.06L657.30 137.60L657.50 143.47L657.70 143.84L657.90 140.81L658.10 142.67L658.30 141.27L658.50 140.49L658.70 141.15L658.90 143.28L659.00 138.11" stroke="#000" stroke-width="1.35" fill="none" stroke-linejoin="round" />
<path d="M533.50 93.52L533.70 91.10L533.90 92.56L534.10 92.14L534.30 93.23L534.50 93.29L534.70 95.30L534.90 94.60L535.10 89.87L535.30 91.38L535.50 89.39L535.70 93.87L535.90 92.54L536.10 97.63L536.30 91.91L536.50 96.88L536.70 94.34L536.90 94.42L537.10 93.70L537.30 95.58L537.50 92.29L537.70 95.47L537.90 95.66L538.10 93.91L538.30 94.17L538.50 92.46L538.70 93.64L538.90 94.00L539.10 93.06L539.30 90.09L539.50 97.28L539.70 95.29L539.90 93.44L540.10 94.06L540.30 94.30L540.50 97.75L540.70 94.26L540.90 95.01L541.10 95.56L541.30 91.79L541.50 94.51L541.70 97.23L541.90 95.89L542.10 97.15L542.30 92.72L542.50 95.66L542.70 93.61L542.90 96.62L543.10 95.83L543.30 94.18L543.50 94.91L543.70 94.59L543.90 97.94L544.10 94.94L544.30 92.02L544.50 94.96L544.70 90.00L544.90 92.98L545.10 94.95L545.30 94.89L545.50 92.08L545.70 94.52L545.90 94.30L546.10 94.34L546.30 95.03L546.50 91.25L546.70 91.20L546.90 94.20L547.10 96.23L547.30 98.52L547.50 96.53L547.70 92.69L547.90 97.11L548.10 97.11L548.30 97.37L548.50 96.57L548.70 94.72L548.70 95.68L548.90 95.55L549.10 91.78L549.30 95.95L549.50 94.91L549.70 99.43L549.90 96.55L550.10 97.43L550.30 91.92L550.50 96.89L550.70 97.50L550.90 96.02L551.10 95.16L551.30 96.19L551.50 96.42L551.70 96.09L551.90 95.67L552.10 97.00L552.30 98.72L552.50 95.54L552.70 98.68L552.90 93.24L553.10 97.30L553.30 96.07L553.50 96.75L553.70 96.20L553.90 94.01L554.10 95.14L554.30 102.30L554.50 96.60L554.70 100.37L554.90 97.01L555.10 99.39L555.30 96.86L555.50 103.15L555.70 97.05L555.90 96.17L556.10 95.63L556.30 94.33L556.50 95.00L556.70 98.00L556.90 96.87L557.10 99.46L557.30 96.05L557.50 100.51L557.70 96.07L557.90 96.63L558.10 97.02L558.30 96.67L558.50 97.40L558.70 99.11L558.90 94.83L559.10 96.72L559.30 94.47L559.50 99.07L559.70 95.77L559.90 97.98L560.10 99.99L560.30 97.34L560.50 95.87L560.70 97.16L560.90 101.32L561.10 95.70L561.30 100.18L561.50 96.13L561.70 96.63L561.90 99.52L562.10 98.87L562.30 97.75L562.50 99.23L562.70 96.67L562.90 100.69L563.10 98.82L563.30 101.95L563.50 98.97L563.70 98.92L563.90 100.61L564.10 99.03L564.30 96.17L564.30 99.18L564.50 98.04L564.70 99.36L564.90 107.26L565.10 99.33L565.30 100.65L565.50 98.52L565.70 93.45L565.90 95.57L566.10 94.21L566.30 97.97L566.50 98.33L566.70 98.64L566.90 99.90L567.10 100.42L567.30 100.59L567.50 100.53L567.70 101.39L567.90 100.45L568.10 99.49L568.30 99.38L568.50 97.00L568.70 94.33L568.90 101.69L569.10 98.04L569.30 101.86L569.50 99.62L569.70 96.82L569.90 101.66L570.10 100.94L570.30 108.19L570.50 100.32L570.70 103.19L570.90 100.30L571.10 99.36L571.30 100.05L571.50 101.00L571.70 102.74L571.90 102.01L572.10 103.52L572.30 100.72L572.50 100.52L572.70 100.77L572.90 103.75L573.10 100.31L573.30 97.64L573.50 100.49L573.70 101.43L573.90 102.58L574.10 104.23L574.30 101.71L574.50 102.52L574.70 102.55L574.90 102.56L575.10 101.48L575.30 104.49L575.50 103.51L575.70 94.99L575.90 99.15L576.10 107.56L576.30 101.94L576.50 99.45L576.70 103.97L576.90 98.82L577.10 101.55L577.30 101.07L577.50 100.65L577.70 100.39L577.90 98.88L578.10 101.10L578.30 99.13L578.50 101.98L578.70 100.90L578.90 102.72L579.10 104.70L579.30 103.82L579.50 102.57L579.70 102.83L579.90 99.06L580.00 105.94L580.10 101.85L580.30 101.73L580.50 102.22L580.70 100.09L580.90 101.44L581.10 99.39L581.30 104.19L581.50 101.42L581.70 99.39L581.90 105.54L582.10 101.54L582.30 102.28L582.50 102.55L582.70 101.83L582.90 100.83L583.10 100.07L583.30 97.45L583.50 101.21L583.70 98.43L583.90 100.16L584.10 102.80L584.30 102.92L584.50 101.91L584.70 98.85L584.90 103.40L585.10 98.19L585.30 102.72L585.50 100.95L585.70 104.09L585.90 104.92L586.10 99.73L586.30 98.86L586.50 102.20L586.70 98.70L586.90 98.71L587.10 99.46L587.30 97.27L587.50 98.95L587.70 97.08L587.90 98.80L588.10 101.42L588.30 101.58L588.50 102.50L588.70 99.62L588.90 99.69L589.10 98.40L589.30 100.93L589.50 96.59L589.70 96.89L589.90 96.36L590.10 98.20L590.30 95.32L590.40 99.29L590.50 96.99L590.70 99.22L590.90 98.73L591.10 99.28L591.30 99.36L591.50 99.90L591.70 98.61L591.90 98.95L592.10 97.75L592.30 98.85L592.50 96.34L592.70 102.59L592.90 102.01L593.10 96.29L593.30 93.50L593.50 98.99L593.70 99.52L593.90 99.48L594.10 99.05L594.30 100.17L594.50 99.52L594.70 99.65L594.90 95.97L595.10 100.49L595.30 97.60L595.50 102.30L595.70 100.45L595.90 100.12L596.10 101.33L596.30 103.06L596.50 99.33L596.70 100.74L596.90 105.59L597.10 103.23L597.30 101.01L597.50 100.99L597.70 103.07L597.90 98.99L598.00 99.54L598.10 101.97L598.30 102.05L598.50 102.14L598.70 103.13L598.90 104.24L599.10 101.84L599.30 101.61L599.50 104.15L599.70 101.36L599.90 104.60L600.10 103.40L600.30 104.46L600.50 103.26L600.70 100.54L600.90 103.79L601.10 103.02L601.30 101.62L601.50 100.83L601.70 102.33L601.90 101.31L602.10 101.51L602.30 105.30L602.50 107.12L602.70 110.58L602.90 104.01L603.10 104.12L603.30 100.80L603.50 101.92L603.70 105.34L603.90 104.49L604.10 104.56L604.30 105.49L604.50 105.99L604.70 105.42L604.90 98.94L605.10 104.92L605.30 106.53L605.50 106.48L605.70 108.46L605.90 105.19L606.10 105.28L606.30 100.79L606.50 105.43L606.70 105.68L606.90 108.27L607.10 107.85L607.30 102.62L607.50 103.94L607.70 105.51L607.90 107.23L608.10 104.43L608.30 107.36L608.50 106.57L608.70 108.45L608.90 105.86L609.10 106.19L609.30 103.43L609.50 106.74L609.70 107.97L609.90 106.90L610.10 107.01L610.30 109.69L610.50 108.26L610.70 106.50L610.70 110.50L610.90 108.18L611.10 106.61L611.30 106.16L611.50 108.19L611.70 107.65L611.90 108.04L612.10 105.77L612.30 109.02L612.50 109.89L612.70 107.79L612.90 107.40L613.10 112.72L613.30 112.80L613.50 106.32L613.70 108.61L613.90 108.37L614.10 107.79L614.30 108.80L614.50 109.45L614.70 108.45L614.90 108.28L615.10 111.04L615.30 109.75L615.50 108.52L615.70 107.60L615.90 109.04L616.10 112.68L616.30 111.23L616.50 108.39L616.70 110.14L616.90 103.02L617.10 112.48L617.30 113.27L617.50 108.87L617.70 109.64L617.90 109.53L618.10 108.90L618.30 111.15L618.50 110.13L618.70 103.74L618.90 109.49L619.10 111.39L619.30 111.67L619.50 105.86L619.70 111.22L619.90 111.63L620.10 111.71L620.30 111.85L620.50 112.63L620.70 110.88L620.90 113.38L621.10 111.46L621.30 108.56L621.50 112.35L621.70 111.32L621.90 112.45L622.10 111.62L622.30 112.13L622.50 112.39L622.70 113.11L622.90 111.59L623.10 113.08L623.30 111.39L623.50 113.93L623.70 111.54L623.90 109.87L624.10 109.01L624.30 113.26L624.50 112.36L624.70 113.33L624.90 112.45L625.10 113.05L625.30 115.34L625.50 116.22L625.70 109.80L625.90 116.95L626.10 113.64L626.30 114.68L626.30 116.64L626.50 112.31L626.70 113.45L626.90 116.16L627.10 114.06L627.30 116.45L627.50 115.84L627.70 122.95L627.90 114.88L628.10 111.35L628.30 116.90L628.50 113.03L628.70 112.85L628.90 114.21L629.10 113.42L629.30 112.90L629.50 115.37L629.70 117.53L629.90 114.07L630.10 114.67L630.30 115.68L630.50 114.48L630.70 115.30L630.90 118.01L631.10 113.29L631.30 115.65L631.50 114.33L631.70 116.87L631.90 114.44L632.10 117.28L632.30 115.57L632.50 118.93L632.70 115.56L632.90 116.09L633.10 113.86L633.30 115.36L633.50 116.04L633.70 118.70L633.90 116.74L634.10 117.98L634.30 118.44L634.50 114.09L634.70 116.04L634.90 118.44L635.10 117.94L635.30 117.14L635.50 116.68L635.70 117.07L635.90 111.87L636.10 115.17L636.30 116.76L636.50 115.43L636.70 116.24L636.90 118.89L637.10 118.68L637.30 118.52L637.50 117.87L637.70 120.51L637.90 116.62L638.10 118.26L638.30 117.65L638.50 121.20L638.70 117.47L638.90 116.99L639.10 119.31L639.30 119.67L639.50 119.14L639.70 119.60L639.90 116.96L640.10 118.81L640.30 118.63L640.50 121.14L640.70 118.29L640.90 117.63L641.10 118.02L641.30 118.84L641.50 123.96L641.70 119.67L641.90 119.84L642.00 118.90L642.10 118.68L642.30 122.06L642.50 118.98L642.70 117.12L642.90 120.48L643.10 117.94L643.30 118.98L643.50 119.79L643.70 121.10L643.90 113.07L644.10 120.11L644.30 117.67L644.50 120.13L644.70 120.08L644.90 119.83L645.10 119.59L645.30 120.01L645.50 123.62L645.70 119.46L645.90 119.95L646.10 118.26L646.30 119.76L646.50 116.79L646.70 122.80L646.90 119.74L647.10 123.46L647.30 118.43L647.50 121.03L647.70 120.84L647.90 121.12L648.10 121.93L648.30 117.79L648.50 121.66L648.70 116.31L648.90 120.03L649.10 122.61L649.30 121.11L649.50 123.90L649.70 122.91L649.90 120.77L650.10 120.21L650.30 119.77L650.50 117.46L650.70 122.06L650.90 122.68L651.10 117.78L651.30 121.32L651.50 123.02L651.70 121.93L651.90 121.21L652.10 124.96L652.30 121.32L652.50 120.91L652.70 121.65L652.90 121.16L653.10 121.38L653.30 121.78L653.50 119.04L653.70 122.22L653.90 122.19L654.10 122.79L654.30 120.92L654.50 118.29L654.70 122.89L654.90 121.67L655.10 122.49L655.30 121.29L655.50 121.70L655.70 121.32L655.90 122.30L656.10 122.89L656.30 121.27L656.50 121.75L656.70 122.36L656.90 123.27L657.10 122.10L657.30 119.47L657.50 122.69L657.70 122.52L657.90 130.37L658.10 123.00L658.30 119.20L658.50 123.32L658.70 120.15L658.90 122.44L659.00 118.92" stroke="#1a1aee" stroke-width="1.35" fill="none" stroke-linejoin="round" />
<path d="M533.50 77.95L533.70 76.00L533.90 81.19L534.10 76.31L534.30 82.21L534.50 80.71L534.70 78.07L534.90 77.96L535.10 77.75L535.30 79.30L535.50 76.74L535.70 77.80L535.90 75.04L536.10 78.23L536.30 77.03L536.50 81.49L536.70 78.51L536.90 77.47L537.10 77.85L537.30 77.24L537.50 76.22L537.70 75.47L537.90 79.96L538.10 76.67L538.30 81.00L538.50 83.57L538.70 82.09L538.90 77.74L539.10 80.83L539.30 79.84L539.50 83.06L539.70 78.79L539.90 80.06L540.10 80.17L540.30 78.28L540.50 80.22L540.70 80.87L540.90 81.49L541.10 82.01L541.30 75.49L541.50 81.32L541.70 79.55L541.90 81.48L542.10 78.46L542.30 79.96L542.50 80.14L542.70 81.30L542.90 80.99L543.10 82.19L543.30 73.74L543.50 79.86L543.70 81.81L543.90 79.70L544.10 82.75L544.30 80.22L544.50 81.66L544.70 77.61L544.90 83.95L545.10 78.84L545.30 80.93L545.50 80.90L545.70 80.56L545.90 81.52L546.10 81.53L546.30 82.90L546.50 86.10L546.70 83.06L546.90 82.59L547.10 80.25L547.30 80.41L547.50 75.99L547.70 79.21L547.90 83.22L548.10 78.53L548.30 81.03L548.50 81.63L548.70 80.28L548.70 81.49L548.90 81.07L549.10 81.88L549.30 80.62L549.50 77.61L549.70 85.01L549.90 83.43L550.10 83.65L550.30 81.41L550.50 85.84L550.70 84.29L550.90 82.29L551.10 81.79L551.30 84.08L551.50 77.73L551.70 83.02L551.90 84.92L552.10 85.61L552.30 85.88L552.50 82.71L552.70 77.54L552.90 82.47L553.10 82.10L553.30 83.38L553.50 84.10L553.70 88.26L553.90 82.53L554.10 82.77L554.30 80.55L554.50 85.08L554.70 83.39L554.90 82.23L555.10 83.48L555.30 83.47L555.50 85.14L555.70 82.37L555.90 83.65L556.10 83.49L556.30 81.18L556.50 81.72L556.70 82.63L556.90 83.60L557.10 84.05L557.30 84.96L557.50 86.64L557.70 81.30L557.90 88.64L558.10 83.75L558.30 85.39L558.50 83.48L558.70 85.13L558.90 84.93L559.10 79.10L559.30 86.42L559.50 80.47L559.70 84.32L559.90 83.07L560.10 84.74L560.30 82.87L560.50 84.88L560.70 85.76L560.90 84.90L561.10 86.38L561.30 84.22L561.50 85.33L561.70 84.54L561.90 87.55L562.10 82.17L562.30 86.94L562.50 79.17L562.70 86.86L562.90 82.15L563.10 85.77L563.30 82.50L563.50 86.35L563.70 83.81L563.90 82.04L564.10 87.28L564.30 85.46L564.30 87.07L564.50 86.62L564.70 82.65L564.90 82.72L565.10 86.24L565.30 87.25L565.50 83.83L565.70 87.82L565.90 80.89L566.10 86.78L566.30 86.07L566.50 85.24L566.70 85.28L566.90 84.98L567.10 85.71L567.30 85.84L567.50 84.14L567.70 80.24L567.90 86.06L568.10 84.50L568.30 83.51L568.50 85.04L568.70 84.21L568.90 88.28L569.10 85.41L569.30 86.86L569.50 80.16L569.70 87.02L569.90 90.22L570.10 87.62L570.30 87.73L570.50 86.31L570.70 86.57L570.90 89.24L571.10 85.55L571.30 86.80L571.50 87.79L571.70 86.25L571.90 86.82L572.10 82.79L572.30 87.72L572.50 85.32L572.70 86.05L572.90 85.87L573.10 88.08L573.30 86.86L573.50 94.19L573.70 88.73L573.90 90.29L574.10 88.11L574.30 86.19L574.50 86.76L574.70 86.98L574.90 86.09L575.10 87.44L575.30 88.96L575.50 87.69L575.70 85.91L575.90 88.66L576.10 91.90L576.30 87.65L576.50 85.77L576.70 88.76L576.90 87.94L577.10 89.34L577.30 88.23L577.50 90.02L577.70 82.30L577.90 88.47L578.10 88.28L578.30 89.22L578.50 86.65L578.70 88.26L578.90 86.99L579.10 89.10L579.30 85.10L579.50 86.18L579.70 91.48L579.90 89.02L580.00 86.92L580.10 87.26L580.30 87.77L580.50 86.79L580.70 85.98L580.90 92.40L581.10 86.61L581.30 89.03L581.50 88.84L581.70 88.92L581.90 87.11L582.10 86.60L582.30 88.27L582.50 95.22L582.70 87.40L582.90 86.47L583.10 87.77L583.30 86.19L583.50 87.11L583.70 88.65L583.90 86.48L584.10 87.42L584.30 88.09L584.50 85.72L584.70 85.53L584.90 91.63L585.10 89.51L585.30 89.69L585.50 87.59L585.70 87.33L585.90 84.88L586.10 86.09L586.30 84.86L586.50 87.28L586.70 86.93L586.90 85.44L587.10 84.53L587.30 87.31L587.50 85.04L587.70 81.24L587.90 85.72L588.10 88.42L588.30 87.52L588.50 86.96L588.70 85.63L588.90 86.76L589.10 80.68L589.30 86.16L589.50 86.76L589.70 84.14L589.90 87.08L590.10 86.61L590.30 83.30L590.40 84.87L590.50 86.76L590.70 89.30L590.90 83.40L591.10 87.05L591.30 85.97L591.50 86.49L591.70 89.86L591.90 87.44L592.10 86.12L592.30 86.90L592.50 92.29L592.70 89.26L592.90 86.98L593.10 87.39L593.30 87.22L593.50 85.54L593.70 91.82L593.90 86.35L594.10 86.35L594.30 85.35L594.50 91.20L594.70 90.68L594.90 88.48L595.10 88.15L595.30 88.42L595.50 87.75L595.70 90.69L595.90 88.59L596.10 90.44L596.30 89.34L596.50 89.34L596.70 89.38L596.90 90.07L597.10 90.43L597.30 89.67L597.50 88.33L597.70 88.09L597.90 87.69L598.00 91.16L598.10 89.19L598.30 77.75L598.50 89.71L598.70 91.47L598.90 92.35L599.10 92.86L599.30 91.72L599.50 88.04L599.70 89.80L599.90 90.66L600.10 90.40L600.30 89.41L600.50 85.91L600.70 92.49L600.90 91.41L601.10 92.26L601.30 89.84L601.50 89.21L601.70 92.21L601.90 91.02L602.10 91.15L602.30 86.35L602.50 88.21L602.70 91.91L602.90 93.05L603.10 90.28L603.30 93.03L603.50 89.33L603.70 91.29L603.90 90.51L604.10 91.25L604.30 89.74L604.50 90.85L604.70 91.21L604.90 91.68L605.10 90.07L605.30 91.91L605.50 90.25L605.70 96.46L605.90 90.59L606.10 89.41L606.30 90.91L606.50 92.17L606.70 91.83L606.90 92.68L607.10 89.76L607.30 91.92L607.50 92.48L607.70 97.06L607.90 94.77L608.10 92.75L608.30 91.78L608.50 90.33L608.70 93.21L608.90 93.01L609.10 92.79L609.30 93.87L609.50 92.91L609.70 94.39L609.90 92.32L610.10 92.59L610.30 96.08L610.50 93.69L610.70 97.29L610.70 90.20L610.90 96.57L611.10 90.25L611.30 94.83L611.50 94.11L611.70 91.69L611.90 93.22L612.10 94.03L612.30 94.38L612.50 94.24L612.70 89.79L612.90 101.59L613.10 94.00L613.30 95.58L613.50 97.82L613.70 99.52L613.90 93.36L614.10 97.46L614.30 95.18L614.50 95.82L614.70 94.22L614.90 93.48L615.10 95.82L615.30 98.23L615.50 95.47L615.70 99.58L615.90 96.79L616.10 90.89L616.30 99.36L616.50 93.93L616.70 95.10L616.90 96.70L617.10 99.93L617.30 94.64L617.50 96.00L617.70 93.15L617.90 94.29L618.10 96.91L618.30 97.51L618.50 97.39L618.70 93.76L618.90 97.34L619.10 97.50L619.30 101.02L619.50 97.24L619.70 98.51L619.90 98.09L620.10 99.52L620.30 98.72L620.50 105.00L620.70 99.08L620.90 98.08L621.10 98.52L621.30 100.86L621.50 98.53L621.70 102.14L621.90 99.03L622.10 102.76L622.30 97.55L622.50 100.88L622.70 99.48L622.90 98.52L623.10 100.19L623.30 96.63L623.50 98.64L623.70 102.06L623.90 100.37L624.10 99.79L624.30 98.55L624.50 98.82L624.70 99.49L624.90 100.68L625.10 95.85L625.30 99.61L625.50 100.87L625.70 103.49L625.90 103.38L626.10 104.62L626.30 100.24L626.30 99.31L626.50 103.48L626.70 102.49L626.90 100.67L627.10 101.66L627.30 104.96L627.50 103.66L627.70 105.42L627.90 102.25L628.10 100.86L628.30 102.59L628.50 100.22L628.70 100.36L628.90 100.06L629.10 101.76L629.30 101.18L629.50 101.99L629.70 103.91L629.90 103.89L630.10 98.65L630.30 105.41L630.50 105.13L630.70 107.07L630.90 102.40L631.10 104.78L631.30 104.09L631.50 104.83L631.70 106.68L631.90 101.32L632.10 106.09L632.30 106.37L632.50 105.01L632.70 104.22L632.90 104.79L633.10 102.75L633.30 105.90L633.50 105.11L633.70 105.29L633.90 105.98L634.10 102.70L634.30 101.60L634.50 103.14L634.70 102.60L634.90 107.04L635.10 103.58L635.30 105.32L635.50 106.45L635.70 104.90L635.90 108.76L636.10 108.89L636.30 105.82L636.50 106.60L636.70 107.72L636.90 111.68L637.10 107.32L637.30 106.48L637.50 102.88L637.70 107.34L637.90 107.50L638.10 107.75L638.30 106.50L638.50 109.17L638.70 107.55L638.90 106.88L639.10 106.26L639.30 103.07L639.50 108.42L639.70 106.91L639.90 109.65L640.10 107.10L640.30 107.10L640.50 109.27L640.70 107.59L640.90 113.71L641.10 108.39L641.30 111.52L641.50 106.09L641.70 104.65L641.90 102.76L642.00 110.70L642.10 108.46L642.30 109.60L642.50 108.76L642.70 113.05L642.90 110.34L643.10 108.82L643.30 107.36L643.50 108.61L643.70 108.71L643.90 108.65L644.10 110.12L644.30 111.07L644.50 111.07L644.70 107.97L644.90 107.79L645.10 110.23L645.30 110.63L645.50 111.03L645.70 112.37L645.90 109.22L646.10 106.77L646.30 109.50L646.50 109.36L646.70 107.73L646.90 110.87L647.10 110.27L647.30 110.75L647.50 112.48L647.70 110.69L647.90 112.84L648.10 112.12L648.30 110.71L648.50 111.11L648.70 110.65L648.90 110.41L649.10 111.85L649.30 111.29L649.50 110.52L649.70 111.63L649.90 111.23L650.10 108.81L650.30 112.30L650.50 111.29L650.70 114.42L650.90 113.94L651.10 109.14L651.30 110.54L651.50 112.38L651.70 110.21L651.90 113.35L652.10 112.44L652.30 115.47L652.50 111.32L652.70 112.68L652.90 112.35L653.10 112.76L653.30 115.67L653.50 111.60L653.70 111.00L653.90 113.74L654.10 110.43L654.30 112.54L654.50 115.43L654.70 114.34L654.90 113.29L655.10 106.95L655.30 117.69L655.50 112.52L655.70 111.88L655.90 109.62L656.10 110.87L656.30 109.11L656.50 113.13L656.70 112.55L656.90 112.19L657.10 114.67L657.30 110.23L657.50 112.90L657.70 114.68L657.90 114.95L658.10 114.15L658.30 113.42L658.50 111.59L658.70 113.06L658.90 114.44L659.00 114.80" stroke="#ff8a14" stroke-width="1.35" fill="none" stroke-linejoin="round" />
<path d="M533.50 66.89L533.70 67.96L533.90 66.93L534.10 67.78L534.30 68.19L534.50 66.19L534.70 66.14L534.90 69.92L535.10 66.80L535.30 67.17L535.50 67.19L535.70 68.27L535.90 64.66L536.10 67.48L536.30 67.49L536.50 66.39L536.70 67.58L536.90 68.76L537.10 66.08L537.30 67.32L537.50 68.08L537.70 68.03L537.90 68.57L538.10 67.79L538.30 67.08L538.50 67.96L538.70 69.06L538.90 68.20L539.10 68.18L539.30 69.03L539.50 68.61L539.70 67.55L539.90 68.37L540.10 69.91L540.30 66.56L540.50 69.30L540.70 68.43L540.90 69.36L541.10 68.07L541.30 69.24L541.50 69.96L541.70 67.54L541.90 70.96L542.10 68.00L542.30 66.50L542.50 70.04L542.70 69.34L542.90 67.38L543.10 69.70L543.30 69.48L543.50 72.96L543.70 71.85L543.90 70.68L544.10 69.70L544.30 70.48L544.50 70.24L544.70 69.36L544.90 70.37L545.10 69.51L545.30 69.82L545.50 68.63L545.70 69.07L545.90 70.09L546.10 70.98L546.30 70.85L546.50 69.36L546.70 70.34L546.90 69.95L547.10 69.69L547.30 70.17L547.50 70.78L547.70 71.92L547.90 69.31L548.10 70.18L548.30 71.13L548.50 70.66L548.70 70.51L548.70 71.39L548.90 68.25L549.10 72.46L549.30 70.37L549.50 71.75L549.70 71.73L549.90 71.79L550.10 71.19L550.30 71.29L550.50 69.30L550.70 70.98L550.90 71.35L551.10 70.72L551.30 71.55L551.50 71.34L551.70 71.60L551.90 72.26L552.10 71.06L552.30 71.62L552.50 69.70L552.70 72.15L552.90 72.26L553.10 71.90L553.30 71.95L553.50 71.72L553.70 71.34L553.90 72.37L554.10 70.73L554.30 71.90L554.50 70.65L554.70 72.34L554.90 71.87L555.10 72.14L555.30 71.13L555.50 71.84L555.70 72.30L555.90 71.95L556.10 72.52L556.30 70.78L556.50 71.89L556.70 71.03L556.90 72.70L557.10 72.06L557.30 72.79L557.50 72.84L557.70 70.40L557.90 72.58L558.10 73.11L558.30 73.77L558.50 71.17L558.70 71.23L558.90 72.44L559.10 73.08L559.30 71.46L559.50 76.43L559.70 73.06L559.90 70.02L560.10 73.21L560.30 72.63L560.50 71.98L560.70 73.10L560.90 73.25L561.10 73.07L561.30 72.38L561.50 72.16L561.70 71.35L561.90 72.15L562.10 72.75L562.30 72.73L562.50 71.58L562.70 73.96L562.90 72.37L563.10 71.77L563.30 72.51L563.50 73.10L563.70 73.43L563.90 71.89L564.10 72.38L564.30 71.10L564.30 73.13L564.50 78.27L564.70 73.97L564.90 74.30L565.10 74.73L565.30 72.82L565.50 73.72L565.70 73.35L565.90 73.28L566.10 74.09L566.30 73.68L566.50 73.81L566.70 73.17L566.90 75.25L567.10 73.97L567.30 73.95L567.50 74.30L567.70 75.10L567.90 73.02L568.10 73.36L568.30 76.04L568.50 74.22L568.70 75.05L568.90 73.65L569.10 76.70L569.30 73.90L569.50 74.75L569.70 75.37L569.90 74.12L570.10 73.99L570.30 74.15L570.50 73.17L570.70 72.75L570.90 75.90L571.10 74.54L571.30 72.96L571.50 74.47L571.70 73.82L571.90 75.23L572.10 74.15L572.30 71.91L572.50 74.75L572.70 77.85L572.90 74.98L573.10 76.45L573.30 73.36L573.50 74.17L573.70 75.20L573.90 74.56L574.10 73.87L574.30 74.38L574.50 74.26L574.70 75.10L574.90 75.32L575.10 75.22L575.30 75.07L575.50 75.30L575.70 76.20L575.90 74.34L576.10 74.39L576.30 77.34L576.50 75.94L576.70 75.18L576.90 75.56L577.10 75.16L577.30 74.55L577.50 75.03L577.70 74.40L577.90 73.73L578.10 74.67L578.30 75.69L578.50 74.01L578.70 73.18L578.90 74.42L579.10 75.62L579.30 76.08L579.50 74.55L579.70 76.90L579.90 74.97L580.00 75.35L580.10 75.31L580.30 74.91L580.50 75.86L580.70 76.18L580.90 74.95L581.10 74.61L581.30 76.54L581.50 75.37L581.70 74.75L581.90 74.15L582.10 74.80L582.30 74.89L582.50 75.71L582.70 75.35L582.90 74.98L583.10 76.23L583.30 75.09L583.50 75.92L583.70 73.41L583.90 73.56L584.10 75.88L584.30 75.40L584.50 74.43L584.70 73.85L584.90 73.45L585.10 74.57L585.30 76.00L585.50 74.17L585.70 74.36L585.90 75.70L586.10 74.13L586.30 74.32L586.50 75.37L586.70 75.79L586.90 76.47L587.10 73.04L587.30 74.53L587.50 75.03L587.70 74.53L587.90 75.32L588.10 74.23L588.30 75.00L588.50 73.97L588.70 73.91L588.90 75.49L589.10 75.03L589.30 74.92L589.50 74.59L589.70 75.12L589.90 76.57L590.10 74.58L590.30 73.03L590.40 74.30L590.50 75.42L590.70 74.42L590.90 75.35L591.10 74.17L591.30 75.02L591.50 74.66L591.70 74.98L591.90 74.75L592.10 75.17L592.30 75.55L592.50 75.50L592.70 75.06L592.90 73.28L593.10 76.10L593.30 74.21L593.50 75.23L593.70 76.16L593.90 77.98L594.10 76.12L594.30 74.64L594.50 77.81L594.70 74.14L594.90 74.03L595.10 76.55L595.30 77.52L595.50 76.49L595.70 77.37L595.90 76.67L596.10 75.16L596.30 76.78L596.50 77.23L596.70 76.73L596.90 77.22L597.10 76.84L597.30 75.78L597.50 78.00L597.70 76.44L597.90 76.50L598.00 76.19L598.10 76.96L598.30 77.13L598.50 76.66L598.70 76.58L598.90 77.40L599.10 74.76L599.30 77.60L599.50 76.51L599.70 76.74L599.90 76.73L600.10 78.75L600.30 78.67L600.50 80.60L600.70 78.76L600.90 78.12L601.10 78.00L601.30 78.38L601.50 78.53L601.70 81.20L601.90 78.13L602.10 79.73L602.30 80.30L602.50 80.42L602.70 78.90L602.90 78.94L603.10 82.50L603.30 78.73L603.50 79.54L603.70 77.63L603.90 78.51L604.10 79.13L604.30 79.67L604.50 78.48L604.70 80.08L604.90 79.50L605.10 78.46L605.30 77.58L605.50 79.39L605.70 80.40L605.90 81.99L606.10 80.30L606.30 79.21L606.50 81.06L606.70 79.06L606.90 79.82L607.10 80.36L607.30 79.82L607.50 79.86L607.70 80.13L607.90 81.53L608.10 80.30L608.30 79.10L608.50 80.22L608.70 80.67L608.90 80.65L609.10 82.47L609.30 80.72L609.50 81.41L609.70 81.34L609.90 80.82L610.10 80.80L610.30 80.93L610.50 79.97L610.70 79.78L610.70 79.99L610.90 80.15L611.10 79.86L611.30 81.09L611.50 80.41L611.70 83.71L611.90 81.28L612.10 77.97L612.30 81.83L612.50 82.02L612.70 83.35L612.90 81.17L613.10 81.42L613.30 82.33L613.50 82.09L613.70 82.14L613.90 83.51L614.10 85.74L614.30 79.03L614.50 81.95L614.70 83.83L614.90 79.76L615.10 82.01L615.30 82.92L615.50 80.99L615.70 82.61L615.90 83.90L616.10 82.63L616.30 79.07L616.50 81.57L616.70 82.58L616.90 80.01L617.10 83.13L617.30 82.43L617.50 82.66L617.70 83.62L617.90 83.52L618.10 83.79L618.30 82.42L618.50 82.92L618.70 83.49L618.90 83.31L619.10 84.07L619.30 83.26L619.50 84.74L619.70 82.89L619.90 83.83L620.10 84.29L620.30 86.49L620.50 83.49L620.70 84.85L620.90 83.97L621.10 84.10L621.30 83.40L621.50 85.01L621.70 82.48L621.90 87.04L622.10 84.19L622.30 84.27L622.50 83.39L622.70 84.55L622.90 83.39L623.10 85.15L623.30 84.87L623.50 83.59L623.70 85.10L623.90 84.73L624.10 84.15L624.30 84.88L624.50 85.00L624.70 84.67L624.90 85.08L625.10 85.41L625.30 85.94L625.50 85.65L625.70 83.73L625.90 85.88L626.10 86.68L626.30 84.97L626.30 86.25L626.50 84.44L626.70 83.19L626.90 85.03L627.10 84.09L627.30 84.19L627.50 85.14L627.70 87.49L627.90 85.34L628.10 88.13L628.30 85.40L628.50 85.36L628.70 83.08L628.90 84.15L629.10 86.56L629.30 85.92L629.50 85.70L629.70 86.78L629.90 85.94L630.10 85.28L630.30 86.73L630.50 86.24L630.70 84.44L630.90 86.66L631.10 85.64L631.30 86.79L631.50 86.74L631.70 87.25L631.90 84.90L632.10 86.53L632.30 85.73L632.50 87.06L632.70 85.04L632.90 87.22L633.10 88.39L633.30 86.27L633.50 86.35L633.70 86.50L633.90 87.53L634.10 85.07L634.30 87.32L634.50 86.16L634.70 86.31L634.90 87.53L635.10 85.47L635.30 85.62L635.50 86.93L635.70 87.08L635.90 86.06L636.10 87.05L636.30 86.46L636.50 84.57L636.70 86.29L636.90 85.96L637.10 86.76L637.30 86.80L637.50 86.70L637.70 88.21L637.90 86.77L638.10 86.27L638.30 88.71L638.50 87.30L638.70 88.84L638.90 87.04L639.10 87.32L639.30 86.86L639.50 89.16L639.70 86.79L639.90 88.76L640.10 87.02L640.30 87.91L640.50 87.63L640.70 88.00L640.90 86.75L641.10 92.15L641.30 87.48L641.50 86.10L641.70 87.89L641.90 86.19L642.00 87.86L642.10 88.04L642.30 86.97L642.50 86.58L642.70 86.73L642.90 88.03L643.10 88.29L643.30 89.18L643.50 87.51L643.70 86.65L643.90 88.13L644.10 88.77L644.30 88.42L644.50 87.98L644.70 87.56L644.90 88.52L645.10 89.03L645.30 87.50L645.50 88.56L645.70 88.77L645.90 92.00L646.10 88.03L646.30 88.10L646.50 86.49L646.70 87.49L646.90 88.87L647.10 87.95L647.30 89.73L647.50 88.13L647.70 89.17L647.90 88.28L648.10 89.10L648.30 88.49L648.50 87.97L648.70 87.98L648.90 88.26L649.10 87.64L649.30 89.74L649.50 90.17L649.70 89.48L649.90 85.33L650.10 89.95L650.30 89.56L650.50 89.79L650.70 89.19L650.90 88.33L651.10 88.63L651.30 88.86L651.50 88.33L651.70 86.94L651.90 90.92L652.10 88.98L652.30 89.38L652.50 88.08L652.70 90.20L652.90 89.82L653.10 87.43L653.30 88.67L653.50 89.89L653.70 87.78L653.90 87.15L654.10 88.39L654.30 88.56L654.50 90.13L654.70 90.19L654.90 89.71L655.10 89.25L655.30 90.28L655.50 89.92L655.70 88.14L655.90 89.01L656.10 90.14L656.30 89.91L656.50 89.65L656.70 89.91L656.90 89.35L657.10 90.06L657.30 88.99L657.50 92.72L657.70 90.79L657.90 90.03L658.10 92.41L658.30 90.43L658.50 90.25L658.70 90.42L658.90 90.57L659.00 93.14" stroke="#f01818" stroke-width="1.35" fill="none" stroke-linejoin="round" />
</g>
<text x="581.80" y="62.80" font-size="12.5" fill="#555" text-anchor="start" textLength="24.3" lengthAdjust="spacingAndGlyphs" transform="rotate(-90 581.80 62.80)" font-weight="bold">bBN</text>
<text x="605.8" y="69.0" font-size="12.8" fill="#1b2f7c" transform="rotate(-90 605.8 69.0)">dX<tspan font-size="8" dy="2.0">ZA(K)</tspan></text>
<text x="625.8" y="69.0" font-size="12.8" fill="#1b2f7c" transform="rotate(-90 625.8 69.0)">dX<tspan font-size="8" dy="2.0">NP</tspan></text>
<text x="641.60" y="80.00" font-size="12" fill="#1a3a85" text-anchor="start" textLength="25.5" lengthAdjust="spacingAndGlyphs" transform="rotate(-90 641.60 80.00)" font-weight="bold">mBN</text>
<path d="M592.3 65.5 C592.5 77.5 629.5 77.5 629.8 65.5" fill="none" stroke="#1b2f7c" stroke-width="1.1"/>
<line x1="514.6" y1="234.40" x2="537.4" y2="234.40" stroke="#f01818" stroke-width="1.9"/>
<text x="542.6" y="238.70" font-size="10.75" fill="#f01818" textLength="104.5" lengthAdjust="spacingAndGlyphs"><tspan font-style="italic">θ</tspan> = 60<tspan font-size="8" dy="-4">o</tspan><tspan dy="4">, </tspan><tspan font-style="italic">V</tspan><tspan font-size="8" dy="2.5">acc</tspan><tspan dy="-2.5"> = -3.5 kV</tspan></text>
<line x1="514.6" y1="247.20" x2="537.4" y2="247.20" stroke="#ff8a14" stroke-width="1.9"/>
<text x="542.6" y="251.50" font-size="10.75" fill="#ff8a14" textLength="104.5" lengthAdjust="spacingAndGlyphs"><tspan font-style="italic">θ</tspan> = 60<tspan font-size="8" dy="-4">o</tspan><tspan dy="4">, </tspan><tspan font-style="italic">V</tspan><tspan font-size="8" dy="2.5">acc</tspan><tspan dy="-2.5"> = -2.5 kV</tspan></text>
<line x1="514.6" y1="260.00" x2="537.4" y2="260.00" stroke="#1a1aee" stroke-width="1.9"/>
<text x="542.6" y="264.30" font-size="10.75" fill="#1a1aee" textLength="104.5" lengthAdjust="spacingAndGlyphs"><tspan font-style="italic">θ</tspan> = 60<tspan font-size="8" dy="-4">o</tspan><tspan dy="4">, </tspan><tspan font-style="italic">V</tspan><tspan font-size="8" dy="2.5">acc</tspan><tspan dy="-2.5"> = -1.5 kV</tspan></text>
<line x1="514.6" y1="272.80" x2="537.4" y2="272.80" stroke="#000" stroke-width="1.9"/>
<text x="542.6" y="277.10" font-size="10.75" fill="#000" textLength="104.5" lengthAdjust="spacingAndGlyphs"><tspan font-style="italic">θ</tspan> = 60<tspan font-size="8" dy="-4">o</tspan><tspan dy="4">, </tspan><tspan font-style="italic">V</tspan><tspan font-size="8" dy="2.5">acc</tspan><tspan dy="-2.5"> = -1.0 kV</tspan></text>
<line x1="514.6" y1="285.60" x2="537.4" y2="285.60" stroke="#168a16" stroke-width="1.9"/>
<text x="542.6" y="289.90" font-size="10.75" fill="#168a16" textLength="104.5" lengthAdjust="spacingAndGlyphs"><tspan font-style="italic">θ</tspan> = 87<tspan font-size="8" dy="-4">o</tspan><tspan dy="4">, </tspan><tspan font-style="italic">V</tspan><tspan font-size="8" dy="2.5">acc</tspan><tspan dy="-2.5"> = -2.0 kV</tspan></text>
<line x1="514.6" y1="298.40" x2="537.4" y2="298.40" stroke="#8a2aa8" stroke-width="1.9"/>
<text x="542.6" y="302.70" font-size="10.75" fill="#8a2aa8" textLength="104.5" lengthAdjust="spacingAndGlyphs"><tspan font-style="italic">θ</tspan> = 84<tspan font-size="8" dy="-4">o</tspan><tspan dy="4">, </tspan><tspan font-style="italic">V</tspan><tspan font-size="8" dy="2.5">acc</tspan><tspan dy="-2.5"> = -1.5 kV</tspan></text>
</svg></body></html>
